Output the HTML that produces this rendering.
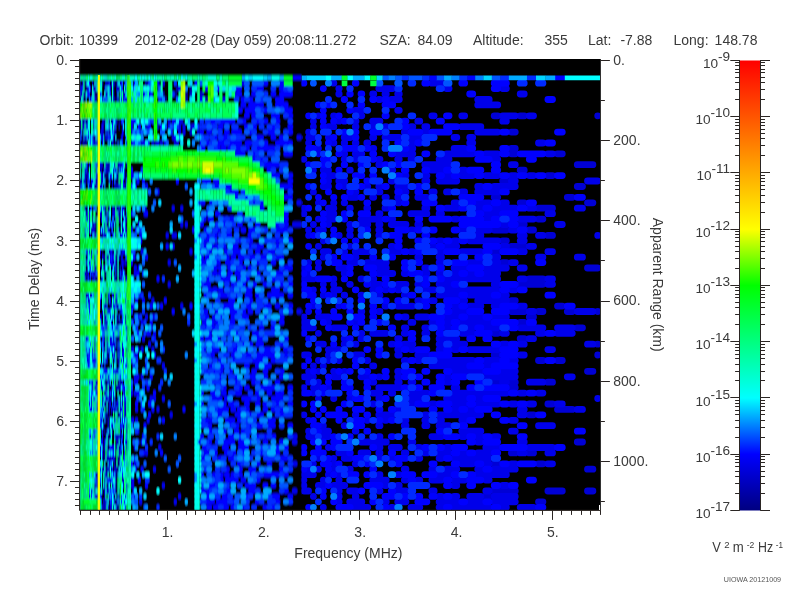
<!DOCTYPE html>
<html><head><meta charset="utf-8"><title>MARSIS AIS Ionogram</title>
<style>
html,body{margin:0;padding:0;background:#fff;}
body{width:800px;height:600px;overflow:hidden;}
svg{display:block;}
text{font-family:"Liberation Sans",sans-serif;font-size:14px;fill:#3a3a3a;}
.s{font-size:9.6px;}
.t{font-size:7.15px;fill:#555;}
</style></head><body>
<svg width="800" height="600" viewBox="0 0 800 600">
<rect width="800" height="600" fill="#fff"/>
<text x="39.6" y="45">Orbit:</text>
<text x="79.1" y="45">10399</text>
<text x="134.8" y="45">2012-02-28 (Day 059) 20:08:11.272</text>
<text x="379.5" y="45">SZA:</text>
<text x="417.5" y="45">84.09</text>
<text x="473" y="45">Altitude:</text>
<text x="544.5" y="45">355</text>
<text x="588" y="45">Lat:</text>
<text x="620.4" y="45">-7.88</text>
<text x="673.5" y="45">Long:</text>
<text x="714.6" y="45">148.78</text>
<rect x="79.3" y="59" width="521.5" height="451.6" fill="#000"/>
<defs><clipPath id="pc"><rect x="80" y="60" width="520" height="450"/></clipPath><clipPath id="pa"><rect x="80" y="60" width="119.8" height="450"/></clipPath><clipPath id="pb"><rect x="199.8" y="60" width="101.8" height="450"/></clipPath><clipPath id="pr"><rect x="301.6" y="60" width="298.4" height="450"/></clipPath><filter id="fa" x="0" y="0" width="800" height="600" filterUnits="userSpaceOnUse"><feGaussianBlur stdDeviation="0.45 1.1"/></filter><filter id="fb" x="0" y="0" width="800" height="600" filterUnits="userSpaceOnUse"><feGaussianBlur stdDeviation="0.7 0.8"/></filter><filter id="fr" x="0" y="0" width="800" height="600" filterUnits="userSpaceOnUse"><feGaussianBlur stdDeviation="0.7 0.7"/></filter></defs>
<g clip-path="url(#pr)"><g filter="url(#fr)">
<rect x="70" y="50" width="540" height="470" fill="#000"/>
<g fill="none" stroke-width="6.8" stroke-linecap="round"><path stroke="#0000d5" d="M494.2 115.8h3.512M520.2 115.8h4.038M597.7 115.8h0.01M511.4 132.1h3.859M511.4 148.4h3.859M511.4 153.8h3.859M557.5 153.8h4.791M577.3 164.7h15.59M520.2 170.2h4.038M547.9 175.6h4.597M502.7 181.0h3.684M577.3 186.5h5.191M494.2 197.3h3.512M567.3 197.3h4.989M520.2 202.8h4.038M587.5 202.8h5.397M538.5 208.2h14M538.5 219.1h4.407M520.2 224.5h4.038M494.2 230.0h12.2M529.3 230.0h4.221M547.9 235.4h4.597M502.7 240.8h3.684M511.4 246.3h12.9M494.2 251.7h3.512M502.7 262.6h3.684M587.5 268.0h10.02M529.3 278.9h13.63M520.2 284.3h22.67M511.4 300.7h3.859M557.5 306.1h4.791M511.4 311.5h12.9M538.5 311.5h4.407M567.3 311.5h4.989M597.7 311.5h0.01M529.3 317.0h4.221M520.2 322.4h4.038M577.3 327.8h5.191M494.2 333.3h3.512M520.2 338.7h4.038M597.7 344.2h0.01M494.2 355.0h3.512M597.7 355.0h0.01M538.5 360.5h4.407M557.5 360.5h4.791M587.5 371.3h5.397M494.2 382.2h3.512M511.4 382.2h3.859M547.9 382.2h4.597M511.4 387.7h3.859M547.9 404.0h4.597M557.5 409.4h14.78M529.3 414.8h4.221M577.3 442.0h5.191M511.4 452.9h3.859M529.3 452.9h4.221M494.2 463.8h3.512M538.5 463.8h4.407M587.5 469.2h5.397M494.2 491.0h21.06M547.9 491.0h14.39M587.5 491.0h5.397M485.8 496.4h3.344M538.5 501.8h4.407"/>
<path stroke="#0000ea" d="M333.6 83.2h0.2673M431.9 83.2h9.654M338.8 88.6h0.3737M378.8 88.6h13.92M446.5 88.6h2.55M502.7 88.6h3.684M338.8 94.0h0.3737M372.7 94.0h1.059M385.0 94.0h1.306M397.7 94.0h1.563M520.2 94.0h4.038M378.8 99.5h1.181M391.3 99.5h7.997M477.7 99.5h11.52M477.7 104.9h20.03M355.3 110.3h6.527M397.7 110.3h1.563M318.4 115.8h0.01M333.6 115.8h0.2673M361.0 115.8h0.8212M431.9 115.8h2.254M461.8 115.8h2.858M502.7 115.8h12.54M529.3 115.8h4.221M313.4 121.2h0.01M338.8 121.2h0.3737M355.3 121.2h0.706M372.7 121.2h7.24M417.8 121.2h1.969M502.7 121.2h3.684M313.4 126.7h0.01M328.4 126.7h5.43M355.3 126.7h0.706M372.7 126.7h1.059M385.0 126.7h1.306M411.0 126.7h1.831M424.8 126.7h2.11M461.8 126.7h19.05M308.6 132.1h0.01M404.3 132.1h1.696M424.8 132.1h2.11M477.7 132.1h20.03M299.3 137.5h0.01M308.7 137.5h4.628M328.4 137.5h0.163M344.2 137.5h6.075M372.7 137.5h1.059M385.0 137.5h14.3M411.0 137.5h8.8M454.1 137.5h2.702M469.7 137.5h3.016M308.6 143.0h0.01M333.6 143.0h0.2673M344.2 143.0h0.4822M355.3 143.0h0.706M366.8 143.0h0.9388M411.0 143.0h1.831M469.7 143.0h3.016M538.5 143.0h4.407M318.4 148.4h0.01M372.7 148.4h1.059M411.0 148.4h1.831M454.1 148.4h10.56M318.4 153.8h0.01M344.2 153.8h0.4822M355.3 153.8h6.527M397.7 153.8h15.09M446.5 153.8h26.13M485.8 153.8h11.86M547.9 153.8h4.597M303.9 159.3h0.01M344.2 159.3h0.4822M355.3 159.3h0.706M378.8 159.3h1.181M397.7 159.3h1.563M411.0 159.3h1.831M439.1 159.3h9.95M494.2 159.3h3.512M378.8 164.7h1.181M424.8 164.7h24.31M511.4 164.7h3.859M313.4 170.2h0.01M323.3 170.2h5.224M349.7 170.2h0.593M391.3 170.2h1.433M431.9 170.2h9.654M461.8 170.2h2.858M328.4 175.6h5.43M404.3 175.6h1.696M424.8 175.6h2.11M446.5 175.6h2.55M461.8 175.6h10.87M485.8 175.6h11.86M511.4 175.6h3.859M529.3 175.6h4.221M328.4 181.0h0.163M338.8 181.0h5.856M391.3 181.0h1.433M424.8 181.0h2.11M439.1 181.0h17.65M511.4 181.0h3.859M587.5 181.0h10.02M323.3 186.5h5.224M344.2 186.5h0.4822M366.8 186.5h0.9388M378.8 186.5h1.181M397.7 186.5h8.259M477.7 186.5h3.178M494.2 186.5h21.06M313.4 191.9h0.01M355.3 191.9h0.706M378.8 191.9h1.181M404.3 191.9h1.696M431.9 191.9h2.254M446.5 191.9h2.55M461.8 191.9h2.858M477.7 191.9h20.03M349.7 197.3h6.299M372.7 197.3h1.059M385.0 197.3h1.306M397.7 197.3h1.563M417.8 197.3h9.079M299.3 202.8h0.01M318.4 202.8h0.01M333.6 202.8h0.2673M344.2 202.8h0.4822M397.7 202.8h1.563M454.1 202.8h2.702M477.7 202.8h11.52M502.7 202.8h3.684M303.9 208.2h0.01M328.4 208.2h5.43M349.7 208.2h0.593M366.8 208.2h0.9388M385.0 208.2h1.306M424.8 208.2h2.11M446.5 208.2h10.25M477.7 208.2h3.178M494.2 208.2h21.06M529.3 208.2h4.221M577.3 208.2h5.191M303.9 213.7h0.01M328.4 213.7h5.43M378.8 213.7h1.181M411.0 213.7h15.91M439.1 213.7h2.4M485.8 213.7h11.86M547.9 213.7h4.597M318.4 219.1h0.01M328.4 219.1h5.43M361.0 219.1h19M391.3 219.1h1.433M454.1 219.1h2.702M485.8 219.1h3.344M520.2 219.1h13.26M295.0 224.5h4.068M313.4 224.5h0.01M328.4 224.5h0.163M349.7 224.5h0.593M361.0 224.5h6.76M378.8 224.5h1.181M391.3 224.5h14.69M417.8 224.5h1.969M502.7 224.5h3.684M557.5 224.5h4.791M308.6 230.0h0.01M318.4 230.0h5.021M349.7 230.0h0.593M378.8 230.0h1.181M411.0 230.0h1.831M461.8 230.0h2.858M477.7 230.0h11.52M511.4 230.0h3.859M308.6 235.4h0.01M338.8 235.4h0.3737M349.7 235.4h0.593M378.8 235.4h1.181M477.7 235.4h3.178M520.2 235.4h4.038M538.5 235.4h4.407M597.7 235.4h0.01M323.3 240.8h0.06077M439.1 240.8h2.4M454.1 240.8h2.702M469.7 240.8h28.05M520.2 240.8h4.038M318.4 246.3h0.01M349.7 246.3h0.593M391.3 246.3h1.433M431.9 246.3h2.254M446.5 246.3h10.25M502.7 246.3h3.684M529.3 246.3h4.221M323.3 251.7h5.224M344.2 251.7h0.4822M355.3 251.7h12.47M391.3 251.7h7.997M411.0 251.7h1.831M439.1 251.7h2.4M461.8 251.7h19.05M520.2 251.7h4.038M547.9 251.7h4.597M323.3 257.2h0.06077M355.3 257.2h0.706M417.8 257.2h1.969M439.1 257.2h2.4M494.2 257.2h3.512M538.5 257.2h4.407M577.3 257.2h5.191M308.6 262.6h0.01M318.4 262.6h0.01M349.7 262.6h6.299M366.8 262.6h19.48M439.1 262.6h2.4M469.7 262.6h11.19M494.2 262.6h3.512M511.4 262.6h3.859M303.9 268.0h0.01M318.4 268.0h0.01M338.8 268.0h5.856M378.8 268.0h7.487M424.8 268.0h2.11M454.1 268.0h10.56M485.8 268.0h20.54M520.2 268.0h4.038M308.6 273.5h0.01M344.2 273.5h0.4822M378.8 273.5h13.92M404.3 273.5h1.696M424.8 273.5h2.11M439.1 273.5h2.4M454.1 273.5h2.702M469.7 273.5h3.016M485.8 273.5h11.86M304.1 278.9h9.3M333.6 278.9h0.2673M361.0 278.9h0.8212M372.7 278.9h1.059M446.5 278.9h51.16M520.2 278.9h4.038M547.9 278.9h4.597M323.3 284.3h0.06077M333.6 284.3h0.2673M349.7 284.3h0.593M372.7 284.3h7.24M397.7 284.3h8.259M417.8 284.3h1.969M439.1 284.3h9.95M494.2 284.3h3.512M547.9 284.3h4.597M313.4 289.8h0.01M333.6 289.8h5.641M372.7 289.8h1.059M385.0 289.8h1.306M397.7 289.8h1.563M424.8 289.8h9.364M446.5 289.8h51.16M511.4 289.8h3.859M323.3 295.2h0.06077M333.6 295.2h0.2673M344.2 295.2h0.4822M361.0 295.2h0.8212M378.8 295.2h1.181M404.3 295.2h1.696M439.1 295.2h17.65M469.7 295.2h19.54M502.7 295.2h3.684M417.8 300.7h1.969M431.9 300.7h2.254M461.8 300.7h2.858M477.7 300.7h28.72M313.4 306.1h0.01M338.8 306.1h0.3737M385.0 306.1h1.306M397.7 306.1h15.09M454.1 306.1h2.702M469.7 306.1h11.19M494.2 306.1h3.512M520.2 306.1h4.038M299.3 311.5h0.01M308.6 311.5h0.01M361.0 311.5h0.8212M378.8 311.5h1.181M454.1 311.5h10.56M529.3 311.5h4.221M577.3 311.5h15.59M303.9 317.0h0.01M318.4 317.0h10.18M404.3 317.0h1.696M417.8 317.0h9.079M446.5 317.0h10.25M469.7 317.0h11.19M494.2 317.0h12.2M304.1 322.4h4.438M328.4 322.4h0.163M355.3 322.4h0.706M411.0 322.4h1.831M431.9 322.4h2.254M446.5 322.4h2.55M461.8 322.4h27.4M304.1 327.8h9.3M333.6 327.8h11.12M404.3 327.8h1.696M424.8 327.8h2.11M446.5 327.8h2.55M469.7 327.8h3.016M485.8 327.8h11.86M520.2 327.8h22.67M557.5 327.8h14.78M318.4 333.3h0.01M361.0 333.3h0.8212M372.7 333.3h13.55M404.3 333.3h1.696M424.8 333.3h2.11M461.8 333.3h10.87M502.7 333.3h3.684M538.5 333.3h4.407M557.5 333.3h14.78M344.2 338.7h0.4822M361.0 338.7h0.8212M397.7 338.7h1.563M439.1 338.7h17.65M529.3 338.7h4.221M318.4 344.2h5.021M344.2 344.2h0.4822M355.3 344.2h0.706M391.3 344.2h1.433M404.3 344.2h8.527M439.1 344.2h2.4M454.1 344.2h10.56M502.7 344.2h3.684M520.2 344.2h4.038M587.5 344.2h5.397M328.4 349.6h10.8M397.7 349.6h1.563M411.0 349.6h1.831M439.1 349.6h2.4M454.1 349.6h2.702M469.7 349.6h28.05M547.9 349.6h4.597M304.1 355.0h4.438M328.4 355.0h0.163M355.3 355.0h6.527M397.7 355.0h1.563M417.8 355.0h9.079M520.2 355.0h4.038M318.4 360.5h0.01M328.4 360.5h0.163M338.8 360.5h0.3737M366.8 360.5h0.9388M404.3 360.5h1.696M417.8 360.5h1.969M439.1 360.5h33.53M485.8 360.5h11.86M511.4 360.5h3.859M313.4 365.9h0.01M323.3 365.9h0.06077M372.7 365.9h1.059M431.9 365.9h32.76M485.8 365.9h3.344M308.6 371.3h0.01M318.4 371.3h0.01M333.6 371.3h0.2673M344.2 371.3h0.4822M397.7 371.3h1.563M454.1 371.3h26.75M502.7 371.3h12.54M304.1 376.8h9.3M333.6 376.8h5.641M361.0 376.8h6.76M378.8 376.8h1.181M397.7 376.8h1.563M446.5 376.8h2.55M485.8 376.8h29.4M567.3 376.8h4.989M308.6 382.2h0.01M318.4 382.2h0.01M372.7 382.2h1.059M397.7 382.2h1.563M411.0 382.2h1.831M446.5 382.2h2.55M502.7 382.2h3.684M529.3 382.2h13.63M303.9 387.7h0.01M313.5 387.7h4.823M328.4 387.7h0.163M378.8 387.7h20.48M454.1 387.7h2.702M313.4 393.1h0.01M372.7 393.1h7.24M391.3 393.1h1.433M411.0 393.1h15.91M454.1 393.1h52.29M520.2 393.1h4.038M538.5 393.1h4.407M318.4 398.5h0.01M333.6 398.5h0.2673M349.7 398.5h0.593M378.8 398.5h1.181M411.0 398.5h8.8M446.5 398.5h18.11M477.7 398.5h3.178M597.7 398.5h0.01M372.7 404.0h1.059M411.0 404.0h1.831M431.9 404.0h2.254M454.1 404.0h10.56M477.7 404.0h20.03M511.4 404.0h3.859M529.3 404.0h4.221M557.5 404.0h4.791M397.7 409.4h1.563M454.1 409.4h2.702M469.7 409.4h3.016M520.2 409.4h4.038M577.3 409.4h5.191M303.9 414.8h0.01M355.3 414.8h0.706M378.8 414.8h13.92M424.8 414.8h2.11M439.1 414.8h41.7M520.2 414.8h4.038M308.6 420.3h0.01M366.8 420.3h0.9388M385.0 420.3h1.306M404.3 420.3h1.696M424.8 420.3h2.11M439.1 420.3h2.4M461.8 420.3h2.858M511.4 420.3h3.859M323.3 425.7h0.06077M344.2 425.7h0.4822M378.8 425.7h1.181M404.3 425.7h1.696M424.8 425.7h2.11M439.1 425.7h9.95M538.5 425.7h14M308.6 431.2h0.01M323.3 431.2h5.224M355.3 431.2h0.706M461.8 431.2h19.05M511.4 431.2h3.859M294.7 436.6h0.01M308.7 436.6h4.628M323.3 436.6h5.224M378.8 436.6h1.181M431.9 436.6h9.654M461.8 436.6h2.858M477.7 436.6h3.178M494.2 436.6h3.512M294.7 442.0h0.01M361.0 442.0h25.31M411.0 442.0h1.831M477.7 442.0h3.178M520.2 442.0h4.038M328.4 447.5h0.163M378.8 447.5h1.181M391.3 447.5h7.997M417.8 447.5h1.969M446.5 447.5h2.55M485.8 447.5h11.86M529.3 447.5h23.23M338.8 452.9h5.856M361.0 452.9h6.76M378.8 452.9h1.181M404.3 452.9h1.696M424.8 452.9h2.11M439.1 452.9h9.95M461.8 452.9h2.858M477.7 452.9h11.52M520.2 452.9h4.038M547.9 452.9h4.597M318.4 458.3h0.01M333.6 458.3h0.2673M344.2 458.3h6.075M378.8 458.3h1.181M391.3 458.3h1.433M417.8 458.3h1.969M439.1 458.3h2.4M454.1 458.3h35.1M294.7 463.8h0.01M313.4 463.8h0.01M333.6 463.8h0.2673M355.3 463.8h0.706M461.8 463.8h10.87M485.8 463.8h3.344M511.4 463.8h3.859M547.9 463.8h4.597M308.6 469.2h0.01M318.4 469.2h0.01M333.6 469.2h0.2673M349.7 469.2h0.593M404.3 469.2h1.696M431.9 469.2h2.254M446.5 469.2h10.25M477.7 469.2h3.178M494.2 469.2h21.06M304.1 474.7h9.3M328.4 474.7h0.163M338.8 474.7h0.3737M378.8 474.7h1.181M397.7 474.7h1.563M439.1 474.7h9.95M477.7 474.7h28.72M303.9 480.1h0.01M323.3 480.1h0.06077M338.8 480.1h0.3737M372.7 480.1h13.55M404.3 480.1h1.696M417.8 480.1h1.969M431.9 480.1h9.654M454.1 480.1h10.56M485.8 480.1h3.344M303.9 485.5h0.01M318.4 485.5h5.021M333.6 485.5h11.12M385.0 485.5h1.306M397.7 485.5h1.563M454.1 485.5h2.702M502.7 485.5h3.684M294.7 491.0h0.01M304.1 491.0h4.438M338.8 491.0h0.3737M349.7 491.0h6.299M378.8 491.0h1.181M397.7 491.0h8.259M431.9 491.0h2.254M485.8 491.0h3.344M313.4 496.4h0.01M338.8 496.4h0.3737M355.3 496.4h0.706M439.1 496.4h2.4M454.1 496.4h2.702M469.7 496.4h11.19M494.2 496.4h21.06M338.8 501.8h0.3737M349.7 501.8h12.12M385.0 501.8h1.306M397.7 501.8h8.259M439.1 501.8h17.65M469.7 501.8h11.19M494.2 501.8h21.06M323.3 507.3h0.06077M355.3 507.3h12.47M391.3 507.3h1.433M411.0 507.3h8.8M439.1 507.3h2.4M454.1 507.3h35.1M502.7 507.3h3.684M520.2 507.3h13.26"/>
<path stroke="#0000ff" d="M303.9 83.2h0.01M355.3 83.2h0.706M424.8 83.2h2.11M461.8 83.2h2.858M494.2 83.2h12.2M323.3 88.6h0.06077M494.2 88.6h3.512M349.7 94.0h0.593M361.0 94.0h0.8212M469.7 94.0h3.016M344.2 99.5h0.4822M372.7 99.5h1.059M385.0 99.5h1.306M547.9 99.5h4.597M318.4 104.9h0.01M328.4 104.9h0.163M361.0 104.9h0.8212M385.0 104.9h7.739M323.3 110.3h0.06077M349.7 110.3h0.593M308.6 115.8h0.01M323.3 115.8h0.06077M338.8 115.8h0.3737M385.0 115.8h1.306M446.5 115.8h2.55M323.3 121.2h0.06077M333.6 121.2h0.2673M344.2 121.2h0.4822M404.3 121.2h1.696M439.1 121.2h2.4M323.3 126.7h0.06077M404.3 126.7h1.696M446.5 126.7h10.25M344.2 132.1h0.4822M355.3 132.1h0.706M372.7 132.1h7.24M411.0 132.1h8.8M431.9 132.1h17.2M502.7 132.1h3.684M557.5 132.1h4.791M333.6 137.5h0.2673M355.3 137.5h0.706M328.4 143.0h0.163M397.7 143.0h1.563M417.8 143.0h1.969M547.9 143.0h4.597M308.7 148.4h4.628M344.2 148.4h11.78M366.8 148.4h0.9388M404.3 148.4h1.696M469.7 148.4h3.016M502.7 148.4h3.684M338.8 153.8h0.3737M372.7 153.8h1.059M391.3 153.8h1.433M424.8 153.8h2.11M477.7 153.8h3.178M502.7 153.8h3.684M520.2 153.8h22.67M323.3 159.3h5.224M372.7 159.3h1.059M477.7 159.3h11.52M529.3 159.3h4.221M308.6 164.7h0.01M323.3 164.7h0.06077M344.2 164.7h0.4822M361.0 164.7h0.8212M385.0 164.7h1.306M397.7 164.7h1.563M494.2 164.7h3.512M338.8 170.2h0.3737M404.3 170.2h1.696M424.8 170.2h2.11M446.5 170.2h2.55M469.7 170.2h11.19M494.2 170.2h3.512M323.3 175.6h0.06077M355.3 175.6h6.527M372.7 175.6h1.059M397.7 175.6h1.563M439.1 175.6h2.4M454.1 175.6h2.702M477.7 175.6h3.178M502.7 175.6h3.684M520.2 175.6h4.038M538.5 175.6h4.407M557.5 175.6h4.791M323.3 181.0h0.06077M366.8 181.0h0.9388M308.6 186.5h0.01M338.8 186.5h0.3737M361.0 186.5h0.8212M385.0 186.5h1.306M417.8 186.5h1.969M485.8 186.5h3.344M328.4 191.9h0.163M349.7 191.9h0.593M397.7 191.9h1.563M417.8 191.9h1.969M502.7 191.9h3.684M318.4 197.3h0.01M333.6 197.3h0.2673M344.2 197.3h0.4822M361.0 197.3h0.8212M461.8 197.3h19.05M577.3 197.3h5.191M323.3 202.8h0.06077M366.8 202.8h0.9388M404.3 202.8h1.696M424.8 202.8h9.364M469.7 202.8h3.016M494.2 202.8h3.512M529.3 202.8h4.221M308.6 208.2h0.01M391.3 208.2h1.433M439.1 208.2h2.4M461.8 208.2h2.858M485.8 208.2h3.344M520.2 208.2h4.038M323.3 213.7h0.06077M344.2 213.7h0.4822M361.0 213.7h6.76M477.7 213.7h3.178M502.7 213.7h12.54M323.3 219.1h0.06077M344.2 219.1h0.4822M385.0 219.1h1.306M417.8 219.1h1.969M431.9 219.1h17.2M461.8 219.1h19.05M494.2 219.1h3.512M511.4 219.1h3.859M323.3 224.5h0.06077M461.8 224.5h35.91M511.4 224.5h3.859M333.6 230.0h0.2673M366.8 230.0h0.9388M397.7 230.0h8.259M417.8 230.0h1.969M431.9 230.0h2.254M454.1 230.0h2.702M520.2 230.0h4.038M313.4 235.4h0.01M333.6 235.4h0.2673M391.3 235.4h7.997M424.8 235.4h2.11M344.2 240.8h0.4822M355.3 240.8h0.706M397.7 240.8h1.563M417.8 240.8h1.969M431.9 240.8h2.254M446.5 240.8h2.55M461.8 240.8h2.858M308.6 246.3h0.01M397.7 246.3h1.563M439.1 246.3h2.4M485.8 246.3h11.86M404.3 251.7h1.696M417.8 251.7h1.969M446.5 251.7h10.25M485.8 251.7h3.344M502.7 251.7h12.54M333.6 257.2h0.2673M344.2 257.2h6.075M372.7 257.2h1.059M391.3 257.2h1.433M477.7 257.2h3.178M333.6 262.6h5.641M404.3 262.6h1.696M417.8 262.6h1.969M454.1 262.6h10.56M538.5 262.6h4.407M308.6 268.0h0.01M349.7 268.0h0.593M366.8 268.0h6.998M404.3 268.0h1.696M439.1 268.0h2.4M469.7 268.0h11.19M303.9 273.5h0.01M349.7 273.5h0.593M372.7 273.5h1.059M411.0 273.5h8.8M461.8 273.5h2.858M477.7 273.5h3.178M318.4 278.9h10.18M344.2 278.9h0.4822M385.0 278.9h1.306M424.8 278.9h2.11M439.1 278.9h2.4M303.9 284.3h0.01M366.8 284.3h0.9388M385.0 284.3h1.306M424.8 284.3h2.11M454.1 284.3h2.702M502.7 284.3h12.54M304.1 289.8h4.438M323.3 289.8h0.06077M355.3 289.8h0.706M378.8 289.8h1.181M391.3 289.8h1.433M502.7 289.8h3.684M520.2 289.8h4.038M308.7 295.2h4.628M328.4 295.2h0.163M411.0 295.2h1.831M461.8 295.2h2.858M494.2 295.2h3.512M547.9 295.2h4.597M313.4 300.7h0.01M361.0 300.7h0.8212M385.0 300.7h1.306M397.7 300.7h1.563M424.8 300.7h2.11M446.5 300.7h10.25M308.6 306.1h0.01M344.2 306.1h0.4822M372.7 306.1h1.059M424.8 306.1h2.11M446.5 306.1h2.55M461.8 306.1h2.858M502.7 306.1h12.54M567.3 306.1h4.989M318.4 311.5h0.01M333.6 311.5h0.2673M349.7 311.5h0.593M372.7 311.5h1.059M446.5 311.5h2.55M469.7 311.5h11.19M494.2 311.5h12.2M333.6 317.0h5.641M355.3 317.0h6.527M372.7 317.0h1.059M397.7 317.0h1.563M431.9 317.0h9.654M461.8 317.0h2.858M485.8 317.0h3.344M323.3 322.4h0.06077M349.7 322.4h0.593M361.0 322.4h0.8212M378.8 322.4h1.181M439.1 322.4h2.4M454.1 322.4h2.702M494.2 322.4h21.06M529.3 322.4h4.221M328.4 327.8h0.163M355.3 327.8h0.706M391.3 327.8h1.433M439.1 327.8h2.4M454.1 327.8h2.702M477.7 327.8h3.178M511.4 327.8h3.859M303.9 333.3h0.01M411.0 333.3h1.831M439.1 333.3h2.4M477.7 333.3h11.52M547.9 333.3h4.597M308.6 338.7h0.01M349.7 338.7h0.593M411.0 338.7h1.831M469.7 338.7h3.016M485.8 338.7h3.344M333.6 344.2h0.2673M397.7 344.2h1.563M494.2 344.2h3.512M511.4 344.2h3.859M366.8 349.6h0.9388M378.8 349.6h1.181M404.3 349.6h1.696M417.8 349.6h9.079M446.5 349.6h2.55M461.8 349.6h2.858M502.7 349.6h12.54M378.8 355.0h1.181M431.9 355.0h17.2M502.7 355.0h12.54M308.6 360.5h0.01M355.3 360.5h0.706M411.0 360.5h1.831M477.7 360.5h3.178M502.7 360.5h3.684M547.9 360.5h4.597M303.9 365.9h0.01M355.3 365.9h0.706M469.7 365.9h11.19M494.2 365.9h21.06M313.4 371.3h0.01M338.8 371.3h0.3737M349.7 371.3h0.593M366.8 371.3h0.9388M385.0 371.3h1.306M404.3 371.3h8.527M424.8 371.3h2.11M446.5 371.3h2.55M485.8 371.3h11.86M328.4 376.8h0.163M372.7 376.8h1.059M385.0 376.8h1.306M404.3 376.8h1.696M417.8 376.8h1.969M439.1 376.8h2.4M454.1 376.8h10.56M328.4 382.2h0.163M344.2 382.2h0.4822M366.8 382.2h0.9388M424.8 382.2h2.11M439.1 382.2h2.4M454.1 382.2h2.702M477.7 382.2h3.178M323.3 387.7h0.06077M344.2 387.7h6.075M366.8 387.7h0.9388M404.3 387.7h1.696M417.8 387.7h1.969M431.9 387.7h9.654M469.7 387.7h3.016M485.8 387.7h20.54M304.1 393.1h4.438M323.3 393.1h0.06077M349.7 393.1h0.593M431.9 393.1h2.254M511.4 393.1h3.859M529.3 393.1h4.221M355.3 398.5h6.527M385.0 398.5h1.306M469.7 398.5h3.016M485.8 398.5h11.86M303.9 404.0h0.01M313.4 404.0h0.01M344.2 404.0h0.4822M417.8 404.0h9.079M439.1 404.0h9.95M469.7 404.0h3.016M502.7 404.0h3.684M520.2 404.0h4.038M313.4 409.4h0.01M323.3 409.4h0.06077M338.8 409.4h0.3737M355.3 409.4h6.527M378.8 409.4h1.181M391.3 409.4h1.433M431.9 409.4h2.254M446.5 409.4h2.55M461.8 409.4h2.858M477.7 409.4h11.52M318.4 414.8h0.01M328.4 414.8h16.29M366.8 414.8h0.9388M494.2 414.8h3.512M538.5 414.8h4.407M313.4 420.3h0.01M338.8 420.3h0.3737M355.3 420.3h6.527M378.8 420.3h1.181M391.3 420.3h1.433M469.7 420.3h3.016M502.7 420.3h3.684M313.5 425.7h4.823M355.3 425.7h6.527M461.8 425.7h2.858M520.2 425.7h4.038M318.4 431.2h0.01M366.8 431.2h0.9388M439.1 431.2h2.4M577.3 431.2h5.191M333.6 436.6h0.2673M349.7 436.6h0.593M391.3 436.6h1.433M446.5 436.6h10.25M469.7 436.6h3.016M485.8 436.6h3.344M520.2 436.6h4.038M313.4 442.0h0.01M323.3 442.0h0.06077M333.6 442.0h5.641M469.7 442.0h3.016M485.8 442.0h11.86M303.9 447.5h0.01M318.4 447.5h0.01M333.6 447.5h0.2673M372.7 447.5h1.059M424.8 447.5h2.11M439.1 447.5h2.4M454.1 447.5h10.56M502.7 447.5h21.58M557.5 447.5h4.791M303.9 452.9h0.01M313.5 452.9h9.884M349.7 452.9h0.593M391.3 452.9h1.433M454.1 452.9h2.702M469.7 452.9h3.016M494.2 452.9h3.512M328.4 458.3h0.163M355.3 458.3h6.527M397.7 458.3h8.259M446.5 458.3h2.55M323.3 463.8h5.224M338.8 463.8h0.3737M366.8 463.8h0.9388M397.7 463.8h1.563M431.9 463.8h2.254M454.1 463.8h2.702M477.7 463.8h3.178M502.7 463.8h3.684M520.2 463.8h13.26M303.9 469.2h0.01M328.4 469.2h0.163M372.7 469.2h1.059M485.8 469.2h3.344M333.6 474.7h0.2673M349.7 474.7h6.299M366.8 474.7h0.9388M404.3 474.7h8.527M424.8 474.7h9.364M454.1 474.7h2.702M469.7 474.7h3.016M411.0 480.1h1.831M446.5 480.1h2.55M469.7 480.1h11.19M529.3 480.1h4.221M328.4 485.5h0.163M366.8 485.5h13.18M446.5 485.5h2.55M469.7 485.5h3.016M494.2 485.5h3.512M511.4 485.5h3.859M323.3 491.0h0.06077M361.0 491.0h0.8212M391.3 491.0h1.433M323.3 496.4h0.06077M385.0 496.4h7.739M404.3 496.4h1.696M417.8 496.4h1.969M431.9 496.4h2.254M446.5 496.4h2.55M333.6 501.8h0.2673M372.7 501.8h1.059M417.8 501.8h9.079M461.8 501.8h2.858M485.8 501.8h3.344M308.6 507.3h0.01M338.8 507.3h11.45M385.0 507.3h1.306M446.5 507.3h2.55M494.2 507.3h3.512M538.5 507.3h4.407"/>
<path fill="#0000ff" stroke="none" d="M292.50 75.4h9.27v4.84h-9.27zM429.39 75.4h7.45v4.84h-7.45zM467.15 75.4h8.22v4.84h-8.22zM555.01 75.4h9.99v4.84h-9.99z"/>
<path stroke="#002bff" d="M411.0 83.2h1.831M520.2 83.2h4.038M538.5 83.2h4.407M349.7 88.6h0.593M397.7 88.6h1.563M439.1 88.6h2.4M328.4 99.5h0.163M361.0 99.5h0.8212M323.3 104.9h0.06077M333.6 104.9h0.2673M349.7 104.9h0.593M366.8 110.3h0.9388M385.0 110.3h1.306M313.4 115.8h0.01M355.3 115.8h0.706M411.0 115.8h1.831M349.7 121.2h0.593M397.7 121.2h1.563M366.8 126.7h0.9388M391.3 126.7h7.997M313.4 132.1h0.01M323.3 132.1h5.224M338.8 132.1h0.3737M385.0 132.1h1.306M318.4 137.5h0.01M404.3 137.5h1.696M424.8 137.5h9.364M318.4 143.0h0.01M385.0 143.0h1.306M404.3 143.0h1.696M424.8 143.0h2.11M328.4 148.4h0.163M338.8 148.4h0.3737M361.0 148.4h0.8212M385.0 148.4h1.306M308.6 153.8h0.01M323.3 153.8h0.06077M439.1 153.8h2.4M333.6 159.3h0.2673M349.7 159.3h0.593M361.0 159.3h6.76M417.8 159.3h1.969M313.5 164.7h4.823M328.4 164.7h0.163M366.8 164.7h0.9388M391.3 164.7h1.433M404.3 164.7h8.527M454.1 164.7h2.702M361.0 170.2h0.8212M372.7 170.2h1.059M454.1 170.2h2.702M308.7 175.6h4.628M338.8 175.6h5.856M417.8 175.6h1.969M355.3 181.0h0.706M372.7 181.0h7.24M397.7 181.0h8.259M313.4 186.5h0.01M349.7 186.5h6.299M411.0 186.5h1.831M424.8 186.5h2.11M366.8 191.9h6.998M454.1 191.9h2.702M308.6 197.3h0.01M404.3 197.3h1.696M431.9 197.3h2.254M385.0 202.8h7.739M461.8 202.8h2.858M318.4 208.2h0.01M469.7 208.2h3.016M349.7 213.7h0.593M391.3 213.7h7.997M469.7 213.7h3.016M308.6 219.1h0.01M502.7 219.1h3.684M303.9 224.5h0.01M355.3 224.5h0.706M361.0 230.0h0.8212M424.8 230.0h2.11M469.7 230.0h3.016M318.4 235.4h0.01M361.0 235.4h0.8212M385.0 235.4h1.306M411.0 235.4h1.831M461.8 235.4h10.87M328.4 240.8h0.163M378.8 240.8h1.181M424.8 240.8h2.11M344.2 246.3h0.4822M355.3 246.3h0.706M366.8 246.3h0.9388M417.8 246.3h9.079M313.4 251.7h0.01M338.8 251.7h0.3737M372.7 251.7h1.059M385.0 251.7h1.306M424.8 251.7h9.364M328.4 257.2h0.163M461.8 257.2h2.858M485.8 257.2h3.344M303.9 262.6h0.01M328.4 262.6h0.163M361.0 262.6h0.8212M411.0 262.6h1.831M446.5 262.6h2.55M485.8 262.6h3.344M411.0 268.0h1.831M431.9 268.0h2.254M313.4 273.5h0.01M446.5 273.5h2.55M366.8 278.9h0.9388M417.8 278.9h1.969M431.9 278.9h2.254M391.3 284.3h1.433M461.8 284.3h2.858M404.3 289.8h1.696M417.8 289.8h1.969M439.1 289.8h2.4M303.9 295.2h0.01M372.7 295.2h1.059M424.8 295.2h2.11M328.4 300.7h0.163M338.8 300.7h0.3737M349.7 300.7h0.593M372.7 300.7h7.24M404.3 300.7h1.696M318.4 306.1h0.01M349.7 306.1h0.593M391.3 306.1h1.433M417.8 306.1h1.969M439.1 306.1h2.4M439.1 311.5h2.4M372.7 322.4h1.059M385.0 322.4h1.306M366.8 327.8h6.998M431.9 327.8h2.254M461.8 327.8h2.858M502.7 327.8h3.684M344.2 333.3h0.4822M355.3 333.3h0.706M391.3 333.3h1.433M446.5 333.3h10.25M313.4 338.7h0.01M333.6 338.7h0.2673M366.8 338.7h0.9388M424.8 338.7h2.11M308.6 344.2h0.01M349.7 344.2h0.593M378.8 344.2h1.181M446.5 344.2h2.55M318.4 349.6h0.01M344.2 349.6h0.4822M333.6 355.0h0.2673M349.7 355.0h0.593M385.0 355.0h1.306M323.3 360.5h0.06077M333.6 360.5h0.2673M361.0 360.5h0.8212M424.8 360.5h9.364M404.3 365.9h1.696M323.3 371.3h0.06077M361.0 371.3h0.8212M344.2 376.8h0.4822M411.0 376.8h1.831M469.7 376.8h11.19M313.4 382.2h0.01M349.7 382.2h0.593M485.8 382.2h3.344M411.0 387.7h1.831M477.7 387.7h3.178M318.4 393.1h0.01M328.4 393.1h10.8M355.3 393.1h0.706M366.8 393.1h0.9388M404.3 393.1h1.696M439.1 393.1h9.95M366.8 398.5h0.9388M404.3 398.5h1.696M424.8 398.5h2.11M349.7 404.0h0.593M366.8 404.0h0.9388M378.8 404.0h1.181M397.7 404.0h8.259M404.3 409.4h8.527M397.7 414.8h22.06M431.9 414.8h2.254M323.3 420.3h0.06077M349.7 420.3h0.593M372.7 420.3h1.059M397.7 420.3h1.563M431.9 420.3h2.254M454.1 425.7h2.702M313.4 431.2h0.01M404.3 431.2h8.527M446.5 431.2h2.55M318.4 436.6h0.01M338.8 436.6h0.3737M361.0 436.6h0.8212M372.7 436.6h1.059M397.7 436.6h1.563M411.0 436.6h1.831M349.7 442.0h0.593M338.8 447.5h11.45M411.0 447.5h1.831M431.9 447.5h2.254M417.8 452.9h1.969M431.9 452.9h2.254M313.4 458.3h0.01M323.3 458.3h0.06077M366.8 458.3h0.9388M385.0 458.3h1.306M411.0 458.3h1.831M494.2 458.3h3.512M304.1 463.8h4.438M361.0 463.8h0.8212M372.7 463.8h1.059M391.3 463.8h1.433M338.8 469.2h5.856M439.1 469.2h2.4M344.2 474.7h0.4822M372.7 474.7h1.059M461.8 474.7h2.858M328.4 480.1h0.163M349.7 480.1h6.299M391.3 485.5h1.433M411.0 485.5h15.91M318.4 491.0h0.01M333.6 491.0h0.2673M372.7 491.0h1.059M411.0 491.0h1.831M372.7 496.4h1.059M397.7 496.4h1.563M411.0 496.4h1.831M318.4 501.8h0.01M378.8 501.8h1.181M378.8 507.3h1.181"/>
<path fill="#002bff" stroke="none" d="M401.78 75.4h6.90v4.84h-6.90zM422.28 75.4h7.31v4.84h-7.31zM459.29 75.4h8.06v4.84h-8.06zM500.20 75.4h8.88v4.84h-8.88zM526.78 75.4h9.42v4.84h-9.42z"/>
<path stroke="#0055ff" d="M313.4 83.2h0.01M378.8 83.2h1.181M397.7 83.2h1.563M446.5 83.2h2.55"/>
<path fill="#0055ff" stroke="none" d="M382.48 75.4h6.51v4.84h-6.51zM395.22 75.4h6.76v4.84h-6.76zM408.48 75.4h14.00v4.84h-14.00zM436.64 75.4h7.60v4.84h-7.60zM491.69 75.4h8.71v4.84h-8.71z"/>
<path stroke="#0080ff" d="M328.4 83.2h0.163M378.8 126.7h1.181M349.7 132.1h0.593M391.3 148.4h7.997M313.4 153.8h0.01M328.4 153.8h0.163M308.6 170.2h0.01M385.0 170.2h1.306M391.3 175.6h1.433M338.8 219.1h0.3737M323.3 235.4h0.06077M366.8 235.4h0.9388M333.6 240.8h0.2673M313.4 257.2h0.01M385.0 257.2h1.306M366.8 295.2h0.9388M318.4 300.7h0.01M333.6 300.7h0.2673M361.0 306.1h0.8212M349.7 317.0h0.593M385.0 317.0h1.306M313.4 322.4h0.01M338.8 355.0h0.3737M397.7 398.5h1.563M318.4 404.0h0.01M349.7 425.7h0.593M344.2 436.6h0.4822M318.4 442.0h0.01M355.3 442.0h0.706M372.7 458.3h1.059M378.8 463.8h1.181M313.4 469.2h0.01M391.3 474.7h1.433M333.6 496.4h0.2673M313.4 507.3h0.01M397.7 507.3h1.563"/>
<path fill="#0080ff" stroke="none" d="M388.78 75.4h6.63v4.84h-6.63zM451.59 75.4h7.90v4.84h-7.90zM475.17 75.4h8.38v4.84h-8.38z"/>
<path fill="#00aaff" stroke="none" d="M301.57 75.4h4.87v4.84h-4.87zM331.06 75.4h10.84v4.84h-10.84zM352.77 75.4h11.73v4.84h-11.73zM444.04 75.4h7.75v4.84h-7.75zM508.88 75.4h18.10v4.84h-18.10zM545.41 75.4h9.80v4.84h-9.80z"/>
<path fill="#00d4ff" stroke="none" d="M306.24 75.4h19.85v4.84h-19.85zM376.30 75.4h6.38v4.84h-6.38zM483.35 75.4h8.54v4.84h-8.54zM536.00 75.4h9.61v4.84h-9.61z"/>
<path fill="#00ffff" stroke="none" d="M325.89 75.4h5.36v4.84h-5.36zM347.18 75.4h5.79v4.84h-5.79zM364.30 75.4h6.14v4.84h-6.14zM564.80 75.4h35.40v4.84h-35.40z"/>
<path fill="#00ff40" stroke="none" d="M341.70 80.4h5.68v5.74h-5.68zM370.24 80.4h6.26v5.74h-6.26z"/>
<path fill="#00ff2b" stroke="none" d="M341.70 75.4h5.68v4.84h-5.68zM370.24 75.4h6.26v4.84h-6.26z"/>
</g></g></g>
<g clip-path="url(#pb)"><g filter="url(#fb)">
<rect x="70" y="50" width="540" height="470" fill="#000"/>
<g fill="none" stroke-width="6.1" stroke-linecap="round"><path stroke="#0000aa" d="M206.4 99.5h0.01"/>
<path stroke="#0000c0" d="M201.1 94.0h0.01"/>
<path stroke="#0000d5" d="M198.5 132.1h0.01"/>
<path stroke="#0000ea" d="M243.4 83.2h0.01M223.8 99.5h0.01M193.5 126.7h0.01M308.6 132.1h0.01M299.3 137.5h0.01M308.6 137.5h0.01M308.6 143.0h0.01M303.9 159.3h0.01M299.3 202.8h0.01M303.9 208.2h0.01M303.9 213.7h0.01M295.0 224.5h4.168M193.5 230.0h0.01M308.6 230.0h0.01M308.6 235.4h0.01M308.6 262.6h0.01M303.9 268.0h0.01M308.6 273.5h0.01M304.0 278.9h4.538M299.3 311.5h0.01M308.6 311.5h0.01M303.9 317.0h0.01M304.0 322.4h4.538M304.0 327.8h4.538M304.0 355.0h4.538M308.6 371.3h0.01M304.0 376.8h4.538M308.6 382.2h0.01M303.9 387.7h0.01M303.9 414.8h0.01M308.6 420.3h0.01M308.6 431.2h0.01M294.7 436.6h0.01M308.6 436.6h0.01M294.7 442.0h0.01M294.7 463.8h0.01M308.6 469.2h0.01M304.0 474.7h4.538M303.9 480.1h0.01M303.9 485.5h0.01M294.7 491.0h0.01M304.0 491.0h4.538"/>
<path stroke="#0000ff" d="M196.0 83.2h0.01M265.4 83.2h0.01M281.7 83.2h0.01M303.9 83.2h0.01M206.4 88.6h0.01M217.8 88.6h0.01M237.4 88.6h1.818M258.4 88.6h2.674M281.7 88.6h0.01M237.4 94.0h1.818M254.1 94.0h0.01M273.4 94.0h0.01M282.0 94.0h8.039M201.1 99.5h0.01M243.4 99.5h0.01M250.4 99.5h0.01M277.9 99.5h3.471M243.4 104.9h0.01M251.1 104.9h9.951M277.9 104.9h7.783M239.9 110.3h0.01M247.5 110.3h5.908M265.4 110.3h0.01M286.2 110.3h3.812M246.9 115.8h0.01M254.1 115.8h0.01M273.8 115.8h3.305M290.3 115.8h0.01M308.6 115.8h0.01M213.0 121.2h0.8245M221.7 121.2h10.76M243.4 121.2h0.01M257.8 121.2h0.01M265.4 121.2h0.01M277.5 121.2h0.01M206.4 126.7h0.01M212.0 126.7h0.01M220.8 126.7h0.01M246.9 126.7h0.01M254.1 126.7h0.01M273.4 126.7h0.01M290.3 126.7h0.01M201.1 132.1h0.01M209.2 132.1h0.01M226.9 132.1h0.01M234.1 132.1h5.077M250.4 132.1h0.01M269.8 132.1h3.142M290.3 132.1h0.01M203.7 137.5h0.01M214.9 137.5h0.01M224.7 137.5h1.301M258.4 137.5h2.674M273.4 137.5h0.01M281.7 137.5h0.01M201.1 143.0h0.01M207.5 143.0h0.6M218.8 143.0h4.128M230.9 143.0h8.272M247.5 143.0h2.233M265.4 143.0h0.01M277.9 143.0h12.18M202.2 148.4h0.3844M217.8 148.4h0.01M223.8 148.4h0.01M230.1 148.4h0.01M237.4 148.4h1.818M246.9 148.4h0.01M258.4 148.4h14.62M308.6 148.4h0.01M237.4 153.8h5.279M254.1 153.8h0.01M286.2 153.8h3.812M254.1 159.3h0.01M261.6 159.3h0.01M265.9 164.7h11.19M308.6 164.7h0.01M269.4 170.2h0.01M273.8 175.6h3.305M290.3 175.6h0.01M204.9 181.0h3.269M215.9 181.0h0.9401M290.3 181.0h0.01M215.9 186.5h0.9401M227.8 186.5h1.426M282.0 186.5h8.039M308.6 186.5h0.01M230.9 191.9h4.88M236.6 197.3h0.01M246.9 197.3h0.01M286.2 197.3h3.812M202.2 202.8h0.3844M212.0 202.8h0.01M217.8 202.8h0.01M223.8 202.8h0.01M254.1 202.8h0.01M261.6 202.8h0.01M261.6 208.2h0.01M308.6 208.2h0.01M206.4 213.7h0.01M217.8 213.7h0.01M285.9 213.7h0.01M203.7 219.1h0.01M210.3 219.1h0.7111M223.8 219.1h0.01M230.9 219.1h1.554M250.4 219.1h0.01M285.9 219.1h0.01M201.1 224.5h0.01M223.8 224.5h0.01M239.9 224.5h0.01M257.8 224.5h0.01M277.5 224.5h0.01M285.9 224.5h0.01M206.4 230.0h0.01M217.8 230.0h0.01M243.4 230.0h0.01M251.1 230.0h2.377M277.9 230.0h7.783M207.5 235.4h0.6M214.9 235.4h0.01M227.8 235.4h1.426M250.4 235.4h0.01M203.7 240.8h0.01M209.2 240.8h0.01M239.9 240.8h0.01M250.4 240.8h0.01M277.5 240.8h0.01M290.3 240.8h0.01M204.9 246.3h0.4911M212.0 246.3h0.01M217.8 246.3h0.01M223.8 246.3h0.01M234.1 246.3h1.685M250.4 246.3h0.01M258.4 246.3h2.674M277.5 246.3h0.01M308.6 246.3h0.01M209.2 251.7h0.01M226.9 251.7h0.01M234.1 251.7h5.077M257.8 251.7h0.01M269.8 251.7h3.142M201.1 257.2h0.01M207.5 257.2h0.6M217.8 257.2h0.01M226.9 257.2h0.01M233.3 257.2h0.01M240.7 257.2h1.953M251.1 257.2h2.377M262.1 257.2h2.827M277.9 257.2h3.471M202.2 262.6h3.107M217.8 262.6h0.01M227.8 262.6h1.426M239.9 262.6h0.01M257.8 262.6h0.01M273.4 262.6h0.01M201.1 268.0h0.01M214.9 268.0h0.01M220.8 268.0h0.01M230.1 268.0h0.01M236.6 268.0h0.01M243.4 268.0h0.01M250.4 268.0h0.01M286.2 268.0h3.812M308.6 268.0h0.01M214.9 273.5h0.01M220.8 273.5h0.01M230.1 273.5h0.01M237.4 273.5h1.818M257.8 273.5h0.01M277.9 273.5h3.471M303.9 273.5h0.01M209.2 278.9h0.01M221.7 278.9h7.505M239.9 278.9h0.01M246.9 278.9h0.01M273.4 278.9h0.01M204.9 284.3h3.269M233.3 284.3h0.01M243.4 284.3h0.01M254.1 284.3h0.01M265.4 284.3h0.01M281.7 284.3h0.01M290.3 284.3h0.01M303.9 284.3h0.01M209.2 289.8h0.01M214.9 289.8h0.01M220.8 289.8h0.01M233.3 289.8h0.01M247.5 289.8h2.233M273.8 289.8h3.305M304.0 289.8h4.538M206.4 295.2h0.01M212.0 295.2h0.01M221.7 295.2h4.31M236.6 295.2h0.01M247.5 295.2h2.233M257.8 295.2h0.01M269.8 295.2h11.51M290.3 295.2h0.01M308.6 295.2h0.01M230.9 300.7h1.554M250.4 300.7h0.01M224.7 306.1h7.756M247.5 306.1h2.233M265.9 306.1h2.983M277.5 306.1h0.01M290.3 306.1h0.01M308.6 306.1h0.01M204.9 311.5h0.4911M217.8 311.5h0.01M223.8 311.5h0.01M230.9 311.5h4.88M243.4 311.5h0.01M250.4 311.5h0.01M206.4 317.0h0.01M214.9 317.0h0.01M220.8 317.0h0.01M233.3 317.0h0.01M244.1 317.0h2.092M265.4 317.0h0.01M281.7 317.0h0.01M204.9 322.4h0.4911M212.0 322.4h0.01M217.8 322.4h0.01M230.9 322.4h1.554M281.7 322.4h0.01M206.4 327.8h0.01M213.0 327.8h0.8245M261.6 327.8h0.01M273.4 327.8h0.01M203.7 333.3h0.01M209.2 333.3h0.01M226.9 333.3h0.01M236.6 333.3h0.01M254.7 333.3h2.524M303.9 333.3h0.01M201.1 338.7h0.01M207.5 338.7h3.434M217.8 338.7h0.01M239.9 338.7h0.01M258.4 338.7h2.674M285.9 338.7h0.01M308.6 338.7h0.01M212.0 344.2h0.01M223.8 344.2h0.01M236.6 344.2h0.01M243.4 344.2h0.01M250.4 344.2h0.01M258.4 344.2h2.674M281.7 344.2h0.01M203.7 349.6h0.01M213.0 349.6h3.774M234.1 349.6h1.685M265.9 349.6h2.983M285.9 349.6h0.01M212.0 355.0h0.01M223.8 355.0h0.01M233.3 355.0h0.01M247.5 355.0h2.233M258.4 355.0h14.62M285.9 355.0h0.01M220.8 360.5h0.01M233.3 360.5h0.01M254.7 360.5h6.349M273.4 360.5h0.01M308.6 360.5h0.01M201.1 365.9h0.01M212.0 365.9h0.01M221.7 365.9h1.178M246.9 365.9h0.01M257.8 365.9h0.01M265.9 365.9h2.983M303.9 365.9h0.01M206.4 371.3h0.01M214.9 371.3h0.01M220.8 371.3h0.01M230.1 371.3h0.01M254.1 371.3h0.01M265.4 371.3h0.01M281.7 371.3h0.01M209.2 376.8h0.01M220.8 376.8h0.01M236.6 376.8h0.01M251.1 376.8h2.377M265.4 376.8h0.01M281.7 376.8h0.01M206.4 382.2h0.01M214.9 382.2h0.01M220.8 382.2h0.01M236.6 382.2h0.01M254.1 382.2h0.01M277.5 382.2h0.01M223.8 387.7h0.01M239.9 387.7h0.01M246.9 387.7h0.01M262.1 387.7h10.87M290.3 387.7h0.01M201.1 393.1h0.01M213.0 393.1h0.8245M223.8 393.1h0.01M237.4 393.1h1.818M257.8 393.1h0.01M269.4 393.1h0.01M277.9 393.1h3.471M304.0 393.1h4.538M213.0 398.5h6.783M226.9 398.5h0.01M244.1 398.5h5.694M257.8 398.5h0.01M273.8 398.5h7.532M201.1 404.0h0.01M223.8 404.0h0.01M230.9 404.0h1.554M246.9 404.0h0.01M257.8 404.0h0.01M265.4 404.0h0.01M277.5 404.0h0.01M290.3 404.0h0.01M303.9 404.0h0.01M209.2 409.4h0.01M218.8 409.4h7.259M233.3 409.4h0.01M239.9 409.4h0.01M246.9 409.4h0.01M265.4 409.4h0.01M273.4 409.4h0.01M281.7 409.4h0.01M218.8 414.8h1.058M237.4 414.8h1.818M250.4 414.8h0.01M258.4 414.8h2.674M281.7 414.8h0.01M206.4 420.3h0.01M212.0 420.3h0.01M217.8 420.3h0.01M227.8 420.3h4.686M239.9 420.3h0.01M269.8 420.3h3.142M201.1 425.7h0.01M209.2 425.7h0.01M230.1 425.7h0.01M236.6 425.7h0.01M250.4 425.7h0.01M258.4 425.7h2.674M269.8 425.7h3.142M290.3 425.7h0.01M210.3 431.2h0.7111M217.8 431.2h0.01M223.8 431.2h0.01M236.6 431.2h0.01M243.4 431.2h0.01M201.1 436.6h0.01M230.9 436.6h1.554M239.9 436.6h0.01M257.8 436.6h0.01M265.4 436.6h0.01M273.4 436.6h0.01M209.2 442.0h0.01M224.7 442.0h7.756M240.7 442.0h1.953M265.4 442.0h0.01M281.7 442.0h0.01M204.9 447.5h0.4911M212.0 447.5h0.01M224.7 447.5h1.301M240.7 447.5h5.484M277.5 447.5h0.01M285.9 447.5h0.01M303.9 447.5h0.01M206.4 452.9h0.01M214.9 452.9h0.01M226.9 452.9h0.01M233.3 452.9h0.01M243.4 452.9h0.01M261.6 452.9h0.01M277.5 452.9h0.01M303.9 452.9h0.01M203.7 458.3h0.01M220.8 458.3h0.01M230.9 458.3h1.554M282.0 458.3h3.64M201.1 463.8h0.01M206.4 463.8h0.01M239.9 463.8h0.01M257.8 463.8h0.01M269.4 463.8h0.01M226.9 469.2h0.01M239.9 469.2h0.01M251.1 469.2h2.377M281.7 469.2h0.01M303.9 469.2h0.01M201.1 474.7h0.01M214.9 474.7h0.01M220.8 474.7h0.01M226.9 474.7h0.01M233.3 474.7h0.01M239.9 474.7h0.01M250.4 474.7h0.01M265.9 474.7h11.19M285.9 474.7h0.01M214.9 480.1h0.01M220.8 480.1h0.01M227.8 480.1h8.011M243.4 480.1h0.01M257.8 480.1h0.01M210.3 485.5h3.602M247.5 485.5h5.908M265.4 485.5h0.01M273.4 485.5h0.01M203.7 491.0h0.01M209.2 491.0h0.01M217.8 491.0h0.01M227.8 491.0h1.426M251.1 491.0h2.377M285.9 491.0h0.01M207.5 496.4h0.6M214.9 496.4h0.01M224.7 496.4h1.301M246.9 496.4h0.01M273.8 496.4h3.305M290.3 496.4h0.01M201.1 501.8h0.01M206.4 501.8h0.01M212.0 501.8h0.01M218.8 501.8h7.259M233.3 501.8h0.01M257.8 501.8h0.01M277.5 501.8h0.01M209.2 507.3h0.01M215.9 507.3h0.9401M224.7 507.3h1.301M233.3 507.3h0.01M243.4 507.3h0.01M265.4 507.3h0.01M273.4 507.3h0.01M308.6 507.3h0.01"/>
<path fill="#0000ff" stroke="none" d="M292.50 75.4h9.27v4.84h-9.27z"/>
<path stroke="#002bff" d="M254.1 88.6h0.01M273.4 88.6h0.01M285.9 88.6h0.01M265.4 94.0h0.01M236.6 99.5h0.01M246.9 99.5h0.01M261.6 99.5h0.01M261.6 110.3h0.01M285.9 115.8h0.01M201.1 121.2h0.01M207.5 121.2h0.6M217.8 121.2h0.01M239.9 121.2h0.01M254.1 121.2h0.01M261.6 121.2h0.01M290.3 121.2h0.01M198.5 126.7h0.01M203.7 126.7h0.01M214.9 126.7h0.01M234.1 126.7h1.685M261.6 126.7h0.01M269.4 126.7h0.01M277.5 126.7h0.01M218.8 132.1h1.058M254.1 132.1h0.01M265.4 132.1h0.01M285.9 132.1h0.01M206.4 137.5h0.01M212.0 137.5h0.01M220.8 137.5h0.01M230.1 137.5h0.01M237.4 137.5h5.279M212.0 143.0h0.01M226.9 143.0h0.01M254.7 143.0h2.524M214.9 148.4h0.01M243.4 148.4h0.01M254.1 148.4h0.01M277.5 148.4h0.01M257.8 153.8h0.01M269.8 153.8h3.142M308.6 153.8h0.01M257.8 159.3h0.01M265.4 159.3h0.01M261.6 164.7h0.01M282.0 164.7h3.64M273.4 170.2h0.01M281.7 170.2h0.01M308.6 175.6h0.01M206.4 186.5h0.01M226.9 191.9h0.01M243.4 191.9h0.01M290.3 191.9h0.01M308.6 197.3h0.01M198.5 202.8h0.01M230.1 208.2h0.01M239.9 213.7h0.01M226.9 219.1h0.01M243.4 219.1h0.01M308.6 219.1h0.01M217.8 224.5h0.01M233.3 224.5h0.01M281.7 224.5h0.01M303.9 224.5h0.01M214.9 230.0h0.01M227.8 230.0h1.426M236.6 230.0h0.01M265.4 230.0h0.01M290.3 230.0h0.01M198.5 235.4h0.01M212.0 235.4h0.01M220.8 235.4h0.01M257.8 235.4h0.01M277.5 235.4h0.01M196.0 240.8h0.01M214.9 240.8h0.01M236.6 240.8h0.01M246.9 240.8h0.01M265.9 240.8h7.045M281.7 240.8h0.01M254.1 246.3h0.01M201.1 251.7h0.01M217.8 251.7h0.01M250.4 251.7h0.01M265.4 251.7h0.01M196.0 257.2h0.01M246.9 257.2h0.01M273.4 257.2h0.01M233.3 262.6h0.01M262.1 262.6h2.827M290.3 262.6h0.01M303.9 262.6h0.01M239.9 268.0h0.01M265.4 268.0h0.01M281.7 268.0h0.01M201.1 278.9h0.01M261.6 278.9h0.01M277.9 278.9h3.471M290.3 278.9h0.01M201.1 284.3h0.01M226.9 284.3h0.01M236.6 284.3h0.01M230.1 289.8h0.01M239.9 289.8h0.01M285.9 289.8h0.01M217.8 295.2h0.01M230.1 295.2h0.01M303.9 295.2h0.01M217.8 300.7h0.01M258.4 300.7h2.674M212.0 306.1h0.01M258.4 306.1h2.674M257.8 311.5h0.01M281.7 311.5h0.01M290.3 311.5h0.01M202.2 317.0h0.3844M261.6 322.4h0.01M273.4 322.4h0.01M202.2 327.8h0.3844M217.8 327.8h0.01M230.9 327.8h1.554M240.7 327.8h1.953M250.4 327.8h0.01M230.1 333.3h0.01M265.9 333.3h7.045M196.0 344.2h0.01M233.3 344.2h0.01M277.5 344.2h0.01M308.6 344.2h0.01M230.1 349.6h0.01M273.4 349.6h0.01M290.3 349.6h0.01M207.5 355.0h0.6M226.9 355.0h0.01M243.4 355.0h0.01M281.7 355.0h0.01M290.3 355.0h0.01M196.0 360.5h0.01M214.9 360.5h0.01M237.4 360.5h12.41M277.9 360.5h7.783M203.7 371.3h0.01M210.3 371.3h0.7111M217.8 371.3h0.01M277.5 371.3h0.01M230.9 376.8h1.554M203.7 382.2h0.01M212.0 382.2h0.01M217.8 382.2h0.01M239.9 382.2h0.01M257.8 382.2h0.01M220.8 387.7h0.01M236.6 387.7h0.01M230.9 393.1h1.554M250.4 393.1h0.01M290.3 393.1h0.01M254.1 398.5h0.01M290.3 398.5h0.01M196.0 404.0h0.01M236.6 404.0h0.01M273.4 404.0h0.01M214.9 409.4h0.01M243.4 409.4h0.01M277.5 409.4h0.01M210.3 414.8h0.7111M277.5 414.8h0.01M286.2 414.8h3.812M202.2 420.3h0.3844M246.9 420.3h0.01M254.1 420.3h0.01M204.9 425.7h0.4911M233.3 425.7h0.01M246.9 425.7h0.01M281.7 425.7h0.01M247.5 431.2h2.233M269.4 431.2h0.01M210.3 436.6h0.7111M246.9 436.6h0.01M261.6 436.6h0.01M269.4 436.6h0.01M290.3 436.6h0.01M199.7 442.0h0.2798M206.4 442.0h0.01M217.8 442.0h0.01M250.4 442.0h0.01M209.2 447.5h0.01M214.9 447.5h0.01M261.6 447.5h0.01M230.1 452.9h0.01M254.1 452.9h0.01M285.9 452.9h0.01M214.9 458.3h0.01M223.8 458.3h0.01M250.4 458.3h0.01M265.9 458.3h7.045M290.3 458.3h0.01M233.3 463.8h0.01M243.4 463.8h0.01M281.7 463.8h0.01M290.3 463.8h0.01M304.0 463.8h4.538M206.4 469.2h0.01M217.8 469.2h0.01M223.8 469.2h0.01M290.3 469.2h0.01M196.0 474.7h0.01M217.8 474.7h0.01M236.6 474.7h0.01M258.4 474.7h2.674M281.7 474.7h0.01M196.0 480.1h0.01M217.8 480.1h0.01M203.7 485.5h0.01M217.8 485.5h0.01M226.9 485.5h0.01M239.9 485.5h0.01M212.0 491.0h0.01M223.8 491.0h0.01M257.8 491.0h0.01M281.7 491.0h0.01M217.8 496.4h0.01M230.1 496.4h0.01M250.4 496.4h0.01M269.4 496.4h0.01M203.7 501.8h0.01M230.1 501.8h0.01M246.9 501.8h0.01M261.6 501.8h0.01M269.8 501.8h3.142M290.3 501.8h0.01M220.8 507.3h0.01M246.9 507.3h0.01M254.1 507.3h0.01M269.4 507.3h0.01"/>
<path stroke="#0055ff" d="M201.1 83.2h0.01M246.9 83.2h0.01M254.7 83.2h6.349M246.9 88.6h0.01M290.3 88.6h0.01M258.4 94.0h2.674M257.8 99.5h0.01M265.9 99.5h2.983M269.4 104.9h0.01M257.8 110.3h0.01M269.8 110.3h3.142M281.7 110.3h0.01M258.4 115.8h2.674M273.4 121.2h0.01M209.2 126.7h0.01M226.9 126.7h0.01M250.4 126.7h0.01M214.9 132.1h0.01M246.9 132.1h0.01M277.5 132.1h0.01M201.1 137.5h0.01M233.3 137.5h0.01M254.1 137.5h0.01M285.9 137.5h0.01M203.7 143.0h0.01M214.9 143.0h0.01M261.6 143.0h0.01M210.3 148.4h0.7111M233.3 148.4h0.01M285.9 148.4h0.01M250.4 153.8h0.01M261.6 153.8h0.01M277.5 153.8h0.01M273.8 159.3h3.305M285.9 175.6h0.01M277.5 181.0h0.01M212.0 186.5h0.01M254.1 197.3h0.01M250.4 202.8h0.01M257.8 202.8h0.01M290.3 202.8h0.01M209.2 208.2h0.01M193.5 213.7h0.01M201.1 219.1h0.01M220.8 219.1h0.01M227.8 224.5h1.426M223.8 230.0h0.01M261.6 230.0h0.01M273.4 230.0h0.01M203.7 235.4h0.01M223.8 235.4h0.01M236.6 235.4h0.01M254.1 235.4h0.01M201.1 240.8h0.01M223.8 240.8h0.01M243.4 240.8h0.01M201.1 246.3h0.01M220.8 246.3h0.01M244.1 246.3h2.092M273.4 246.3h0.01M281.7 246.3h0.01M206.4 251.7h0.01M230.1 251.7h0.01M277.9 251.7h3.471M214.9 257.2h0.01M220.8 257.2h0.01M257.8 257.2h0.01M236.6 262.6h0.01M203.7 268.0h0.01M254.1 268.0h0.01M261.6 268.0h0.01M209.2 273.5h0.01M247.5 273.5h2.233M265.9 273.5h2.983M285.9 273.5h0.01M212.0 278.9h0.01M217.8 278.9h0.01M269.4 284.3h0.01M285.9 284.3h0.01M226.9 289.8h0.01M209.2 295.2h0.01M233.3 295.2h0.01M239.9 295.2h0.01M261.6 295.2h0.01M246.9 300.7h0.01M265.4 300.7h0.01M201.1 306.1h0.01M220.8 306.1h0.01M243.4 306.1h0.01M285.9 306.1h0.01M201.1 311.5h0.01M239.9 311.5h0.01M269.4 311.5h0.01M237.4 317.0h1.818M220.8 322.4h0.01M246.9 322.4h0.01M257.8 322.4h0.01M209.2 327.8h0.01M236.6 327.8h0.01M254.1 327.8h0.01M223.8 333.3h0.01M240.7 333.3h1.953M261.6 333.3h0.01M281.7 333.3h0.01M223.8 338.7h0.01M230.1 338.7h0.01M244.1 338.7h2.092M265.4 338.7h0.01M204.9 344.2h0.4911M214.9 344.2h0.01M227.8 344.2h1.426M239.9 344.2h0.01M285.9 344.2h0.01M201.1 349.6h0.01M254.1 349.6h0.01M261.6 349.6h0.01M203.7 355.0h0.01M220.8 355.0h0.01M254.1 355.0h0.01M209.2 360.5h0.01M230.1 360.5h0.01M204.9 365.9h0.4911M214.9 365.9h0.01M226.9 365.9h0.01M201.1 371.3h0.01M226.9 371.3h0.01M246.9 371.3h0.01M215.9 376.8h0.9401M223.8 376.8h0.01M246.9 376.8h0.01M290.3 376.8h0.01M230.9 382.2h1.554M269.4 382.2h0.01M217.8 387.7h0.01M257.8 387.7h0.01M281.7 387.7h0.01M209.2 398.5h0.01M285.9 398.5h0.01M210.3 404.0h6.551M269.4 404.0h0.01M281.7 404.0h0.01M206.4 409.4h0.01M290.3 409.4h0.01M224.7 414.8h1.301M246.9 414.8h0.01M254.1 414.8h0.01M214.9 420.3h0.01M243.4 420.3h0.01M243.4 425.7h0.01M254.1 425.7h0.01M265.4 425.7h0.01M214.9 431.2h0.01M217.8 436.6h0.01M257.8 442.0h0.01M269.4 447.5h0.01M201.1 452.9h0.01M239.9 452.9h0.01M257.8 452.9h0.01M265.4 452.9h0.01M236.6 458.3h0.01M243.4 458.3h0.01M277.5 458.3h0.01M203.7 463.8h0.01M209.2 463.8h0.01M223.8 463.8h0.01M246.9 463.8h0.01M265.4 469.2h0.01M285.9 469.2h0.01M209.2 474.7h0.01M254.1 474.7h0.01M201.1 480.1h0.01M212.0 480.1h0.01M254.1 480.1h0.01M223.8 485.5h0.01M282.0 485.5h3.64M214.9 491.0h0.01M237.4 496.4h1.818M261.6 496.4h0.01M236.6 501.8h0.01M236.6 507.3h0.01M277.5 507.3h0.01"/>
<path stroke="#0080ff" d="M273.8 83.2h3.305M246.9 94.0h0.01M214.9 99.5h0.01M277.5 110.3h0.01M196.0 137.5h0.01M193.5 143.0h0.01M198.5 148.4h0.01M290.3 148.4h0.01M285.9 170.2h0.01M308.6 170.2h0.01M198.5 181.0h0.01M203.7 186.5h0.01M240.7 197.3h1.953M257.8 197.3h0.01M214.9 202.8h0.01M226.9 202.8h0.01M212.0 208.2h0.01M203.7 213.7h0.01M236.6 219.1h0.01M246.9 219.1h0.01M254.1 219.1h0.01M220.8 224.5h0.01M250.4 224.5h0.01M209.2 230.0h0.01M257.8 230.0h0.01M269.4 235.4h0.01M285.9 235.4h0.01M212.0 240.8h0.01M220.8 240.8h0.01M227.8 240.8h4.686M269.4 246.3h0.01M243.4 251.7h0.01M285.9 251.7h0.01M223.8 257.2h0.01M213.0 262.6h0.8245M246.9 262.6h0.01M254.1 262.6h0.01M207.5 268.0h3.434M223.8 268.0h0.01M233.3 268.0h0.01M201.1 273.5h0.01M243.4 273.5h0.01M203.7 278.9h0.01M243.4 278.9h0.01M257.8 278.9h0.01M269.4 278.9h0.01M239.9 284.3h0.01M250.4 284.3h0.01M277.5 284.3h0.01M204.9 289.8h0.4911M236.6 289.8h0.01M243.4 289.8h0.01M261.6 289.8h0.01M290.3 289.8h0.01M206.4 300.7h0.01M273.4 300.7h0.01M281.7 300.7h0.01M209.2 306.1h0.01M215.9 306.1h0.9401M254.1 306.1h0.01M212.0 311.5h0.01M217.8 317.0h0.01M224.7 317.0h1.301M269.4 317.0h0.01M226.9 322.4h0.01M240.7 322.4h1.953M265.4 322.4h0.01M221.7 327.8h4.31M217.8 333.3h0.01M246.9 333.3h0.01M285.9 333.3h0.01M254.1 338.7h0.01M201.1 344.2h0.01M217.8 344.2h0.01M246.9 344.2h0.01M209.2 349.6h0.01M239.9 349.6h0.01M250.4 349.6h0.01M277.5 349.6h0.01M237.4 355.0h1.818M206.4 360.5h0.01M223.8 360.5h0.01M265.4 360.5h0.01M290.3 360.5h0.01M217.8 365.9h0.01M206.4 376.8h0.01M212.0 376.8h0.01M258.4 376.8h2.674M273.4 376.8h0.01M209.2 382.2h0.01M223.8 382.2h0.01M243.4 382.2h0.01M203.7 387.7h0.01M277.5 387.7h0.01M217.8 393.1h0.01M261.6 393.1h0.01M206.4 398.5h0.01M230.1 398.5h0.01M265.4 398.5h0.01M220.8 404.0h0.01M212.0 409.4h0.01M257.8 409.4h0.01M285.9 409.4h0.01M203.7 414.8h0.01M214.9 414.8h0.01M250.4 420.3h0.01M262.1 420.3h2.827M281.7 420.3h0.01M226.9 425.7h0.01M230.1 431.2h0.01M221.7 436.6h1.178M236.6 436.6h0.01M243.4 436.6h0.01M254.1 436.6h0.01M203.7 442.0h0.01M220.8 442.0h0.01M254.1 442.0h0.01M273.4 442.0h0.01M233.3 447.5h0.01M257.8 447.5h0.01M265.4 447.5h0.01M281.7 447.5h0.01M212.0 452.9h0.01M207.5 458.3h0.6M239.9 458.3h0.01M257.8 458.3h0.01M220.8 463.8h0.01M254.1 463.8h0.01M201.1 469.2h0.01M209.2 469.2h0.01M236.6 469.2h0.01M261.6 469.2h0.01M269.4 469.2h0.01M246.9 474.7h0.01M203.7 480.1h0.01M209.2 480.1h0.01M250.4 480.1h0.01M273.4 480.1h0.01M281.7 480.1h0.01M290.3 480.1h0.01M220.8 491.0h0.01M243.4 501.8h0.01M285.9 501.8h0.01M203.7 507.3h0.01"/>
<path stroke="#00aaff" d="M198.5 137.5h0.01M209.2 186.5h0.01M221.7 186.5h1.178M250.4 197.3h0.01M220.8 202.8h0.01M220.8 208.2h0.01M286.2 208.2h3.812M210.3 213.7h0.7111M239.9 219.1h0.01M212.0 224.5h0.01M261.6 240.8h0.01M285.9 240.8h0.01M209.2 246.3h0.01M230.1 246.3h0.01M290.3 246.3h0.01M203.7 251.7h0.01M214.9 251.7h0.01M220.8 251.7h0.01M212.0 257.2h0.01M269.4 257.2h0.01M209.2 262.6h0.01M281.7 262.6h0.01M269.4 268.0h0.01M193.5 273.5h0.01M204.9 273.5h0.4911M223.8 273.5h0.01M254.1 273.5h0.01M273.4 273.5h0.01M233.3 278.9h0.01M220.8 284.3h0.01M257.8 289.8h0.01M214.9 295.2h0.01M203.7 300.7h0.01M239.9 300.7h0.01M236.6 306.1h0.01M220.8 311.5h0.01M226.9 311.5h0.01M265.4 311.5h0.01M285.9 311.5h0.01M261.6 317.0h0.01M273.8 317.0h3.305M209.2 322.4h0.01M277.5 327.8h0.01M201.1 333.3h0.01M206.4 333.3h0.01M214.9 333.3h0.01M220.8 333.3h0.01M233.3 333.3h0.01M277.5 333.3h0.01M214.9 338.7h0.01M236.6 338.7h0.01M281.7 338.7h0.01M209.2 344.2h0.01M220.8 344.2h0.01M223.8 349.6h0.01M243.4 349.6h0.01M277.5 355.0h0.01M203.7 360.5h0.01M233.3 365.9h0.01M261.6 365.9h0.01M285.9 365.9h0.01M236.6 371.3h0.01M243.4 371.3h0.01M239.9 376.8h0.01M285.9 376.8h0.01M265.4 382.2h0.01M201.1 387.7h0.01M206.4 387.7h0.01M212.0 387.7h0.01M201.1 398.5h0.01M203.7 409.4h0.01M243.4 414.8h0.01M269.4 414.8h0.01M220.8 420.3h0.01M220.8 425.7h0.01M206.4 431.2h0.01M220.8 431.2h0.01M254.1 431.2h0.01M290.3 431.2h0.01M246.9 442.0h0.01M285.9 442.0h0.01M273.4 447.5h0.01M246.9 452.9h0.01M269.8 452.9h3.142M246.9 458.3h0.01M217.8 463.8h0.01M206.4 485.5h0.01M220.8 485.5h0.01M233.3 485.5h0.01M233.3 491.0h0.01M243.4 491.0h0.01M265.9 491.0h2.983M203.7 496.4h0.01M212.0 496.4h0.01M243.4 496.4h0.01M257.8 496.4h0.01M265.4 496.4h0.01M239.9 507.3h0.01"/>
<path fill="#00aaff" stroke="none" d="M241.63 75.4h3.66v4.84h-3.66zM267.38 75.4h4.18v4.84h-4.18zM279.57 75.4h4.43v4.84h-4.43zM301.57 75.4h4.87v4.84h-4.87z"/>
<path stroke="#00d4ff" d="M214.9 88.6h0.01M223.8 88.6h0.01M233.3 88.6h0.01M230.1 94.0h0.01M196.0 126.7h0.01M193.5 333.3h0.01"/>
<path fill="#00d4ff" stroke="none" d="M248.63 75.4h3.80v4.84h-3.80zM263.48 75.4h4.10v4.84h-4.10zM306.24 75.4h4.97v4.84h-4.97z"/>
<path stroke="#00ffff" d="M193.5 94.0h0.01M217.8 99.5h0.01M196.0 121.2h0.01M197.2 186.5h0.1772M198.5 240.8h0.01M196.0 262.6h0.01M198.5 278.9h0.01M198.5 289.8h0.01M197.2 306.1h0.1772M198.5 349.6h0.01M196.0 355.0h0.01M198.5 398.5h0.01M198.5 404.0h0.01M196.0 409.4h0.01M196.0 425.7h0.01M196.0 458.3h0.01M196.0 485.5h0.01M198.5 491.0h0.01"/>
<path fill="#00ffff" stroke="none" d="M245.10 75.4h3.73v4.84h-3.73zM252.23 75.4h11.45v4.84h-11.45z"/>
<path stroke="#00ffea" d="M214.9 83.2h0.01M194.7 88.6h0.07667M193.5 132.1h0.01M198.5 208.2h0.01M196.0 219.1h0.01M197.2 224.5h0.1772M197.2 230.0h0.1772M196.0 235.4h0.01M197.2 246.3h0.1772M197.2 251.7h0.1772M198.5 257.2h0.01M198.5 262.6h0.01M196.0 268.0h0.01M196.0 273.5h0.01M196.0 284.3h0.01M196.0 289.8h0.01M196.0 295.2h0.01M197.2 311.5h0.1772M196.0 322.4h0.01M198.5 333.3h0.01M198.5 344.2h0.01M196.0 349.6h0.01M198.5 365.9h0.01M196.0 371.3h0.01M197.2 382.2h0.1772M198.5 387.7h0.01M196.0 393.1h0.01M198.5 409.4h0.01M198.5 414.8h0.01M198.5 420.3h0.01M198.5 425.7h0.01M198.5 431.2h0.01M197.2 436.6h0.1772M197.2 447.5h0.1772M196.0 452.9h0.01M198.5 463.8h0.01M198.5 469.2h0.01M198.5 474.7h0.01M197.2 496.4h0.1772"/>
<path fill="#00ffea" stroke="none" d="M271.36 75.4h8.40v4.84h-8.40z"/>
<path stroke="#00ffd4" d="M206.4 83.2h0.01M220.8 83.2h0.01M214.9 94.0h0.01M193.5 99.5h0.01M196.0 202.8h0.01M196.0 208.2h0.01M197.2 213.7h0.1772M198.5 219.1h0.01M198.5 268.0h0.01M198.5 273.5h0.01M196.0 278.9h0.01M198.5 284.3h0.01M198.5 295.2h0.01M197.2 300.7h0.1772M197.2 317.0h0.1772M198.5 322.4h0.01M197.2 327.8h0.1772M196.0 333.3h0.01M197.2 338.7h0.1772M198.5 355.0h0.01M198.5 360.5h0.01M196.0 365.9h0.01M198.5 371.3h0.01M197.2 376.8h0.1772M196.0 387.7h0.01M198.5 393.1h0.01M196.0 398.5h0.01M196.0 414.8h0.01M196.0 420.3h0.01M196.0 431.2h0.01M196.0 442.0h0.01M198.5 452.9h0.01M198.5 458.3h0.01M196.0 463.8h0.01M196.0 469.2h0.01M198.5 480.1h0.01M198.5 485.5h0.01M196.0 491.0h0.01M197.2 501.8h0.1772M197.2 507.3h0.1772"/>
<path fill="#00ffd4" stroke="none" d="M207.80 75.4h8.70v4.84h-8.70zM228.46 85.9h3.39v5.74h-3.39zM234.92 102.2h3.53v5.74h-3.53zM234.92 107.6h3.53v5.74h-3.53zM234.92 113.1h3.53v5.74h-3.53z"/>
<path fill="#00ffbf" stroke="none" d="M197.23 75.4h2.76v4.84h-2.76zM219.25 75.4h3.21v4.84h-3.21z"/>
<path fill="#00ffaa" stroke="none" d="M225.33 80.4h3.33v5.74h-3.33zM219.25 85.9h3.21v5.74h-3.21zM225.33 85.9h3.33v5.74h-3.33zM202.41 96.8h2.87v5.74h-2.87zM205.08 189.2h5.70v5.74h-5.70zM222.26 189.2h3.27v5.74h-3.27zM194.72 194.6h2.71v5.74h-2.71zM199.79 194.6h2.82v5.74h-2.82zM222.26 194.6h3.27v5.74h-3.27zM231.66 200.1h10.18v5.74h-10.18zM245.10 200.1h3.73v5.74h-3.73zM241.63 205.5h3.66v5.74h-3.66zM248.63 205.5h3.80v5.74h-3.80zM263.48 210.9h4.10v5.74h-4.10zM255.90 216.4h3.95v5.74h-3.95zM279.57 216.4h4.43v5.74h-4.43z"/>
<path fill="#00ff95" stroke="none" d="M199.79 75.4h2.82v4.84h-2.82zM205.08 75.4h2.92v4.84h-2.92zM197.23 80.4h2.76v5.74h-2.76zM202.41 80.4h2.87v5.74h-2.87zM197.23 102.2h2.76v5.74h-2.76zM207.80 102.2h2.98v5.74h-2.98zM210.58 107.6h3.03v5.74h-3.03zM219.25 107.6h3.21v5.74h-3.21zM205.08 113.1h2.92v5.74h-2.92zM231.66 113.1h3.46v5.74h-3.46zM267.38 172.9h4.18v5.74h-4.18zM271.36 178.3h4.26v5.74h-4.26zM199.79 189.2h2.82v5.74h-2.82zM279.57 189.2h4.43v5.74h-4.43zM202.41 194.6h2.87v5.74h-2.87zM207.80 194.6h5.81v5.74h-5.81zM216.30 194.6h3.15v5.74h-3.15zM228.46 194.6h6.65v5.74h-6.65zM228.46 200.1h3.39v5.74h-3.39zM238.24 205.5h3.59v5.74h-3.59zM248.63 210.9h3.80v5.74h-3.80zM255.90 210.9h3.95v5.74h-3.95zM271.36 210.9h4.26v5.74h-4.26zM263.48 216.4h4.10v5.74h-4.10zM275.42 216.4h4.34v5.74h-4.34zM267.38 221.8h8.24v5.74h-8.24z"/>
<path fill="#00ff80" stroke="none" d="M197.23 91.3h2.76v5.74h-2.76zM197.23 96.8h2.76v5.74h-2.76zM225.33 96.8h3.33v5.74h-3.33zM194.72 102.2h2.71v5.74h-2.71zM202.41 102.2h2.87v5.74h-2.87zM213.41 107.6h3.09v5.74h-3.09zM202.41 113.1h2.87v5.74h-2.87zM207.80 113.1h2.98v5.74h-2.98zM216.30 113.1h6.16v5.74h-6.16zM275.42 183.8h4.34v5.74h-4.34zM194.72 189.2h2.71v5.74h-2.71zM202.41 189.2h2.87v5.74h-2.87zM210.58 189.2h3.03v5.74h-3.03zM216.30 189.2h3.15v5.74h-3.15zM205.08 194.6h2.92v5.74h-2.92zM213.41 194.6h3.09v5.74h-3.09zM219.25 194.6h3.21v5.74h-3.21zM225.33 194.6h3.33v5.74h-3.33zM241.63 200.1h3.66v5.74h-3.66zM231.66 205.5h6.78v5.74h-6.78zM252.23 205.5h7.62v5.74h-7.62zM267.38 205.5h4.18v5.74h-4.18zM259.65 210.9h4.02v5.74h-4.02zM267.38 210.9h4.18v5.74h-4.18zM259.65 216.4h4.02v5.74h-4.02zM267.38 216.4h8.24v5.74h-8.24z"/>
<path fill="#00ff6a" stroke="none" d="M192.25 75.4h5.18v4.84h-5.18zM202.41 75.4h2.87v4.84h-2.87zM216.30 75.4h3.15v4.84h-3.15zM222.26 75.4h6.40v4.84h-6.40zM197.23 85.9h2.76v5.74h-2.76zM219.25 91.3h3.21v5.74h-3.21zM225.33 91.3h3.33v5.74h-3.33zM231.66 91.3h3.46v5.74h-3.46zM210.58 102.2h3.03v5.74h-3.03zM231.66 102.2h3.46v5.74h-3.46zM192.25 107.6h2.66v5.74h-2.66zM228.46 107.6h3.39v5.74h-3.39zM192.25 113.1h2.66v5.74h-2.66zM197.23 113.1h5.38v5.74h-5.38zM210.58 113.1h5.92v5.74h-5.92zM225.33 151.1h9.79v5.74h-9.79zM248.63 156.6h3.80v5.74h-3.80zM255.90 162.0h3.95v5.74h-3.95zM219.25 178.3h3.21v5.74h-3.21zM231.66 183.8h3.46v5.74h-3.46zM197.23 189.2h2.76v5.74h-2.76zM213.41 189.2h3.09v5.74h-3.09zM219.25 189.2h3.21v5.74h-3.21zM245.10 189.2h3.73v5.74h-3.73zM197.23 194.6h2.76v5.74h-2.76zM245.10 205.5h3.73v5.74h-3.73zM245.10 210.9h3.73v5.74h-3.73zM252.23 210.9h3.87v5.74h-3.87z"/>
<path fill="#00ff55" stroke="none" d="M216.30 102.2h6.16v5.74h-6.16zM225.33 102.2h6.53v5.74h-6.53zM194.72 107.6h10.56v5.74h-10.56zM222.26 107.6h6.40v5.74h-6.40zM231.66 107.6h3.46v5.74h-3.46zM222.26 113.1h9.60v5.74h-9.60zM259.65 167.4h4.02v5.74h-4.02zM222.26 178.3h3.27v5.74h-3.27zM267.38 178.3h4.18v5.74h-4.18zM234.92 183.8h3.53v5.74h-3.53zM248.63 189.2h3.80v5.74h-3.80zM275.42 189.2h4.34v5.74h-4.34zM259.65 194.6h4.02v5.74h-4.02zM263.48 200.1h4.10v5.74h-4.10z"/>
<path fill="#00ff40" stroke="none" d="M222.26 80.4h3.27v5.74h-3.27zM228.46 80.4h13.37v5.74h-13.37zM283.79 80.4h8.91v5.74h-8.91zM202.41 85.9h2.87v5.74h-2.87zM219.25 96.8h3.21v5.74h-3.21zM192.25 102.2h2.66v5.74h-2.66zM199.79 102.2h2.82v5.74h-2.82zM205.08 102.2h2.92v5.74h-2.92zM213.41 102.2h3.09v5.74h-3.09zM222.26 102.2h3.27v5.74h-3.27zM205.08 107.6h5.70v5.74h-5.70zM216.30 107.6h3.15v5.74h-3.15zM194.72 113.1h2.71v5.74h-2.71zM219.25 151.1h6.28v5.74h-6.28zM238.24 156.6h10.58v5.74h-10.58zM252.23 162.0h3.87v5.74h-3.87zM197.23 172.9h2.76v5.74h-2.76zM205.08 172.9h2.92v5.74h-2.92zM210.58 172.9h3.03v5.74h-3.03zM263.48 172.9h4.10v5.74h-4.10zM238.24 183.8h3.59v5.74h-3.59zM271.36 183.8h4.26v5.74h-4.26zM252.23 189.2h3.87v5.74h-3.87zM279.57 194.6h4.43v5.74h-4.43zM267.38 200.1h4.18v5.74h-4.18zM271.36 205.5h4.26v5.74h-4.26zM275.42 210.9h8.57v5.74h-8.57z"/>
<path fill="#00ff2b" stroke="none" d="M228.46 75.4h13.37v4.84h-13.37zM283.79 75.4h8.91v4.84h-8.91zM194.72 151.1h5.28v5.74h-5.28zM205.08 151.1h14.37v5.74h-14.37zM231.66 156.6h6.78v5.74h-6.78zM248.63 162.0h3.80v5.74h-3.80zM192.25 172.9h5.18v5.74h-5.18zM199.79 172.9h5.48v5.74h-5.48zM207.80 172.9h2.98v5.74h-2.98zM213.41 172.9h6.04v5.74h-6.04zM225.33 178.3h6.53v5.74h-6.53zM241.63 183.8h7.19v5.74h-7.19zM255.90 189.2h3.95v5.74h-3.95zM271.36 189.2h4.26v5.74h-4.26zM263.48 194.6h4.10v5.74h-4.10zM275.42 194.6h4.34v5.74h-4.34zM275.42 205.5h8.57v5.74h-8.57z"/>
<path fill="#00ff15" stroke="none" d="M192.25 151.1h2.66v5.74h-2.66zM199.79 151.1h5.48v5.74h-5.48zM225.33 156.6h6.53v5.74h-6.53zM255.90 167.4h3.95v5.74h-3.95zM219.25 172.9h3.21v5.74h-3.21zM259.65 172.9h4.02v5.74h-4.02zM231.66 178.3h6.78v5.74h-6.78zM263.48 178.3h4.10v5.74h-4.10zM267.38 183.8h4.18v5.74h-4.18zM259.65 189.2h4.02v5.74h-4.02zM267.38 194.6h4.18v5.74h-4.18zM271.36 200.1h4.26v5.74h-4.26zM279.57 200.1h4.43v5.74h-4.43z"/>
<path fill="#00ff00" stroke="none" d="M207.80 80.4h5.81v5.74h-5.81zM207.80 91.3h2.98v5.74h-2.98zM210.58 96.8h3.03v5.74h-3.03zM216.30 156.6h6.16v5.74h-6.16zM238.24 162.0h10.58v5.74h-10.58zM197.23 167.4h2.76v5.74h-2.76zM252.23 167.4h3.87v5.74h-3.87zM248.63 183.8h7.48v5.74h-7.48zM263.48 189.2h8.08v5.74h-8.08zM271.36 194.6h4.26v5.74h-4.26zM275.42 200.1h4.34v5.74h-4.34z"/>
<path fill="#2bff00" stroke="none" d="M207.80 85.9h2.98v5.74h-2.98zM194.72 156.6h2.71v5.74h-2.71zM199.79 156.6h16.71v5.74h-16.71zM222.26 156.6h3.27v5.74h-3.27zM192.25 167.4h5.18v5.74h-5.18zM199.79 167.4h2.82v5.74h-2.82zM213.41 167.4h9.05v5.74h-9.05zM248.63 167.4h3.80v5.74h-3.80zM222.26 172.9h9.60v5.74h-9.60zM238.24 178.3h10.58v5.74h-10.58zM263.48 183.8h4.10v5.74h-4.10z"/>
<path fill="#55ff00" stroke="none" d="M210.58 85.9h3.03v5.74h-3.03zM210.58 91.3h3.03v5.74h-3.03zM207.80 96.8h2.98v5.74h-2.98zM192.25 156.6h2.66v5.74h-2.66zM197.23 156.6h2.76v5.74h-2.76zM192.25 162.0h5.18v5.74h-5.18zM199.79 162.0h2.82v5.74h-2.82zM222.26 162.0h16.18v5.74h-16.18zM222.26 167.4h3.27v5.74h-3.27zM228.46 167.4h3.39v5.74h-3.39zM245.10 167.4h3.73v5.74h-3.73zM231.66 172.9h10.18v5.74h-10.18zM245.10 172.9h3.73v5.74h-3.73zM255.90 172.9h3.95v5.74h-3.95zM259.65 178.3h4.02v5.74h-4.02zM255.90 183.8h7.77v5.74h-7.77z"/>
<path fill="#80ff00" stroke="none" d="M197.23 162.0h2.76v5.74h-2.76zM213.41 162.0h9.05v5.74h-9.05zM225.33 167.4h3.33v5.74h-3.33zM231.66 167.4h13.64v5.74h-13.64zM241.63 172.9h3.66v5.74h-3.66zM248.63 172.9h3.80v5.74h-3.80z"/>
<path fill="#d4ff00" stroke="none" d="M202.41 162.0h11.20v5.74h-11.20zM202.41 167.4h2.87v5.74h-2.87zM210.58 167.4h3.03v5.74h-3.03zM252.23 172.9h3.87v5.74h-3.87z"/>
<path fill="#ffff00" stroke="none" d="M205.08 167.4h5.70v5.74h-5.70zM248.63 178.3h11.23v5.74h-11.23z"/>
</g></g></g>
<g clip-path="url(#pa)"><g filter="url(#fa)">
<rect x="70" y="50" width="540" height="470" fill="#000"/>
<g fill="none" stroke-width="3.3" stroke-linecap="round"><path stroke="#000080" d="M158.0 87.1v2.94M163.4 92.6v2.94M165.3 98.0v2.94"/>
<path fill="#000080" stroke="none" d="M85.50 85.9h1.30v5.74h-1.30zM91.00 91.3h1.30v5.74h-1.30zM104.20 118.5h1.30v5.74h-1.30zM99.80 129.4h1.30v5.74h-1.30zM84.40 140.2h1.30v5.74h-1.30zM110.80 140.2h1.30v5.74h-1.30zM104.20 172.9h1.30v5.74h-1.30zM117.40 172.9h1.30v5.74h-1.30zM89.90 183.8h1.30v5.74h-1.30zM117.40 205.5h1.30v5.74h-1.30zM92.10 216.4h1.30v5.74h-1.30zM100.90 232.7h1.30v5.74h-1.30zM102.00 249.0h1.30v5.74h-1.30zM99.80 254.4h1.30v5.74h-1.30zM107.50 254.4h1.30v5.74h-1.30zM126.21 259.9h1.33v5.74h-1.33zM114.10 265.3h1.30v5.74h-1.30zM85.50 276.2h1.30v5.74h-1.30zM120.70 319.7h1.30v5.74h-1.30zM118.50 336.0h1.30v5.74h-1.30zM104.20 346.9h1.30v5.74h-1.30zM110.80 384.9h1.30v5.74h-1.30zM113.00 395.8h1.30v5.74h-1.30zM105.30 412.1h1.30v5.74h-1.30zM110.80 412.1h1.30v5.74h-1.30z"/>
<path stroke="#000095" d="M191.0 87.1v2.94M175.3 92.6v2.94M186.3 92.6v2.94"/>
<path fill="#000095" stroke="none" d="M102.00 80.4h1.30v5.74h-1.30zM114.10 80.4h1.30v5.74h-1.30zM118.50 85.9h1.30v5.74h-1.30zM116.30 91.3h1.30v5.74h-1.30zM83.30 96.8h1.30v5.74h-1.30zM85.50 118.5h1.30v5.74h-1.30zM110.80 118.5h1.30v5.74h-1.30zM118.50 118.5h1.30v5.74h-1.30zM80.00 123.9h1.30v5.74h-1.30zM108.60 129.4h1.30v5.74h-1.30zM94.30 134.8h1.30v5.74h-1.30zM82.20 140.2h1.30v5.74h-1.30zM113.00 140.2h1.30v5.74h-1.30zM114.10 162.0h1.30v5.74h-1.30zM117.40 162.0h1.30v5.74h-1.30zM85.50 172.9h1.30v5.74h-1.30zM102.00 172.9h1.30v5.74h-1.30zM105.30 172.9h1.30v5.74h-1.30zM80.00 178.3h1.30v5.74h-1.30zM125.10 178.3h1.31v5.74h-1.31zM125.10 183.8h1.31v5.74h-1.31zM114.10 205.5h1.30v5.74h-1.30zM96.50 210.9h1.30v5.74h-1.30zM118.50 210.9h2.40v5.74h-2.40zM92.10 221.8h1.30v5.74h-1.30zM113.00 221.8h1.30v5.74h-1.30zM121.80 227.2h1.30v5.74h-1.30zM99.80 232.7h1.30v5.74h-1.30zM102.00 232.7h1.30v5.74h-1.30zM91.00 249.0h1.30v5.74h-1.30zM111.90 249.0h2.40v5.74h-2.40zM120.70 249.0h1.30v5.74h-1.30zM103.10 254.4h1.30v5.74h-1.30zM113.00 259.9h1.30v5.74h-1.30zM124.00 259.9h1.30v5.74h-1.30zM86.60 265.3h1.30v5.74h-1.30zM104.20 265.3h1.30v5.74h-1.30zM122.90 265.3h1.30v5.74h-1.30zM86.60 270.8h1.30v5.74h-1.30zM88.80 276.2h1.30v5.74h-1.30zM114.10 276.2h1.30v5.74h-1.30zM125.10 276.2h1.31v5.74h-1.31zM89.90 292.5h1.30v5.74h-1.30zM105.30 297.9h1.30v5.74h-1.30zM109.70 303.4h1.30v5.74h-1.30zM100.90 314.2h1.30v5.74h-1.30zM104.20 314.2h1.30v5.74h-1.30zM104.20 336.0h1.30v5.74h-1.30zM115.20 346.9h1.30v5.74h-1.30zM121.80 346.9h1.30v5.74h-1.30zM111.90 352.3h1.30v5.74h-1.30zM108.60 379.5h1.30v5.74h-1.30zM120.70 379.5h1.30v5.74h-1.30zM118.50 384.9h1.30v5.74h-1.30zM108.60 390.4h1.30v5.74h-1.30zM109.70 395.8h2.40v5.74h-2.40zM119.60 395.8h1.30v5.74h-1.30zM113.00 401.2h1.30v5.74h-1.30zM121.80 401.2h1.30v5.74h-1.30zM111.90 406.7h1.30v5.74h-1.30zM108.60 412.1h1.30v5.74h-1.30zM105.30 417.6h1.30v5.74h-1.30zM122.90 423.0h1.30v5.74h-1.30zM100.90 428.4h1.30v5.74h-1.30zM108.60 428.4h1.30v5.74h-1.30zM111.90 428.4h1.30v5.74h-1.30zM119.60 433.9h1.30v5.74h-1.30zM117.40 439.3h1.30v5.74h-1.30zM109.70 455.6h1.30v5.74h-1.30zM105.30 466.5h1.30v5.74h-1.30zM117.40 466.5h1.30v5.74h-1.30zM99.80 482.8h1.30v5.74h-1.30zM102.00 504.6h1.30v5.74h-1.30z"/>
<path stroke="#0000aa" d="M146.5 81.7v2.94M146.5 87.1v2.94M177.4 87.1v2.94M186.3 98.0v2.94M206.4 98.0v2.94"/>
<path fill="#0000aa" stroke="none" d="M110.80 80.4h1.30v5.74h-1.30zM119.60 80.4h1.30v5.74h-1.30zM113.00 85.9h1.30v5.74h-1.30zM122.90 91.3h1.30v5.74h-1.30zM80.00 96.8h1.30v5.74h-1.30zM110.80 96.8h1.30v5.74h-1.30zM114.10 96.8h1.30v5.74h-1.30zM80.00 118.5h1.30v5.74h-1.30zM83.30 118.5h1.30v5.74h-1.30zM108.60 118.5h1.30v5.74h-1.30zM100.90 123.9h1.30v5.74h-1.30zM103.10 129.4h1.30v5.74h-1.30zM114.10 129.4h2.40v5.74h-2.40zM87.70 134.8h1.30v5.74h-1.30zM93.20 134.8h1.30v5.74h-1.30zM102.00 162.0h1.30v5.74h-1.30zM108.60 162.0h1.30v5.74h-1.30zM99.80 167.4h1.30v5.74h-1.30zM86.60 172.9h1.30v5.74h-1.30zM126.21 172.9h1.33v5.74h-1.33zM86.60 178.3h1.30v5.74h-1.30zM100.90 178.3h1.30v5.74h-1.30zM109.70 178.3h1.30v5.74h-1.30zM117.40 178.3h1.30v5.74h-1.30zM86.60 205.5h1.30v5.74h-1.30zM111.90 205.5h1.30v5.74h-1.30zM124.00 205.5h1.30v5.74h-1.30zM100.90 210.9h1.30v5.74h-1.30zM107.50 210.9h1.30v5.74h-1.30zM88.80 216.4h1.30v5.74h-1.30zM118.50 216.4h2.40v5.74h-2.40zM121.80 221.8h1.30v5.74h-1.30zM88.80 227.2h1.30v5.74h-1.30zM99.80 227.2h1.30v5.74h-1.30zM104.20 227.2h1.30v5.74h-1.30zM94.30 232.7h1.30v5.74h-1.30zM126.21 232.7h1.33v5.74h-1.33zM108.60 249.0h1.30v5.74h-1.30zM104.20 254.4h1.30v5.74h-1.30zM85.50 259.9h1.30v5.74h-1.30zM120.70 259.9h1.30v5.74h-1.30zM94.30 265.3h1.30v5.74h-1.30zM110.80 270.8h1.30v5.74h-1.30zM86.60 276.2h1.30v5.74h-1.30zM120.70 276.2h1.30v5.74h-1.30zM85.50 292.5h1.30v5.74h-1.30zM113.00 292.5h1.30v5.74h-1.30zM99.80 303.4h1.30v5.74h-1.30zM104.20 303.4h1.30v5.74h-1.30zM110.80 303.4h1.30v5.74h-1.30zM125.10 314.2h1.31v5.74h-1.31zM104.20 319.7h1.30v5.74h-1.30zM119.60 319.7h1.30v5.74h-1.30zM106.40 341.4h1.30v5.74h-1.30zM117.40 357.8h1.30v5.74h-1.30zM122.90 357.8h1.30v5.74h-1.30zM102.00 363.2h1.30v5.74h-1.30zM100.90 384.9h1.30v5.74h-1.30zM108.60 384.9h1.30v5.74h-1.30zM110.80 390.4h1.30v5.74h-1.30zM102.00 395.8h1.30v5.74h-1.30zM115.20 401.2h1.30v5.74h-1.30zM119.60 401.2h1.30v5.74h-1.30zM119.60 406.7h1.30v5.74h-1.30zM125.10 406.7h1.31v5.74h-1.31zM125.10 412.1h1.31v5.74h-1.31zM111.90 423.0h1.30v5.74h-1.30zM104.20 428.4h1.30v5.74h-1.30zM118.50 444.8h1.30v5.74h-1.30zM111.90 455.6h1.30v5.74h-1.30zM103.10 466.5h1.30v5.74h-1.30zM106.40 466.5h1.30v5.74h-1.30zM108.60 466.5h1.30v5.74h-1.30zM110.80 466.5h1.30v5.74h-1.30zM116.30 466.5h1.30v5.74h-1.30zM106.40 471.9h1.30v5.74h-1.30zM115.20 482.8h1.30v5.74h-1.30z"/>
<path stroke="#0000c0" d="M191.0 92.6v2.94M201.1 92.6v2.94M149.6 98.0v2.94M161.6 98.0v2.94M158.0 125.2v2.94M191.0 125.2v2.94M135.3 130.6v2.94M191.0 130.6v2.94M156.2 141.5v2.94"/>
<path fill="#0000c0" stroke="none" d="M80.00 80.4h1.30v5.74h-1.30zM106.40 80.4h1.30v5.74h-1.30zM116.30 80.4h1.30v5.74h-1.30zM86.60 85.9h1.30v5.74h-1.30zM93.20 85.9h1.30v5.74h-1.30zM81.10 91.3h1.30v5.74h-1.30zM96.50 91.3h1.30v5.74h-1.30zM106.40 91.3h1.30v5.74h-1.30zM124.00 91.3h1.30v5.74h-1.30zM89.90 96.8h1.30v5.74h-1.30zM113.00 96.8h1.30v5.74h-1.30zM116.30 96.8h1.30v5.74h-1.30zM82.20 118.5h1.30v5.74h-1.30zM86.60 118.5h1.30v5.74h-1.30zM102.00 118.5h1.30v5.74h-1.30zM116.30 118.5h1.30v5.74h-1.30zM103.10 123.9h1.30v5.74h-1.30zM118.50 123.9h1.30v5.74h-1.30zM121.80 123.9h1.30v5.74h-1.30zM122.90 129.4h1.30v5.74h-1.30zM100.90 134.8h1.30v5.74h-1.30zM85.50 140.2h1.30v5.74h-1.30zM115.20 140.2h1.30v5.74h-1.30zM107.50 162.0h1.30v5.74h-1.30zM120.70 162.0h1.30v5.74h-1.30zM126.21 162.0h1.33v5.74h-1.33zM86.60 167.4h1.30v5.74h-1.30zM100.90 167.4h1.30v5.74h-1.30zM103.10 167.4h1.30v5.74h-1.30zM107.50 167.4h1.30v5.74h-1.30zM113.00 167.4h1.30v5.74h-1.30zM107.50 172.9h1.30v5.74h-1.30zM81.10 178.3h1.30v5.74h-1.30zM95.40 178.3h1.30v5.74h-1.30zM115.20 178.3h1.30v5.74h-1.30zM88.80 183.8h1.30v5.74h-1.30zM91.00 183.8h1.30v5.74h-1.30zM95.40 183.8h1.30v5.74h-1.30zM111.90 183.8h1.30v5.74h-1.30zM114.10 183.8h1.30v5.74h-1.30zM116.30 183.8h2.40v5.74h-2.40zM85.50 210.9h1.30v5.74h-1.30zM111.90 210.9h1.30v5.74h-1.30zM124.00 210.9h1.30v5.74h-1.30zM125.10 216.4h1.31v5.74h-1.31zM106.40 221.8h1.30v5.74h-1.30zM91.00 227.2h1.30v5.74h-1.30zM108.60 227.2h1.30v5.74h-1.30zM118.50 227.2h1.30v5.74h-1.30zM125.10 227.2h1.31v5.74h-1.31zM84.40 232.7h1.30v5.74h-1.30zM111.90 232.7h1.30v5.74h-1.30zM119.60 232.7h1.30v5.74h-1.30zM124.00 232.7h1.30v5.74h-1.30zM119.60 265.3h1.30v5.74h-1.30zM85.50 270.8h1.30v5.74h-1.30zM105.30 270.8h1.30v5.74h-1.30zM120.70 270.8h1.30v5.74h-1.30zM92.10 276.2h1.30v5.74h-1.30zM100.90 276.2h1.30v5.74h-1.30zM116.30 303.4h1.30v5.74h-1.30zM109.70 314.2h1.30v5.74h-1.30zM125.10 319.7h1.31v5.74h-1.31zM106.40 336.0h1.30v5.74h-1.30zM109.70 336.0h1.30v5.74h-1.30zM113.00 336.0h1.30v5.74h-1.30zM117.40 336.0h1.30v5.74h-1.30zM100.90 341.4h1.30v5.74h-1.30zM106.40 346.9h1.30v5.74h-1.30zM118.50 346.9h1.30v5.74h-1.30zM103.10 352.3h1.30v5.74h-1.30zM110.80 363.2h1.30v5.74h-1.30zM106.40 379.5h1.30v5.74h-1.30zM119.60 379.5h1.30v5.74h-1.30zM104.20 390.4h1.30v5.74h-1.30zM124.00 390.4h1.30v5.74h-1.30zM91.00 395.8h1.30v5.74h-1.30zM108.60 395.8h1.30v5.74h-1.30zM91.00 401.2h1.30v5.74h-1.30zM102.00 401.2h1.30v5.74h-1.30zM114.10 406.7h1.30v5.74h-1.30zM119.60 412.1h1.30v5.74h-1.30zM114.10 417.6h1.30v5.74h-1.30zM103.10 423.0h1.30v5.74h-1.30zM107.50 433.9h1.30v5.74h-1.30zM115.20 433.9h1.30v5.74h-1.30zM120.70 433.9h1.30v5.74h-1.30zM121.80 439.3h1.30v5.74h-1.30zM99.80 444.8h1.30v5.74h-1.30zM108.60 444.8h1.30v5.74h-1.30zM104.20 450.2h1.30v5.74h-1.30zM118.50 450.2h1.30v5.74h-1.30zM120.70 450.2h1.30v5.74h-1.30zM104.20 455.6h1.30v5.74h-1.30zM107.50 455.6h1.30v5.74h-1.30zM114.10 455.6h1.30v5.74h-1.30zM122.90 455.6h1.30v5.74h-1.30zM114.10 461.1h1.30v5.74h-1.30zM118.50 461.1h1.30v5.74h-1.30zM104.20 477.4h1.30v5.74h-1.30zM121.80 477.4h1.30v5.74h-1.30zM94.30 482.8h1.30v5.74h-1.30zM104.20 482.8h1.30v5.74h-1.30zM122.90 482.8h1.30v5.74h-1.30zM91.00 488.2h1.30v5.74h-1.30zM94.30 488.2h1.30v5.74h-1.30zM102.00 488.2h1.30v5.74h-1.30zM107.50 488.2h1.30v5.74h-1.30zM115.20 488.2h1.30v5.74h-1.30zM118.50 493.7h1.30v5.74h-1.30zM104.20 499.1h1.30v5.74h-1.30zM104.20 504.6h1.30v5.74h-1.30zM113.00 504.6h1.30v5.74h-1.30z"/>
<path stroke="#0000d5" d="M163.4 81.7v2.94M143.5 92.6v2.94M149.6 92.6v2.94M131.5 119.8v2.94M169.2 119.8v2.94M175.3 119.8v2.94M181.8 119.8v2.94M145.0 125.2v2.94M132.7 130.6v2.94M198.5 130.6v2.94M173.2 136.1v2.94M132.7 141.5v2.94M142.1 141.5v2.94M152.9 141.5v2.94M161.6 141.5v2.94M175.3 141.5v2.94M177.4 141.5v2.94"/>
<path fill="#0000d5" stroke="none" d="M92.10 80.4h1.30v5.74h-1.30zM113.00 80.4h1.30v5.74h-1.30zM124.00 80.4h1.30v5.74h-1.30zM89.90 85.9h1.30v5.74h-1.30zM104.20 85.9h1.30v5.74h-1.30zM94.30 91.3h1.30v5.74h-1.30zM113.00 91.3h1.30v5.74h-1.30zM102.00 96.8h1.30v5.74h-1.30zM122.90 96.8h1.30v5.74h-1.30zM93.20 118.5h1.30v5.74h-1.30zM103.10 118.5h1.30v5.74h-1.30zM111.90 118.5h1.30v5.74h-1.30zM93.20 123.9h1.30v5.74h-1.30zM102.00 129.4h1.30v5.74h-1.30zM81.10 134.8h1.30v5.74h-1.30zM84.40 134.8h1.30v5.74h-1.30zM106.40 134.8h1.30v5.74h-1.30zM120.70 134.8h1.30v5.74h-1.30zM83.30 140.2h1.30v5.74h-1.30zM100.90 162.0h1.30v5.74h-1.30zM106.40 167.4h1.30v5.74h-1.30zM124.00 167.4h1.30v5.74h-1.30zM124.00 172.9h1.30v5.74h-1.30zM102.00 178.3h1.30v5.74h-1.30zM94.30 183.8h1.30v5.74h-1.30zM99.80 183.8h2.40v5.74h-2.40zM115.20 183.8h1.30v5.74h-1.30zM119.60 183.8h1.30v5.74h-1.30zM124.00 183.8h1.30v5.74h-1.30zM113.00 205.5h1.30v5.74h-1.30zM116.30 205.5h1.30v5.74h-1.30zM122.90 205.5h1.30v5.74h-1.30zM88.80 210.9h1.30v5.74h-1.30zM121.80 210.9h1.30v5.74h-1.30zM122.90 216.4h1.30v5.74h-1.30zM126.21 216.4h1.33v5.74h-1.33zM88.80 221.8h1.30v5.74h-1.30zM104.20 221.8h1.30v5.74h-1.30zM94.30 227.2h1.30v5.74h-1.30zM110.80 227.2h1.30v5.74h-1.30zM126.21 227.2h1.33v5.74h-1.33zM89.90 232.7h1.30v5.74h-1.30zM104.20 232.7h1.30v5.74h-1.30zM109.70 232.7h1.30v5.74h-1.30zM86.60 249.0h1.30v5.74h-1.30zM109.70 249.0h1.30v5.74h-1.30zM124.00 249.0h1.30v5.74h-1.30zM86.60 254.4h1.30v5.74h-1.30zM118.50 254.4h1.30v5.74h-1.30zM120.70 254.4h2.40v5.74h-2.40zM88.80 259.9h1.30v5.74h-1.30zM111.90 259.9h1.30v5.74h-1.30zM122.90 259.9h1.30v5.74h-1.30zM100.90 265.3h1.30v5.74h-1.30zM91.00 270.8h1.30v5.74h-1.30zM115.20 276.2h1.30v5.74h-1.30zM87.70 292.5h1.30v5.74h-1.30zM87.70 297.9h1.30v5.74h-1.30zM115.20 297.9h1.30v5.74h-1.30zM119.60 308.8h1.30v5.74h-1.30zM116.30 319.7h1.30v5.74h-1.30zM118.50 319.7h1.30v5.74h-1.30zM113.00 341.4h1.30v5.74h-1.30zM121.80 341.4h1.30v5.74h-1.30zM114.10 346.9h1.30v5.74h-1.30zM92.10 352.3h1.30v5.74h-1.30zM114.10 352.3h1.30v5.74h-1.30zM118.50 352.3h1.30v5.74h-1.30zM92.10 384.9h1.30v5.74h-1.30zM116.30 384.9h1.30v5.74h-1.30zM119.60 384.9h1.30v5.74h-1.30zM105.30 395.8h1.30v5.74h-1.30zM108.60 401.2h1.30v5.74h-1.30zM124.00 401.2h1.30v5.74h-1.30zM91.00 406.7h1.30v5.74h-1.30zM103.10 406.7h1.30v5.74h-1.30zM110.80 406.7h1.30v5.74h-1.30zM106.40 412.1h1.30v5.74h-1.30zM105.30 433.9h1.30v5.74h-1.30zM109.70 433.9h1.30v5.74h-1.30zM117.40 433.9h1.30v5.74h-1.30zM111.90 444.8h1.30v5.74h-1.30zM119.60 444.8h1.30v5.74h-1.30zM99.80 450.2h1.30v5.74h-1.30zM102.00 455.6h1.30v5.74h-1.30zM108.60 461.1h1.30v5.74h-1.30zM102.00 466.5h1.30v5.74h-1.30zM114.10 466.5h1.30v5.74h-1.30zM96.50 471.9h1.30v5.74h-1.30zM109.70 477.4h1.30v5.74h-1.30zM115.20 477.4h1.30v5.74h-1.30zM122.90 477.4h1.30v5.74h-1.30zM111.90 482.8h1.30v5.74h-1.30zM100.90 493.7h1.30v5.74h-1.30zM104.20 493.7h1.30v5.74h-1.30zM125.10 493.7h1.31v5.74h-1.31zM103.10 499.1h1.30v5.74h-1.30zM114.10 499.1h1.30v5.74h-1.30zM118.50 499.1h1.30v5.74h-1.30zM103.10 504.6h1.30v5.74h-1.30zM110.80 504.6h1.30v5.74h-1.30z"/>
<path stroke="#0000ea" d="M134.0 87.1v2.94M179.6 87.1v2.94M158.0 119.8v2.94M179.6 119.8v2.94M131.5 125.2v2.94M148.1 125.2v2.94M169.2 125.2v2.94M173.2 125.2v2.94M179.6 125.2v2.94M184.0 125.2v2.94M193.5 125.2v2.94M136.6 130.6v2.94M179.6 130.6v2.94M184.0 130.6v2.94M143.5 141.5v2.94M158.0 141.5v2.94M165.3 141.5v2.94M131.5 174.1v2.94M132.7 174.1v2.94M135.3 185.0v2.94M145.0 185.0v2.94M146.5 185.0v2.94M158.0 190.4v2.94M145.0 206.8v2.94M173.2 206.8v2.94M181.8 206.8v2.94M145.0 212.2v2.94M139.3 223.1v2.94M181.8 223.1v2.94M186.3 223.1v2.94M131.5 228.5v2.94M193.5 228.5v2.94M140.7 233.9v2.94M167.2 233.9v2.94M173.2 233.9v2.94M175.3 233.9v2.94M173.2 244.8v2.94M142.1 250.2v2.94M191.0 250.2v2.94M146.5 255.7v2.94M169.2 261.1v2.94M135.3 266.6v2.94M135.3 272.0v2.94M169.2 282.9v2.94M131.5 293.8v2.94M140.7 293.8v2.94M136.6 299.2v2.94M143.5 299.2v2.94M152.9 299.2v2.94M181.8 304.6v2.94M137.9 315.5v2.94M146.5 315.5v2.94M152.9 315.5v2.94M154.5 315.5v2.94M142.1 320.9v2.94M149.6 331.8v2.94M154.5 331.8v2.94M143.5 337.2v2.94M149.6 342.7v2.94M132.7 348.1v2.94M137.9 348.1v2.94M142.1 348.1v2.94M152.9 348.1v2.94M135.3 353.6v2.94M136.6 353.6v2.94M154.5 353.6v2.94M132.7 359.0v2.94M146.5 364.4v2.94M163.4 364.4v2.94M135.3 375.3v2.94M137.9 375.3v2.94M142.1 375.3v2.94M135.3 380.8v2.94M136.6 380.8v2.94M131.5 391.6v2.94M135.3 391.6v2.94M151.2 397.1v2.94M152.9 397.1v2.94M154.5 397.1v2.94M163.4 397.1v2.94M151.2 402.5v2.94M136.6 407.9v2.94M158.0 407.9v2.94M171.2 413.4v2.94M132.7 418.8v2.94M136.6 418.8v2.94M148.1 418.8v2.94M137.9 429.7v2.94M142.1 440.6v2.94M145.0 440.6v2.94M135.3 446.0v2.94M159.8 446.0v2.94M146.5 451.4v2.94M134.0 456.9v2.94M135.3 462.3v2.94M135.3 467.8v2.94M154.5 467.8v2.94M132.7 478.6v2.94M132.7 484.1v2.94M163.4 484.1v2.94M134.0 489.5v2.94M135.3 494.9v2.94M179.6 494.9v2.94M140.7 500.4v2.94M175.3 500.4v2.94"/>
<path fill="#0000ea" stroke="none" d="M82.20 80.4h1.30v5.74h-1.30zM80.00 85.9h1.30v5.74h-1.30zM94.30 85.9h1.30v5.74h-1.30zM109.70 85.9h1.30v5.74h-1.30zM116.30 85.9h1.30v5.74h-1.30zM125.10 85.9h1.31v5.74h-1.31zM95.40 96.8h1.30v5.74h-1.30zM82.20 123.9h1.30v5.74h-1.30zM86.60 123.9h1.30v5.74h-1.30zM80.00 129.4h1.30v5.74h-1.30zM100.90 129.4h1.30v5.74h-1.30zM106.40 129.4h1.30v5.74h-1.30zM102.00 134.8h1.30v5.74h-1.30zM113.00 134.8h1.30v5.74h-1.30zM121.80 134.8h1.30v5.74h-1.30zM125.10 134.8h1.31v5.74h-1.31zM94.30 140.2h1.30v5.74h-1.30zM102.00 140.2h1.30v5.74h-1.30zM111.90 140.2h1.30v5.74h-1.30zM126.21 140.2h1.33v5.74h-1.33zM86.60 162.0h1.30v5.74h-1.30zM88.80 162.0h1.30v5.74h-1.30zM99.80 162.0h1.30v5.74h-1.30zM106.40 162.0h1.30v5.74h-1.30zM119.60 162.0h1.30v5.74h-1.30zM87.70 172.9h1.30v5.74h-1.30zM96.50 172.9h1.30v5.74h-1.30zM109.70 172.9h1.30v5.74h-1.30zM116.30 172.9h1.30v5.74h-1.30zM111.90 178.3h1.30v5.74h-1.30zM119.60 178.3h1.30v5.74h-1.30zM122.90 183.8h1.30v5.74h-1.30zM86.60 210.9h1.30v5.74h-1.30zM99.80 210.9h1.30v5.74h-1.30zM113.00 210.9h2.40v5.74h-2.40zM86.60 216.4h1.30v5.74h-1.30zM100.90 216.4h1.30v5.74h-1.30zM93.20 221.8h1.30v5.74h-1.30zM125.10 221.8h1.31v5.74h-1.31zM92.10 227.2h1.30v5.74h-1.30zM102.00 227.2h1.30v5.74h-1.30zM115.20 232.7h1.30v5.74h-1.30zM121.80 249.0h2.40v5.74h-2.40zM91.00 254.4h1.30v5.74h-1.30zM102.00 254.4h1.30v5.74h-1.30zM109.70 254.4h1.30v5.74h-1.30zM111.90 254.4h1.30v5.74h-1.30zM121.80 259.9h1.30v5.74h-1.30zM125.10 259.9h1.31v5.74h-1.31zM93.20 270.8h1.30v5.74h-1.30zM121.80 270.8h1.30v5.74h-1.30zM93.20 276.2h1.30v5.74h-1.30zM119.60 276.2h1.30v5.74h-1.30zM91.00 292.5h1.30v5.74h-1.30zM100.90 292.5h1.30v5.74h-1.30zM107.50 292.5h1.30v5.74h-1.30zM111.90 292.5h1.30v5.74h-1.30zM88.80 297.9h1.30v5.74h-1.30zM99.80 297.9h1.30v5.74h-1.30zM109.70 297.9h1.30v5.74h-1.30zM105.30 303.4h1.30v5.74h-1.30zM113.00 303.4h1.30v5.74h-1.30zM117.40 303.4h1.30v5.74h-1.30zM102.00 308.8h1.30v5.74h-1.30zM120.70 308.8h1.30v5.74h-1.30zM116.30 314.2h1.30v5.74h-1.30zM100.90 319.7h1.30v5.74h-1.30zM94.30 341.4h1.30v5.74h-1.30zM109.70 341.4h2.40v5.74h-2.40zM114.10 341.4h1.30v5.74h-1.30zM118.50 341.4h1.30v5.74h-1.30zM94.30 346.9h1.30v5.74h-1.30zM86.60 352.3h1.30v5.74h-1.30zM94.30 352.3h1.30v5.74h-1.30zM106.40 352.3h1.30v5.74h-1.30zM87.70 357.8h1.30v5.74h-1.30zM103.10 357.8h1.30v5.74h-1.30zM106.40 357.8h1.30v5.74h-1.30zM92.10 379.5h1.30v5.74h-1.30zM96.50 379.5h1.30v5.74h-1.30zM121.80 379.5h1.30v5.74h-1.30zM117.40 384.9h1.30v5.74h-1.30zM109.70 401.2h1.30v5.74h-1.30zM116.30 401.2h2.40v5.74h-2.40zM125.10 401.2h1.31v5.74h-1.31zM96.50 406.7h1.30v5.74h-1.30zM108.60 406.7h1.30v5.74h-1.30zM102.00 412.1h1.30v5.74h-1.30zM118.50 412.1h1.30v5.74h-1.30zM124.00 412.1h1.30v5.74h-1.30zM100.90 417.6h1.30v5.74h-1.30zM107.50 417.6h1.30v5.74h-1.30zM124.00 417.6h1.30v5.74h-1.30zM107.50 423.0h1.30v5.74h-1.30zM119.60 423.0h1.30v5.74h-1.30zM126.21 423.0h1.33v5.74h-1.33zM126.21 428.4h1.33v5.74h-1.33zM89.90 433.9h1.30v5.74h-1.30zM116.30 433.9h1.30v5.74h-1.30zM100.90 439.3h1.30v5.74h-1.30zM125.10 439.3h1.31v5.74h-1.31zM113.00 444.8h1.30v5.74h-1.30zM126.21 444.8h1.33v5.74h-1.33zM106.40 455.6h1.30v5.74h-1.30zM108.60 455.6h1.30v5.74h-1.30zM113.00 455.6h1.30v5.74h-1.30zM117.40 455.6h1.30v5.74h-1.30zM99.80 466.5h1.30v5.74h-1.30zM115.20 466.5h1.30v5.74h-1.30zM95.40 471.9h1.30v5.74h-1.30zM105.30 471.9h1.30v5.74h-1.30zM113.00 471.9h1.30v5.74h-1.30zM115.20 471.9h1.30v5.74h-1.30zM96.50 482.8h1.30v5.74h-1.30zM126.21 482.8h1.33v5.74h-1.33zM104.20 488.2h1.30v5.74h-1.30zM88.80 493.7h1.30v5.74h-1.30zM109.70 504.6h1.30v5.74h-1.30zM116.30 504.6h1.30v5.74h-1.30z"/>
<path stroke="#0000ff" d="M135.3 81.7v2.94M158.0 81.7v2.94M196.0 81.7v2.94M206.4 87.1v2.94M151.2 92.6v2.94M143.5 98.0v2.94M201.1 98.0v2.94M132.7 119.8v2.94M135.3 119.8v2.94M173.2 119.8v2.94M139.3 125.2v2.94M149.6 125.2v2.94M161.6 125.2v2.94M206.4 125.2v2.94M139.3 130.6v2.94M201.1 130.6v2.94M175.3 136.1v2.94M203.7 136.1v2.94M201.1 141.5v2.94M206.4 141.5v2.94M201.1 146.9v2.94M203.7 146.9v2.94M131.5 168.7v2.94M137.9 179.6v2.94M143.5 179.6v2.94M177.4 179.6v2.94M203.7 179.6v2.94M206.4 179.6v2.94M201.1 201.3v2.94M203.7 201.3v2.94M132.7 212.2v2.94M146.5 212.2v2.94M206.4 212.2v2.94M203.7 217.6v2.94M201.1 223.1v2.94M136.6 228.5v2.94M140.7 228.5v2.94M206.4 228.5v2.94M206.4 233.9v2.94M140.7 239.4v2.94M203.7 239.4v2.94M167.2 244.8v2.94M203.7 244.8v2.94M206.4 244.8v2.94M134.0 255.7v2.94M201.1 255.7v2.94M206.4 255.7v2.94M131.5 261.1v2.94M201.1 261.1v2.94M203.7 261.1v2.94M206.4 261.1v2.94M139.3 266.6v2.94M201.1 266.6v2.94M137.9 272.0v2.94M158.0 277.4v2.94M203.7 282.9v2.94M206.4 282.9v2.94M134.0 293.8v2.94M206.4 293.8v2.94M165.3 299.2v2.94M132.7 304.6v2.94M151.2 304.6v2.94M161.6 304.6v2.94M191.0 304.6v2.94M173.2 310.1v2.94M203.7 310.1v2.94M206.4 310.1v2.94M206.4 315.5v2.94M132.7 320.9v2.94M151.2 320.9v2.94M203.7 320.9v2.94M206.4 320.9v2.94M135.3 326.4v2.94M206.4 326.4v2.94M148.1 331.8v2.94M203.7 331.8v2.94M154.5 337.2v2.94M201.1 337.2v2.94M206.4 337.2v2.94M203.7 348.1v2.94M201.1 364.4v2.94M206.4 369.9v2.94M151.2 375.3v2.94M206.4 380.8v2.94M148.1 386.2v2.94M137.9 391.6v2.94M154.5 391.6v2.94M201.1 391.6v2.94M136.6 402.5v2.94M149.6 402.5v2.94M201.1 402.5v2.94M143.5 407.9v2.94M152.9 407.9v2.94M184.0 407.9v2.94M149.6 413.4v2.94M163.4 418.8v2.94M206.4 418.8v2.94M145.0 424.2v2.94M201.1 424.2v2.94M143.5 435.1v2.94M201.1 435.1v2.94M203.7 446.0v2.94M206.4 446.0v2.94M143.5 451.4v2.94M161.6 451.4v2.94M206.4 451.4v2.94M203.7 456.9v2.94M131.5 462.3v2.94M201.1 462.3v2.94M206.4 462.3v2.94M142.1 467.8v2.94M201.1 473.2v2.94M139.3 478.6v2.94M146.5 484.1v2.94M203.7 489.5v2.94M206.4 494.9v2.94M201.1 500.4v2.94M206.4 500.4v2.94"/>
<path fill="#0000ff" stroke="none" d="M105.30 80.4h1.30v5.74h-1.30zM107.50 80.4h1.30v5.74h-1.30zM120.70 80.4h1.30v5.74h-1.30zM81.10 85.9h1.30v5.74h-1.30zM87.70 85.9h1.30v5.74h-1.30zM117.40 85.9h1.30v5.74h-1.30zM87.70 91.3h1.30v5.74h-1.30zM94.30 96.8h1.30v5.74h-1.30zM120.70 96.8h1.30v5.74h-1.30zM125.10 96.8h1.31v5.74h-1.31zM120.70 118.5h1.30v5.74h-1.30zM83.30 123.9h1.30v5.74h-1.30zM102.00 123.9h1.30v5.74h-1.30zM111.90 123.9h1.30v5.74h-1.30zM121.80 129.4h1.30v5.74h-1.30zM105.30 134.8h1.30v5.74h-1.30zM109.70 134.8h1.30v5.74h-1.30zM80.00 140.2h1.30v5.74h-1.30zM93.20 140.2h1.30v5.74h-1.30zM96.50 140.2h1.30v5.74h-1.30zM81.10 162.0h1.30v5.74h-1.30zM118.50 162.0h1.30v5.74h-1.30zM84.40 167.4h1.30v5.74h-1.30zM95.40 167.4h1.30v5.74h-1.30zM105.30 167.4h1.30v5.74h-1.30zM108.60 167.4h1.30v5.74h-1.30zM115.20 167.4h1.30v5.74h-1.30zM119.60 167.4h1.30v5.74h-1.30zM84.40 172.9h1.30v5.74h-1.30zM100.90 172.9h1.30v5.74h-1.30zM84.40 178.3h1.30v5.74h-1.30zM91.00 178.3h2.40v5.74h-2.40zM96.50 178.3h1.30v5.74h-1.30zM122.90 178.3h1.30v5.74h-1.30zM89.90 205.5h1.30v5.74h-1.30zM121.80 205.5h1.30v5.74h-1.30zM109.70 221.8h1.30v5.74h-1.30zM93.20 227.2h1.30v5.74h-1.30zM122.90 227.2h1.30v5.74h-1.30zM105.30 232.7h1.30v5.74h-1.30zM120.70 232.7h1.30v5.74h-1.30zM99.80 249.0h1.30v5.74h-1.30zM110.80 249.0h1.30v5.74h-1.30zM109.70 259.9h2.40v5.74h-2.40zM115.20 259.9h1.30v5.74h-1.30zM121.80 265.3h1.30v5.74h-1.30zM84.40 270.8h1.30v5.74h-1.30zM87.70 270.8h1.30v5.74h-1.30zM94.30 270.8h1.30v5.74h-1.30zM96.50 276.2h1.30v5.74h-1.30zM126.21 276.2h1.33v5.74h-1.33zM86.60 292.5h1.30v5.74h-1.30zM88.80 303.4h1.30v5.74h-1.30zM120.70 303.4h1.30v5.74h-1.30zM88.80 308.8h1.30v5.74h-1.30zM108.60 308.8h1.30v5.74h-1.30zM99.80 314.2h1.30v5.74h-1.30zM105.30 314.2h1.30v5.74h-1.30zM106.40 319.7h1.30v5.74h-1.30zM110.80 319.7h1.30v5.74h-1.30zM121.80 319.7h1.30v5.74h-1.30zM111.90 325.1h1.30v5.74h-1.30zM126.21 325.1h1.33v5.74h-1.33zM113.00 330.6h1.30v5.74h-1.30zM85.50 336.0h1.30v5.74h-1.30zM110.80 336.0h1.30v5.74h-1.30zM126.21 336.0h1.33v5.74h-1.33zM103.10 341.4h1.30v5.74h-1.30zM111.90 341.4h1.30v5.74h-1.30zM92.10 346.9h1.30v5.74h-1.30zM108.60 346.9h1.30v5.74h-1.30zM122.90 346.9h1.30v5.74h-1.30zM88.80 352.3h1.30v5.74h-1.30zM108.60 352.3h1.30v5.74h-1.30zM121.80 352.3h2.40v5.74h-2.40zM86.60 357.8h1.30v5.74h-1.30zM92.10 357.8h3.50v5.74h-3.50zM118.50 357.8h1.30v5.74h-1.30zM120.70 357.8h1.30v5.74h-1.30zM87.70 363.2h1.30v5.74h-1.30zM104.20 368.6h3.50v5.74h-3.50zM113.00 368.6h1.30v5.74h-1.30zM116.30 368.6h1.30v5.74h-1.30zM105.30 374.1h1.30v5.74h-1.30zM107.50 374.1h1.30v5.74h-1.30zM119.60 374.1h1.30v5.74h-1.30zM95.40 379.5h1.30v5.74h-1.30zM100.90 379.5h1.30v5.74h-1.30zM113.00 379.5h1.30v5.74h-1.30zM95.40 384.9h1.30v5.74h-1.30zM102.00 384.9h1.30v5.74h-1.30zM122.90 384.9h2.40v5.74h-2.40zM113.00 390.4h1.30v5.74h-1.30zM106.40 395.8h1.30v5.74h-1.30zM121.80 395.8h1.30v5.74h-1.30zM124.00 395.8h1.30v5.74h-1.30zM88.80 401.2h1.30v5.74h-1.30zM104.20 401.2h1.30v5.74h-1.30zM89.90 406.7h1.30v5.74h-1.30zM120.70 406.7h1.30v5.74h-1.30zM124.00 406.7h1.30v5.74h-1.30zM121.80 417.6h1.30v5.74h-1.30zM119.60 428.4h1.30v5.74h-1.30zM102.00 433.9h1.30v5.74h-1.30zM102.00 439.3h1.30v5.74h-1.30zM104.20 439.3h1.30v5.74h-1.30zM116.30 439.3h1.30v5.74h-1.30zM126.21 439.3h1.33v5.74h-1.33zM104.20 444.8h1.30v5.74h-1.30zM110.80 444.8h1.30v5.74h-1.30zM102.00 450.2h1.30v5.74h-1.30zM107.50 450.2h1.30v5.74h-1.30zM113.00 450.2h1.30v5.74h-1.30zM110.80 455.6h1.30v5.74h-1.30zM121.80 471.9h1.30v5.74h-1.30zM96.50 477.4h1.30v5.74h-1.30zM106.40 488.2h1.30v5.74h-1.30zM91.00 493.7h1.30v5.74h-1.30zM96.50 493.7h1.30v5.74h-1.30zM110.80 499.1h1.30v5.74h-1.30zM116.30 499.1h1.30v5.74h-1.30zM120.70 499.1h1.30v5.74h-1.30zM124.00 499.1h1.30v5.74h-1.30zM125.10 504.6h1.31v5.74h-1.31z"/>
<path stroke="#002bff" d="M149.6 81.7v2.94M175.3 81.7v2.94M149.6 87.1v2.94M173.2 92.6v2.94M159.8 98.0v2.94M145.0 119.8v2.94M149.6 119.8v2.94M152.9 119.8v2.94M201.1 119.8v2.94M206.4 119.8v2.94M177.4 125.2v2.94M198.5 125.2v2.94M203.7 125.2v2.94M171.2 130.6v2.94M206.4 136.1v2.94M134.0 141.5v2.94M148.1 141.5v2.94M142.1 168.7v2.94M131.5 185.0v2.94M206.4 185.0v2.94M198.5 201.3v2.94M198.5 233.9v2.94M196.0 239.4v2.94M134.0 250.2v2.94M201.1 250.2v2.94M196.0 255.7v2.94M143.5 272.0v2.94M163.4 277.4v2.94M201.1 277.4v2.94M201.1 282.9v2.94M142.1 293.8v2.94M149.6 293.8v2.94M131.5 310.1v2.94M143.5 310.1v2.94M135.3 315.5v2.94M140.7 315.5v2.94M201.1 315.5v2.94M203.7 315.5v2.94M145.0 320.9v2.94M188.7 320.9v2.94M136.6 326.4v2.94M151.2 326.4v2.94M201.1 326.4v2.94M203.7 326.4v2.94M137.9 331.8v2.94M145.0 331.8v2.94M152.9 337.2v2.94M196.0 342.7v2.94M163.4 348.1v2.94M206.4 353.6v2.94M131.5 359.0v2.94M136.6 359.0v2.94M158.0 359.0v2.94M159.8 359.0v2.94M196.0 359.0v2.94M134.0 364.4v2.94M165.3 369.9v2.94M203.7 369.9v2.94M146.5 380.8v2.94M161.6 380.8v2.94M203.7 380.8v2.94M131.5 386.2v2.94M143.5 386.2v2.94M159.8 386.2v2.94M137.9 397.1v2.94M142.1 402.5v2.94M196.0 402.5v2.94M142.1 407.9v2.94M201.1 418.8v2.94M203.7 418.8v2.94M203.7 424.2v2.94M206.4 424.2v2.94M131.5 429.7v2.94M136.6 429.7v2.94M158.0 435.1v2.94M137.9 440.6v2.94M151.2 440.6v2.94M198.5 440.6v2.94M201.1 440.6v2.94M206.4 440.6v2.94M146.5 446.0v2.94M140.7 451.4v2.94M142.1 451.4v2.94M131.5 467.8v2.94M206.4 467.8v2.94M196.0 473.2v2.94M146.5 478.6v2.94M148.1 478.6v2.94M196.0 478.6v2.94M203.7 484.1v2.94M140.7 494.9v2.94M134.0 500.4v2.94M203.7 500.4v2.94M158.0 505.8v2.94"/>
<path fill="#002bff" stroke="none" d="M88.80 80.4h1.30v5.74h-1.30zM108.60 80.4h1.30v5.74h-1.30zM121.80 85.9h1.30v5.74h-1.30zM80.00 91.3h1.30v5.74h-1.30zM83.30 91.3h1.30v5.74h-1.30zM88.80 91.3h1.30v5.74h-1.30zM99.80 91.3h1.30v5.74h-1.30zM105.30 91.3h1.30v5.74h-1.30zM109.70 91.3h1.30v5.74h-1.30zM124.00 96.8h1.30v5.74h-1.30zM126.21 96.8h1.33v5.74h-1.33zM115.20 118.5h1.30v5.74h-1.30zM122.90 118.5h1.30v5.74h-1.30zM108.60 123.9h1.30v5.74h-1.30zM114.10 123.9h1.30v5.74h-1.30zM87.70 129.4h1.30v5.74h-1.30zM85.50 134.8h1.30v5.74h-1.30zM107.50 134.8h2.40v5.74h-2.40zM108.60 140.2h1.30v5.74h-1.30zM121.80 140.2h1.30v5.74h-1.30zM96.50 162.0h1.30v5.74h-1.30zM105.30 162.0h1.30v5.74h-1.30zM121.80 162.0h1.30v5.74h-1.30zM85.50 167.4h1.30v5.74h-1.30zM110.80 172.9h1.30v5.74h-1.30zM83.30 178.3h1.30v5.74h-1.30zM87.70 178.3h2.40v5.74h-2.40zM80.00 183.8h1.30v5.74h-1.30zM96.50 183.8h1.30v5.74h-1.30zM84.40 205.5h1.30v5.74h-1.30zM100.90 205.5h1.30v5.74h-1.30zM103.10 205.5h1.30v5.74h-1.30zM108.60 205.5h1.30v5.74h-1.30zM118.50 205.5h1.30v5.74h-1.30zM94.30 221.8h1.30v5.74h-1.30zM111.90 221.8h1.30v5.74h-1.30zM107.50 227.2h1.30v5.74h-1.30zM103.10 232.7h1.30v5.74h-1.30zM121.80 232.7h1.30v5.74h-1.30zM88.80 249.0h1.30v5.74h-1.30zM96.50 249.0h1.30v5.74h-1.30zM94.30 254.4h1.30v5.74h-1.30zM106.40 254.4h1.30v5.74h-1.30zM110.80 254.4h1.30v5.74h-1.30zM113.00 254.4h1.30v5.74h-1.30zM115.20 254.4h1.30v5.74h-1.30zM125.10 254.4h1.31v5.74h-1.31zM89.90 265.3h1.30v5.74h-1.30zM95.40 265.3h1.30v5.74h-1.30zM103.10 265.3h1.30v5.74h-1.30zM111.90 265.3h1.30v5.74h-1.30zM115.20 265.3h1.30v5.74h-1.30zM92.10 270.8h1.30v5.74h-1.30zM115.20 270.8h1.30v5.74h-1.30zM119.60 270.8h1.30v5.74h-1.30zM124.00 270.8h1.30v5.74h-1.30zM87.70 276.2h1.30v5.74h-1.30zM89.90 276.2h1.30v5.74h-1.30zM94.30 276.2h1.30v5.74h-1.30zM116.30 297.9h1.30v5.74h-1.30zM114.10 303.4h1.30v5.74h-1.30zM107.50 308.8h1.30v5.74h-1.30zM105.30 319.7h1.30v5.74h-1.30zM102.00 325.1h2.40v5.74h-2.40zM105.30 325.1h1.30v5.74h-1.30zM116.30 325.1h1.30v5.74h-1.30zM86.60 336.0h1.30v5.74h-1.30zM94.30 336.0h1.30v5.74h-1.30zM102.00 336.0h2.40v5.74h-2.40zM85.50 346.9h1.30v5.74h-1.30zM88.80 346.9h1.30v5.74h-1.30zM117.40 346.9h1.30v5.74h-1.30zM87.70 352.3h1.30v5.74h-1.30zM88.80 357.8h1.30v5.74h-1.30zM105.30 357.8h1.30v5.74h-1.30zM93.20 363.2h1.30v5.74h-1.30zM100.90 363.2h1.30v5.74h-1.30zM104.20 363.2h1.30v5.74h-1.30zM118.50 363.2h1.30v5.74h-1.30zM125.10 363.2h2.44v5.74h-2.44zM115.20 368.6h1.30v5.74h-1.30zM117.40 368.6h1.30v5.74h-1.30zM99.80 374.1h1.30v5.74h-1.30zM102.00 374.1h1.30v5.74h-1.30zM115.20 374.1h1.30v5.74h-1.30zM88.80 379.5h1.30v5.74h-1.30zM118.50 379.5h1.30v5.74h-1.30zM106.40 384.9h1.30v5.74h-1.30zM91.00 390.4h1.30v5.74h-1.30zM95.40 390.4h2.40v5.74h-2.40zM105.30 390.4h1.30v5.74h-1.30zM109.70 390.4h1.30v5.74h-1.30zM122.90 390.4h1.30v5.74h-1.30zM125.10 395.8h1.31v5.74h-1.31zM96.50 401.2h1.30v5.74h-1.30zM113.00 406.7h1.30v5.74h-1.30zM115.20 406.7h1.30v5.74h-1.30zM121.80 412.1h1.30v5.74h-1.30zM99.80 423.0h1.30v5.74h-1.30zM120.70 423.0h2.40v5.74h-2.40zM93.20 428.4h1.30v5.74h-1.30zM102.00 428.4h1.30v5.74h-1.30zM106.40 428.4h1.30v5.74h-1.30zM118.50 433.9h1.30v5.74h-1.30zM121.80 433.9h1.30v5.74h-1.30zM109.70 444.8h1.30v5.74h-1.30zM116.30 444.8h1.30v5.74h-1.30zM119.60 450.2h1.30v5.74h-1.30zM124.00 450.2h1.30v5.74h-1.30zM107.50 466.5h1.30v5.74h-1.30zM111.90 466.5h1.30v5.74h-1.30zM119.60 466.5h1.30v5.74h-1.30zM99.80 477.4h1.30v5.74h-1.30zM107.50 477.4h2.40v5.74h-2.40zM107.50 482.8h1.30v5.74h-1.30zM109.70 488.2h1.30v5.74h-1.30zM113.00 488.2h1.30v5.74h-1.30zM95.40 493.7h1.30v5.74h-1.30zM108.60 493.7h1.30v5.74h-1.30zM110.80 493.7h1.30v5.74h-1.30zM120.70 493.7h1.30v5.74h-1.30zM105.30 499.1h1.30v5.74h-1.30zM109.70 499.1h1.30v5.74h-1.30zM105.30 504.6h1.30v5.74h-1.30zM107.50 504.6h1.30v5.74h-1.30z"/>
<path stroke="#0055ff" d="M201.1 81.7v2.94M159.8 87.1v2.94M177.4 98.0v2.94M136.6 119.8v2.94M165.3 125.2v2.94M171.2 125.2v2.94M142.1 130.6v2.94M146.5 130.6v2.94M149.6 130.6v2.94M161.6 130.6v2.94M163.4 130.6v2.94M201.1 136.1v2.94M139.3 141.5v2.94M167.2 141.5v2.94M203.7 141.5v2.94M137.9 174.1v2.94M143.5 185.0v2.94M186.3 185.0v2.94M149.6 190.4v2.94M156.2 190.4v2.94M154.5 201.3v2.94M139.3 206.8v2.94M193.5 212.2v2.94M181.8 217.6v2.94M201.1 217.6v2.94M142.1 228.5v2.94M135.3 233.9v2.94M203.7 233.9v2.94M201.1 239.4v2.94M201.1 244.8v2.94M132.7 250.2v2.94M206.4 250.2v2.94M143.5 261.1v2.94M175.3 261.1v2.94M203.7 266.6v2.94M143.5 282.9v2.94M137.9 293.8v2.94M158.0 304.6v2.94M201.1 304.6v2.94M201.1 310.1v2.94M156.2 315.5v2.94M188.7 315.5v2.94M131.5 320.9v2.94M137.9 320.9v2.94M142.1 326.4v2.94M161.6 326.4v2.94M159.8 331.8v2.94M132.7 337.2v2.94M156.2 342.7v2.94M203.7 342.7v2.94M206.4 342.7v2.94M201.1 348.1v2.94M203.7 353.6v2.94M146.5 359.0v2.94M203.7 364.4v2.94M206.4 364.4v2.94M146.5 369.9v2.94M151.2 369.9v2.94M201.1 369.9v2.94M131.5 380.8v2.94M143.5 380.8v2.94M169.2 402.5v2.94M206.4 407.9v2.94M159.8 418.8v2.94M145.0 435.1v2.94M134.0 440.6v2.94M201.1 451.4v2.94M165.3 456.9v2.94M179.6 456.9v2.94M137.9 462.3v2.94M145.0 462.3v2.94M177.4 462.3v2.94M203.7 462.3v2.94M169.2 467.8v2.94M201.1 478.6v2.94M132.7 494.9v2.94M135.3 500.4v2.94M136.6 500.4v2.94M145.0 505.8v2.94"/>
<path fill="#0055ff" stroke="none" d="M85.50 80.4h1.30v5.74h-1.30zM121.80 80.4h1.30v5.74h-1.30zM82.20 85.9h1.30v5.74h-1.30zM120.70 85.9h1.30v5.74h-1.30zM86.60 91.3h1.30v5.74h-1.30zM104.20 96.8h3.50v5.74h-3.50zM117.40 96.8h1.30v5.74h-1.30zM121.80 118.5h1.30v5.74h-1.30zM85.50 123.9h1.30v5.74h-1.30zM115.20 123.9h1.30v5.74h-1.30zM105.30 129.4h1.30v5.74h-1.30zM107.50 129.4h1.30v5.74h-1.30zM109.70 129.4h1.30v5.74h-1.30zM111.90 129.4h1.30v5.74h-1.30zM80.00 134.8h1.30v5.74h-1.30zM89.90 134.8h1.30v5.74h-1.30zM92.10 134.8h1.30v5.74h-1.30zM89.90 140.2h1.30v5.74h-1.30zM92.10 140.2h1.30v5.74h-1.30zM95.40 140.2h1.30v5.74h-1.30zM117.40 140.2h1.30v5.74h-1.30zM121.80 167.4h1.30v5.74h-1.30zM95.40 172.9h1.30v5.74h-1.30zM108.60 178.3h1.30v5.74h-1.30zM114.10 178.3h1.30v5.74h-1.30zM81.10 183.8h1.30v5.74h-1.30zM84.40 183.8h1.30v5.74h-1.30zM118.50 183.8h1.30v5.74h-1.30zM91.00 205.5h1.30v5.74h-1.30zM93.20 205.5h2.40v5.74h-2.40zM104.20 205.5h1.30v5.74h-1.30zM104.20 210.9h1.30v5.74h-1.30zM105.30 216.4h2.40v5.74h-2.40zM111.90 216.4h2.40v5.74h-2.40zM84.40 227.2h1.30v5.74h-1.30zM111.90 227.2h1.30v5.74h-1.30zM95.40 232.7h1.30v5.74h-1.30zM85.50 249.0h1.30v5.74h-1.30zM119.60 249.0h1.30v5.74h-1.30zM99.80 259.9h1.30v5.74h-1.30zM107.50 259.9h1.30v5.74h-1.30zM89.90 270.8h1.30v5.74h-1.30zM95.40 270.8h2.40v5.74h-2.40zM84.40 276.2h1.30v5.74h-1.30zM102.00 276.2h1.30v5.74h-1.30zM108.60 292.5h1.30v5.74h-1.30zM116.30 292.5h1.30v5.74h-1.30zM85.50 297.9h1.30v5.74h-1.30zM108.60 297.9h1.30v5.74h-1.30zM113.00 297.9h1.30v5.74h-1.30zM125.10 297.9h1.31v5.74h-1.31zM85.50 303.4h1.30v5.74h-1.30zM106.40 303.4h1.30v5.74h-1.30zM109.70 308.8h1.30v5.74h-1.30zM111.90 314.2h1.30v5.74h-1.30zM118.50 314.2h1.30v5.74h-1.30zM121.80 314.2h1.30v5.74h-1.30zM94.30 319.7h1.30v5.74h-1.30zM100.90 325.1h1.30v5.74h-1.30zM106.40 325.1h1.30v5.74h-1.30zM102.00 330.6h2.40v5.74h-2.40zM99.80 336.0h1.30v5.74h-1.30zM115.20 336.0h1.30v5.74h-1.30zM89.90 341.4h1.30v5.74h-1.30zM115.20 341.4h1.30v5.74h-1.30zM117.40 341.4h1.30v5.74h-1.30zM103.10 346.9h1.30v5.74h-1.30zM107.50 346.9h1.30v5.74h-1.30zM110.80 346.9h2.40v5.74h-2.40zM126.21 346.9h1.33v5.74h-1.33zM113.00 352.3h1.30v5.74h-1.30zM117.40 352.3h1.30v5.74h-1.30zM95.40 357.8h1.30v5.74h-1.30zM114.10 357.8h1.30v5.74h-1.30zM126.21 357.8h1.33v5.74h-1.33zM88.80 363.2h1.30v5.74h-1.30zM94.30 363.2h1.30v5.74h-1.30zM103.10 368.6h1.30v5.74h-1.30zM114.10 368.6h1.30v5.74h-1.30zM91.00 379.5h1.30v5.74h-1.30zM104.20 379.5h1.30v5.74h-1.30zM107.50 379.5h1.30v5.74h-1.30zM94.30 384.9h1.30v5.74h-1.30zM121.80 384.9h1.30v5.74h-1.30zM92.10 390.4h1.30v5.74h-1.30zM93.20 395.8h1.30v5.74h-1.30zM107.50 395.8h1.30v5.74h-1.30zM114.10 395.8h1.30v5.74h-1.30zM117.40 395.8h1.30v5.74h-1.30zM111.90 401.2h1.30v5.74h-1.30zM114.10 401.2h1.30v5.74h-1.30zM93.20 406.7h1.30v5.74h-1.30zM100.90 406.7h1.30v5.74h-1.30zM116.30 406.7h1.30v5.74h-1.30zM121.80 406.7h1.30v5.74h-1.30zM99.80 417.6h1.30v5.74h-1.30zM100.90 423.0h1.30v5.74h-1.30zM110.80 423.0h1.30v5.74h-1.30zM94.30 433.9h1.30v5.74h-1.30zM126.21 433.9h1.33v5.74h-1.33zM120.70 439.3h1.30v5.74h-1.30zM102.00 444.8h1.30v5.74h-1.30zM120.70 444.8h1.30v5.74h-1.30zM92.10 450.2h1.30v5.74h-1.30zM95.40 450.2h1.30v5.74h-1.30zM124.00 455.6h1.30v5.74h-1.30zM109.70 461.1h2.40v5.74h-2.40zM94.30 477.4h2.40v5.74h-2.40zM106.40 477.4h1.30v5.74h-1.30zM110.80 477.4h1.30v5.74h-1.30zM95.40 482.8h1.30v5.74h-1.30zM88.80 488.2h1.30v5.74h-1.30zM126.21 488.2h1.33v5.74h-1.33zM94.30 493.7h1.30v5.74h-1.30zM99.80 493.7h1.30v5.74h-1.30zM113.00 493.7h1.30v5.74h-1.30zM100.90 499.1h1.30v5.74h-1.30zM118.50 504.6h1.30v5.74h-1.30z"/>
<path stroke="#0080ff" d="M151.2 81.7v2.94M143.5 87.1v2.94M186.3 87.1v2.94M139.3 92.6v2.94M158.0 92.6v2.94M159.8 92.6v2.94M163.4 98.0v2.94M148.1 119.8v2.94M134.0 130.6v2.94M137.9 130.6v2.94M142.1 136.1v2.94M152.9 136.1v2.94M179.6 136.1v2.94M196.0 136.1v2.94M193.5 141.5v2.94M198.5 146.9v2.94M151.2 179.6v2.94M198.5 179.6v2.94M203.7 185.0v2.94M143.5 206.8v2.94M152.9 206.8v2.94M134.0 212.2v2.94M203.7 212.2v2.94M132.7 233.9v2.94M143.5 255.7v2.94M206.4 266.6v2.94M201.1 272.0v2.94M137.9 277.4v2.94M203.7 277.4v2.94M203.7 288.3v2.94M206.4 288.3v2.94M131.5 299.2v2.94M206.4 299.2v2.94M135.3 304.6v2.94M143.5 304.6v2.94M148.1 304.6v2.94M184.0 310.1v2.94M136.6 315.5v2.94M151.2 315.5v2.94M136.6 320.9v2.94M139.3 337.2v2.94M161.6 342.7v2.94M201.1 342.7v2.94M161.6 348.1v2.94M132.7 353.6v2.94M186.3 353.6v2.94M206.4 359.0v2.94M136.6 364.4v2.94M136.6 369.9v2.94M152.9 369.9v2.94M206.4 375.3v2.94M149.6 380.8v2.94M169.2 380.8v2.94M203.7 386.2v2.94M140.7 391.6v2.94M143.5 391.6v2.94M140.7 397.1v2.94M206.4 397.1v2.94M203.7 413.4v2.94M131.5 424.2v2.94M175.3 435.1v2.94M136.6 440.6v2.94M203.7 440.6v2.94M136.6 446.0v2.94M156.2 451.4v2.94M136.6 456.9v2.94M206.4 456.9v2.94M132.7 467.8v2.94M201.1 467.8v2.94M203.7 478.6v2.94M136.6 494.9v2.94M132.7 500.4v2.94M136.6 505.8v2.94M146.5 505.8v2.94M203.7 505.8v2.94"/>
<path fill="#0080ff" stroke="none" d="M95.40 80.4h1.30v5.74h-1.30zM125.10 80.4h1.31v5.74h-1.31zM95.40 85.9h1.30v5.74h-1.30zM106.40 85.9h1.30v5.74h-1.30zM100.90 91.3h1.30v5.74h-1.30zM120.70 91.3h1.30v5.74h-1.30zM88.80 96.8h1.30v5.74h-1.30zM91.00 96.8h1.30v5.74h-1.30zM103.10 96.8h1.30v5.74h-1.30zM84.40 118.5h1.30v5.74h-1.30zM81.10 129.4h1.30v5.74h-1.30zM93.20 129.4h1.30v5.74h-1.30zM113.00 129.4h1.30v5.74h-1.30zM83.30 134.8h1.30v5.74h-1.30zM96.50 134.8h1.30v5.74h-1.30zM119.60 140.2h2.40v5.74h-2.40zM85.50 162.0h1.30v5.74h-1.30zM95.40 162.0h1.30v5.74h-1.30zM104.20 167.4h1.30v5.74h-1.30zM114.10 167.4h1.30v5.74h-1.30zM118.50 167.4h1.30v5.74h-1.30zM126.21 178.3h1.33v5.74h-1.33zM87.70 183.8h1.30v5.74h-1.30zM102.00 183.8h1.30v5.74h-1.30zM104.20 183.8h1.30v5.74h-1.30zM106.40 210.9h1.30v5.74h-1.30zM117.40 210.9h1.30v5.74h-1.30zM126.21 210.9h1.33v5.74h-1.33zM85.50 216.4h1.30v5.74h-1.30zM109.70 216.4h1.30v5.74h-1.30zM115.20 216.4h1.30v5.74h-1.30zM110.80 221.8h1.30v5.74h-1.30zM92.10 232.7h1.30v5.74h-1.30zM113.00 232.7h1.30v5.74h-1.30zM126.21 254.4h1.33v5.74h-1.33zM86.60 259.9h1.30v5.74h-1.30zM89.90 259.9h1.30v5.74h-1.30zM88.80 265.3h1.30v5.74h-1.30zM92.10 265.3h1.30v5.74h-1.30zM121.80 276.2h2.40v5.74h-2.40zM93.20 292.5h1.30v5.74h-1.30zM115.20 292.5h1.30v5.74h-1.30zM119.60 292.5h1.30v5.74h-1.30zM87.70 303.4h1.30v5.74h-1.30zM93.20 303.4h1.30v5.74h-1.30zM115.20 303.4h1.30v5.74h-1.30zM119.60 303.4h1.30v5.74h-1.30zM106.40 308.8h1.30v5.74h-1.30zM116.30 308.8h1.30v5.74h-1.30zM121.80 308.8h1.30v5.74h-1.30zM113.00 314.2h1.30v5.74h-1.30zM104.20 325.1h1.30v5.74h-1.30zM115.20 325.1h1.30v5.74h-1.30zM117.40 325.1h1.30v5.74h-1.30zM104.20 330.6h1.30v5.74h-1.30zM106.40 330.6h1.30v5.74h-1.30zM117.40 330.6h2.40v5.74h-2.40zM126.21 330.6h1.33v5.74h-1.33zM87.70 336.0h1.30v5.74h-1.30zM114.10 336.0h1.30v5.74h-1.30zM102.00 341.4h1.30v5.74h-1.30zM102.00 346.9h1.30v5.74h-1.30zM119.60 346.9h1.30v5.74h-1.30zM111.90 357.8h1.30v5.74h-1.30zM109.70 363.2h1.30v5.74h-1.30zM122.90 363.2h1.30v5.74h-1.30zM122.90 368.6h1.30v5.74h-1.30zM108.60 374.1h1.30v5.74h-1.30zM113.00 374.1h1.30v5.74h-1.30zM89.90 379.5h1.30v5.74h-1.30zM91.00 384.9h1.30v5.74h-1.30zM96.50 384.9h1.30v5.74h-1.30zM111.90 384.9h1.30v5.74h-1.30zM88.80 390.4h1.30v5.74h-1.30zM106.40 390.4h1.30v5.74h-1.30zM88.80 395.8h1.30v5.74h-1.30zM94.30 395.8h1.30v5.74h-1.30zM96.50 395.8h1.30v5.74h-1.30zM103.10 395.8h1.30v5.74h-1.30zM102.00 406.7h1.30v5.74h-1.30zM99.80 412.1h2.40v5.74h-2.40zM104.20 412.1h1.30v5.74h-1.30zM102.00 417.6h1.30v5.74h-1.30zM104.20 417.6h1.30v5.74h-1.30zM117.40 417.6h1.30v5.74h-1.30zM126.21 417.6h1.33v5.74h-1.33zM124.00 423.0h1.30v5.74h-1.30zM89.90 428.4h1.30v5.74h-1.30zM94.30 428.4h2.40v5.74h-2.40zM109.70 428.4h1.30v5.74h-1.30zM115.20 428.4h1.30v5.74h-1.30zM88.80 433.9h1.30v5.74h-1.30zM92.10 433.9h2.40v5.74h-2.40zM92.10 439.3h1.30v5.74h-1.30zM108.60 439.3h1.30v5.74h-1.30zM92.10 444.8h1.30v5.74h-1.30zM124.00 444.8h1.30v5.74h-1.30zM89.90 450.2h1.30v5.74h-1.30zM106.40 450.2h1.30v5.74h-1.30zM109.70 450.2h1.30v5.74h-1.30zM111.90 450.2h1.30v5.74h-1.30zM120.70 461.1h1.30v5.74h-1.30zM124.00 461.1h1.30v5.74h-1.30zM121.80 466.5h1.30v5.74h-1.30zM99.80 471.9h1.30v5.74h-1.30zM104.20 471.9h1.30v5.74h-1.30zM110.80 471.9h1.30v5.74h-1.30zM111.90 477.4h1.30v5.74h-1.30zM113.00 482.8h1.30v5.74h-1.30zM99.80 488.2h1.30v5.74h-1.30zM110.80 488.2h2.40v5.74h-2.40zM114.10 488.2h1.30v5.74h-1.30zM118.50 488.2h1.30v5.74h-1.30zM109.70 493.7h1.30v5.74h-1.30zM117.40 493.7h1.30v5.74h-1.30zM100.90 504.6h1.30v5.74h-1.30z"/>
<path stroke="#00aaff" d="M131.5 81.7v2.94M136.6 81.7v2.94M137.9 87.1v2.94M136.6 92.6v2.94M146.5 92.6v2.94M161.6 92.6v2.94M132.7 98.0v2.94M152.9 98.0v2.94M143.5 119.8v2.94M159.8 119.8v2.94M165.3 119.8v2.94M188.7 119.8v2.94M145.0 130.6v2.94M163.4 136.1v2.94M198.5 136.1v2.94M136.6 141.5v2.94M135.3 174.1v2.94M136.6 174.1v2.94M191.0 190.4v2.94M191.0 201.3v2.94M179.6 217.6v2.94M171.2 223.1v2.94M137.9 228.5v2.94M143.5 228.5v2.94M136.6 239.4v2.94M134.0 244.8v2.94M136.6 244.8v2.94M137.9 244.8v2.94M161.6 244.8v2.94M145.0 250.2v2.94M203.7 250.2v2.94M137.9 255.7v2.94M140.7 266.6v2.94M179.6 266.6v2.94M193.5 272.0v2.94M203.7 272.0v2.94M206.4 272.0v2.94M132.7 277.4v2.94M177.4 277.4v2.94M137.9 288.3v2.94M136.6 293.8v2.94M132.7 299.2v2.94M203.7 299.2v2.94M134.0 326.4v2.94M149.6 326.4v2.94M154.5 326.4v2.94M135.3 331.8v2.94M140.7 331.8v2.94M201.1 331.8v2.94M206.4 331.8v2.94M134.0 359.0v2.94M203.7 359.0v2.94M148.1 364.4v2.94M165.3 375.3v2.94M136.6 386.2v2.94M137.9 386.2v2.94M201.1 386.2v2.94M206.4 386.2v2.94M201.1 397.1v2.94M152.9 402.5v2.94M203.7 407.9v2.94M145.0 413.4v2.94M135.3 424.2v2.94M137.9 424.2v2.94M145.0 429.7v2.94M206.4 429.7v2.94M143.5 440.6v2.94M132.7 456.9v2.94M143.5 473.2v2.94M206.4 484.1v2.94M140.7 489.5v2.94M203.7 494.9v2.94M186.3 500.4v2.94M134.0 505.8v2.94"/>
<path fill="#00aaff" stroke="none" d="M88.80 85.9h1.30v5.74h-1.30zM105.30 85.9h1.30v5.74h-1.30zM108.60 85.9h1.30v5.74h-1.30zM108.60 91.3h1.30v5.74h-1.30zM117.40 91.3h1.30v5.74h-1.30zM125.10 91.3h1.31v5.74h-1.31zM85.50 96.8h1.30v5.74h-1.30zM113.00 118.5h1.30v5.74h-1.30zM83.30 129.4h1.30v5.74h-1.30zM96.50 129.4h1.30v5.74h-1.30zM86.60 134.8h1.30v5.74h-1.30zM103.10 134.8h1.30v5.74h-1.30zM99.80 140.2h1.30v5.74h-1.30zM107.50 140.2h1.30v5.74h-1.30zM125.10 140.2h1.31v5.74h-1.31zM94.30 162.0h1.30v5.74h-1.30zM122.90 162.0h1.30v5.74h-1.30zM116.30 167.4h1.30v5.74h-1.30zM120.70 167.4h1.30v5.74h-1.30zM104.20 178.3h1.30v5.74h-1.30zM95.40 205.5h1.30v5.74h-1.30zM120.70 205.5h1.30v5.74h-1.30zM108.60 216.4h1.30v5.74h-1.30zM120.70 221.8h1.30v5.74h-1.30zM86.60 227.2h1.30v5.74h-1.30zM102.00 238.1h1.30v5.74h-1.30zM121.80 243.6h1.30v5.74h-1.30zM106.40 249.0h1.30v5.74h-1.30zM117.40 249.0h1.30v5.74h-1.30zM106.40 259.9h1.30v5.74h-1.30zM114.10 259.9h1.30v5.74h-1.30zM113.00 270.8h1.30v5.74h-1.30zM103.10 287.1h1.30v5.74h-1.30zM108.60 287.1h1.30v5.74h-1.30zM110.80 287.1h1.30v5.74h-1.30zM118.50 287.1h1.30v5.74h-1.30zM125.10 292.5h1.31v5.74h-1.31zM103.10 303.4h1.30v5.74h-1.30zM125.10 303.4h1.31v5.74h-1.31zM88.80 314.2h1.30v5.74h-1.30zM122.90 314.2h1.30v5.74h-1.30zM86.60 319.7h1.30v5.74h-1.30zM110.80 325.1h1.30v5.74h-1.30zM114.10 325.1h1.30v5.74h-1.30zM118.50 325.1h1.30v5.74h-1.30zM120.70 325.1h1.30v5.74h-1.30zM125.10 325.1h1.31v5.74h-1.31zM111.90 330.6h1.30v5.74h-1.30zM114.10 330.6h1.30v5.74h-1.30zM120.70 330.6h1.30v5.74h-1.30zM111.90 336.0h1.30v5.74h-1.30zM85.50 341.4h1.30v5.74h-1.30zM107.50 341.4h1.30v5.74h-1.30zM86.60 346.9h2.40v5.74h-2.40zM85.50 352.3h1.30v5.74h-1.30zM93.20 352.3h1.30v5.74h-1.30zM119.60 352.3h1.30v5.74h-1.30zM126.21 352.3h1.33v5.74h-1.33zM104.20 357.8h1.30v5.74h-1.30zM86.60 363.2h1.30v5.74h-1.30zM95.40 363.2h2.40v5.74h-2.40zM108.60 368.6h2.40v5.74h-2.40zM119.60 368.6h1.30v5.74h-1.30zM103.10 374.1h1.30v5.74h-1.30zM118.50 374.1h1.30v5.74h-1.30zM122.90 374.1h1.30v5.74h-1.30zM125.10 374.1h2.44v5.74h-2.44zM109.70 379.5h1.30v5.74h-1.30zM124.00 379.5h1.30v5.74h-1.30zM113.00 384.9h1.30v5.74h-1.30zM126.21 384.9h1.33v5.74h-1.33zM120.70 401.2h1.30v5.74h-1.30zM88.80 406.7h1.30v5.74h-1.30zM106.40 406.7h1.30v5.74h-1.30zM111.90 417.6h1.30v5.74h-1.30zM115.20 417.6h1.30v5.74h-1.30zM120.70 417.6h1.30v5.74h-1.30zM114.10 423.0h1.30v5.74h-1.30zM88.80 428.4h1.30v5.74h-1.30zM121.80 428.4h1.30v5.74h-1.30zM114.10 433.9h1.30v5.74h-1.30zM125.10 433.9h1.31v5.74h-1.31zM96.50 439.3h1.30v5.74h-1.30zM105.30 439.3h1.30v5.74h-1.30zM106.40 444.8h1.30v5.74h-1.30zM121.80 444.8h1.30v5.74h-1.30zM126.21 450.2h1.33v5.74h-1.33zM119.60 455.6h1.30v5.74h-1.30zM107.50 461.1h1.30v5.74h-1.30zM126.21 461.1h1.33v5.74h-1.33zM88.80 471.9h1.30v5.74h-1.30zM91.00 471.9h1.30v5.74h-1.30zM114.10 471.9h1.30v5.74h-1.30zM117.40 471.9h1.30v5.74h-1.30zM88.80 482.8h1.30v5.74h-1.30zM92.10 488.2h1.30v5.74h-1.30zM108.60 488.2h1.30v5.74h-1.30zM106.40 499.1h1.30v5.74h-1.30zM113.00 499.1h1.30v5.74h-1.30zM117.40 499.1h1.30v5.74h-1.30zM115.20 504.6h1.30v5.74h-1.30z"/>
<path stroke="#00d4ff" d="M191.0 81.7v2.94M135.3 87.1v2.94M134.0 92.6v2.94M135.3 98.0v2.94M136.6 98.0v2.94M148.1 98.0v2.94M191.0 98.0v2.94M177.4 119.8v2.94M135.3 125.2v2.94M143.5 125.2v2.94M175.3 125.2v2.94M188.7 125.2v2.94M196.0 125.2v2.94M151.2 130.6v2.94M169.2 130.6v2.94M135.3 136.1v2.94M165.3 136.1v2.94M146.5 141.5v2.94M181.8 141.5v2.94M134.0 179.6v2.94M159.8 201.3v2.94M134.0 206.8v2.94M137.9 206.8v2.94M134.0 223.1v2.94M140.7 223.1v2.94M171.2 228.5v2.94M143.5 233.9v2.94M179.6 233.9v2.94M134.0 239.4v2.94M137.9 239.4v2.94M139.3 239.4v2.94M171.2 244.8v2.94M145.0 272.0v2.94M146.5 272.0v2.94M134.0 282.9v2.94M135.3 282.9v2.94M137.9 282.9v2.94M131.5 288.3v2.94M132.7 288.3v2.94M134.0 288.3v2.94M136.6 288.3v2.94M139.3 288.3v2.94M132.7 293.8v2.94M136.6 304.6v2.94M154.5 304.6v2.94M146.5 326.4v2.94M193.5 331.8v2.94M136.6 337.2v2.94M136.6 348.1v2.94M146.5 348.1v2.94M131.5 353.6v2.94M143.5 369.9v2.94M171.2 375.3v2.94M142.1 391.6v2.94M145.0 397.1v2.94M143.5 402.5v2.94M132.7 429.7v2.94M161.6 435.1v2.94M134.0 467.8v2.94M137.9 473.2v2.94M135.3 489.5v2.94M145.0 494.9v2.94"/>
<path fill="#00d4ff" stroke="none" d="M94.30 80.4h1.30v5.74h-1.30zM99.80 80.4h1.30v5.74h-1.30zM117.40 80.4h1.30v5.74h-1.30zM126.21 80.4h1.33v5.74h-1.33zM93.20 91.3h1.30v5.74h-1.30zM82.20 96.8h1.30v5.74h-1.30zM92.10 96.8h1.30v5.74h-1.30zM99.80 96.8h1.30v5.74h-1.30zM107.50 96.8h1.30v5.74h-1.30zM91.00 118.5h1.30v5.74h-1.30zM96.50 118.5h1.30v5.74h-1.30zM105.30 118.5h1.30v5.74h-1.30zM107.50 118.5h1.30v5.74h-1.30zM95.40 123.9h1.30v5.74h-1.30zM106.40 123.9h2.40v5.74h-2.40zM122.90 123.9h1.30v5.74h-1.30zM88.80 134.8h1.30v5.74h-1.30zM91.00 134.8h1.30v5.74h-1.30zM95.40 134.8h1.30v5.74h-1.30zM99.80 134.8h1.30v5.74h-1.30zM111.90 134.8h1.30v5.74h-1.30zM115.20 134.8h1.30v5.74h-1.30zM88.80 140.2h1.30v5.74h-1.30zM103.10 140.2h1.30v5.74h-1.30zM109.70 162.0h1.30v5.74h-1.30zM96.50 167.4h1.30v5.74h-1.30zM103.10 172.9h1.30v5.74h-1.30zM108.60 172.9h1.30v5.74h-1.30zM114.10 172.9h2.40v5.74h-2.40zM122.90 172.9h1.30v5.74h-1.30zM94.30 178.3h1.30v5.74h-1.30zM103.10 178.3h1.30v5.74h-1.30zM82.20 183.8h2.40v5.74h-2.40zM89.90 210.9h1.30v5.74h-1.30zM120.70 210.9h1.30v5.74h-1.30zM103.10 216.4h1.30v5.74h-1.30zM124.00 216.4h1.30v5.74h-1.30zM89.90 221.8h1.30v5.74h-1.30zM103.10 221.8h1.30v5.74h-1.30zM114.10 221.8h1.30v5.74h-1.30zM100.90 227.2h1.30v5.74h-1.30zM103.10 227.2h1.30v5.74h-1.30zM106.40 227.2h1.30v5.74h-1.30zM85.50 232.7h1.30v5.74h-1.30zM93.20 232.7h1.30v5.74h-1.30zM108.60 232.7h1.30v5.74h-1.30zM125.10 232.7h1.31v5.74h-1.31zM100.90 238.1h1.30v5.74h-1.30zM114.10 238.1h1.30v5.74h-1.30zM104.20 243.6h1.30v5.74h-1.30zM109.70 243.6h1.30v5.74h-1.30zM111.90 243.6h1.30v5.74h-1.30zM118.50 243.6h2.40v5.74h-2.40zM92.10 249.0h1.30v5.74h-1.30zM115.20 249.0h1.30v5.74h-1.30zM118.50 249.0h1.30v5.74h-1.30zM88.80 254.4h1.30v5.74h-1.30zM113.00 265.3h1.30v5.74h-1.30zM100.90 270.8h1.30v5.74h-1.30zM122.90 270.8h1.30v5.74h-1.30zM100.90 281.6h1.30v5.74h-1.30zM105.30 281.6h1.30v5.74h-1.30zM92.10 292.5h1.30v5.74h-1.30zM96.50 292.5h1.30v5.74h-1.30zM99.80 292.5h1.30v5.74h-1.30zM86.60 297.9h1.30v5.74h-1.30zM118.50 303.4h1.30v5.74h-1.30zM84.40 308.8h1.30v5.74h-1.30zM113.00 308.8h1.30v5.74h-1.30zM125.10 308.8h1.31v5.74h-1.31zM84.40 314.2h1.30v5.74h-1.30zM91.00 314.2h1.30v5.74h-1.30zM106.40 314.2h1.30v5.74h-1.30zM109.70 325.1h1.30v5.74h-1.30zM113.00 325.1h1.30v5.74h-1.30zM109.70 330.6h1.30v5.74h-1.30zM108.60 336.0h1.30v5.74h-1.30zM84.40 341.4h1.30v5.74h-1.30zM86.60 341.4h2.40v5.74h-2.40zM92.10 341.4h1.30v5.74h-1.30zM99.80 341.4h1.30v5.74h-1.30zM109.70 346.9h1.30v5.74h-1.30zM91.00 352.3h1.30v5.74h-1.30zM95.40 352.3h1.30v5.74h-1.30zM104.20 352.3h1.30v5.74h-1.30zM115.20 357.8h1.30v5.74h-1.30zM89.90 363.2h1.30v5.74h-1.30zM92.10 363.2h1.30v5.74h-1.30zM115.20 363.2h1.30v5.74h-1.30zM100.90 368.6h2.40v5.74h-2.40zM110.80 368.6h1.30v5.74h-1.30zM118.50 368.6h1.30v5.74h-1.30zM120.70 368.6h1.30v5.74h-1.30zM100.90 374.1h1.30v5.74h-1.30zM109.70 374.1h1.30v5.74h-1.30zM117.40 374.1h1.30v5.74h-1.30zM120.70 374.1h1.30v5.74h-1.30zM85.50 379.5h2.40v5.74h-2.40zM88.80 384.9h1.30v5.74h-1.30zM120.70 384.9h1.30v5.74h-1.30zM89.90 395.8h1.30v5.74h-1.30zM99.80 395.8h1.30v5.74h-1.30zM89.90 401.2h1.30v5.74h-1.30zM93.20 401.2h1.30v5.74h-1.30zM95.40 401.2h1.30v5.74h-1.30zM99.80 401.2h1.30v5.74h-1.30zM103.10 401.2h1.30v5.74h-1.30zM106.40 401.2h1.30v5.74h-1.30zM95.40 406.7h1.30v5.74h-1.30zM99.80 406.7h1.30v5.74h-1.30zM110.80 417.6h1.30v5.74h-1.30zM125.10 417.6h1.31v5.74h-1.31zM113.00 423.0h1.30v5.74h-1.30zM107.50 428.4h1.30v5.74h-1.30zM117.40 428.4h1.30v5.74h-1.30zM118.50 439.3h1.30v5.74h-1.30zM94.30 444.8h1.30v5.74h-1.30zM100.90 444.8h1.30v5.74h-1.30zM91.00 450.2h1.30v5.74h-1.30zM110.80 450.2h1.30v5.74h-1.30zM99.80 461.1h2.40v5.74h-2.40zM104.20 461.1h1.30v5.74h-1.30zM111.90 461.1h1.30v5.74h-1.30zM119.60 461.1h1.30v5.74h-1.30zM124.00 466.5h1.30v5.74h-1.30zM93.20 471.9h2.40v5.74h-2.40zM111.90 471.9h1.30v5.74h-1.30zM105.30 477.4h1.30v5.74h-1.30zM103.10 482.8h1.30v5.74h-1.30zM114.10 482.8h1.30v5.74h-1.30zM96.50 488.2h1.30v5.74h-1.30zM115.20 493.7h1.30v5.74h-1.30zM122.90 493.7h1.30v5.74h-1.30zM107.50 499.1h1.30v5.74h-1.30zM120.70 504.6h1.30v5.74h-1.30zM124.00 504.6h1.30v5.74h-1.30z"/>
<path stroke="#00ffff" d="M193.5 92.6v2.94M142.1 119.8v2.94M196.0 119.8v2.94M163.4 125.2v2.94M175.3 130.6v2.94M151.2 136.1v2.94M181.8 136.1v2.94M140.7 174.1v2.94M134.0 185.0v2.94M196.0 185.0v2.94M198.5 185.0v2.94M136.6 217.6v2.94M145.0 233.9v2.94M131.5 239.4v2.94M132.7 239.4v2.94M198.5 239.4v2.94M132.7 244.8v2.94M139.3 244.8v2.94M131.5 255.7v2.94M196.0 261.1v2.94M131.5 277.4v2.94M198.5 277.4v2.94M131.5 282.9v2.94M132.7 282.9v2.94M136.6 282.9v2.94M198.5 288.3v2.94M196.0 304.6v2.94M198.5 304.6v2.94M198.5 348.1v2.94M140.7 353.6v2.94M148.1 353.6v2.94M152.9 353.6v2.94M196.0 353.6v2.94M134.0 369.9v2.94M198.5 397.1v2.94M198.5 402.5v2.94M196.0 407.9v2.94M196.0 424.2v2.94M196.0 456.9v2.94M132.7 473.2v2.94M146.5 473.2v2.94M148.1 473.2v2.94M179.6 478.6v2.94M196.0 484.1v2.94M158.0 489.5v2.94M198.5 489.5v2.94"/>
<path fill="#00ffff" stroke="none" d="M84.40 75.4h1.30v4.84h-1.30zM87.70 75.4h1.30v4.84h-1.30zM95.40 75.4h1.30v4.84h-1.30zM103.10 75.4h1.30v4.84h-1.30zM105.30 75.4h1.30v4.84h-1.30zM134.61 75.4h2.82v4.84h-2.82zM139.96 75.4h1.61v4.84h-1.61zM144.27 75.4h1.69v4.84h-1.69zM148.84 75.4h1.79v4.84h-1.79zM153.70 75.4h1.88v4.84h-1.88zM180.65 75.4h2.43v4.84h-2.43zM185.15 75.4h2.52v4.84h-2.52zM87.70 80.4h1.30v5.74h-1.30zM118.50 80.4h1.30v5.74h-1.30zM107.50 85.9h1.30v5.74h-1.30zM119.60 85.9h1.30v5.74h-1.30zM85.50 91.3h1.30v5.74h-1.30zM107.50 91.3h1.30v5.74h-1.30zM119.60 96.8h1.30v5.74h-1.30zM88.80 118.5h1.30v5.74h-1.30zM94.30 118.5h1.30v5.74h-1.30zM114.10 118.5h1.30v5.74h-1.30zM125.10 118.5h1.31v5.74h-1.31zM87.70 123.9h1.30v5.74h-1.30zM105.30 123.9h1.30v5.74h-1.30zM110.80 123.9h1.30v5.74h-1.30zM125.10 123.9h1.31v5.74h-1.31zM86.60 129.4h1.30v5.74h-1.30zM94.30 129.4h2.40v5.74h-2.40zM110.80 134.8h1.30v5.74h-1.30zM113.00 162.0h1.30v5.74h-1.30zM111.90 167.4h1.30v5.74h-1.30zM82.20 172.9h1.30v5.74h-1.30zM93.20 178.3h1.30v5.74h-1.30zM92.10 183.8h2.40v5.74h-2.40zM96.50 216.4h1.30v5.74h-1.30zM91.00 221.8h1.30v5.74h-1.30zM106.40 232.7h2.40v5.74h-2.40zM118.50 232.7h1.30v5.74h-1.30zM109.70 238.1h1.30v5.74h-1.30zM116.30 238.1h1.30v5.74h-1.30zM100.90 243.6h1.30v5.74h-1.30zM116.30 243.6h1.30v5.74h-1.30zM94.30 249.0h1.30v5.74h-1.30zM107.50 249.0h1.30v5.74h-1.30zM125.10 249.0h1.31v5.74h-1.31zM117.40 254.4h1.30v5.74h-1.30zM95.40 259.9h1.30v5.74h-1.30zM108.60 259.9h1.30v5.74h-1.30zM87.70 265.3h1.30v5.74h-1.30zM105.30 265.3h2.40v5.74h-2.40zM117.40 270.8h1.30v5.74h-1.30zM107.50 276.2h1.30v5.74h-1.30zM113.00 276.2h1.30v5.74h-1.30zM104.20 281.6h1.30v5.74h-1.30zM110.80 281.6h1.30v5.74h-1.30zM116.30 281.6h1.30v5.74h-1.30zM122.90 281.6h1.30v5.74h-1.30zM99.80 287.1h1.30v5.74h-1.30zM117.40 287.1h1.30v5.74h-1.30zM88.80 292.5h1.30v5.74h-1.30zM117.40 292.5h1.30v5.74h-1.30zM120.70 292.5h1.30v5.74h-1.30zM122.90 292.5h1.30v5.74h-1.30zM85.50 308.8h1.30v5.74h-1.30zM93.20 308.8h2.40v5.74h-2.40zM96.50 308.8h1.30v5.74h-1.30zM86.60 314.2h1.30v5.74h-1.30zM93.20 314.2h2.40v5.74h-2.40zM108.60 314.2h1.30v5.74h-1.30zM88.80 319.7h1.30v5.74h-1.30zM96.50 319.7h1.30v5.74h-1.30zM115.20 319.7h1.30v5.74h-1.30zM122.90 319.7h1.30v5.74h-1.30zM100.90 330.6h1.30v5.74h-1.30zM89.90 336.0h1.30v5.74h-1.30zM92.10 336.0h1.30v5.74h-1.30zM125.10 336.0h1.31v5.74h-1.31zM105.30 341.4h1.30v5.74h-1.30zM119.60 341.4h1.30v5.74h-1.30zM99.80 346.9h1.30v5.74h-1.30zM113.00 346.9h1.30v5.74h-1.30zM89.90 352.3h1.30v5.74h-1.30zM102.00 352.3h1.30v5.74h-1.30zM105.30 352.3h1.30v5.74h-1.30zM109.70 352.3h1.30v5.74h-1.30zM85.50 357.8h1.30v5.74h-1.30zM99.80 357.8h1.30v5.74h-1.30zM91.00 363.2h1.30v5.74h-1.30zM114.10 363.2h1.30v5.74h-1.30zM120.70 363.2h1.30v5.74h-1.30zM124.00 363.2h1.30v5.74h-1.30zM107.50 368.6h1.30v5.74h-1.30zM104.20 374.1h1.30v5.74h-1.30zM124.00 374.1h1.30v5.74h-1.30zM103.10 379.5h1.30v5.74h-1.30zM103.10 384.9h1.30v5.74h-1.30zM89.90 390.4h1.30v5.74h-1.30zM93.20 390.4h2.40v5.74h-2.40zM111.90 390.4h1.30v5.74h-1.30zM114.10 390.4h1.30v5.74h-1.30zM95.40 395.8h1.30v5.74h-1.30zM118.50 395.8h1.30v5.74h-1.30zM92.10 406.7h1.30v5.74h-1.30zM118.50 406.7h1.30v5.74h-1.30zM103.10 412.1h1.30v5.74h-1.30zM109.70 417.6h1.30v5.74h-1.30zM122.90 417.6h1.30v5.74h-1.30zM89.90 439.3h1.30v5.74h-1.30zM124.00 439.3h1.30v5.74h-1.30zM100.90 450.2h1.30v5.74h-1.30zM114.10 450.2h1.30v5.74h-1.30zM118.50 466.5h1.30v5.74h-1.30zM122.90 466.5h1.30v5.74h-1.30zM125.10 466.5h1.31v5.74h-1.31zM100.90 471.9h1.30v5.74h-1.30zM119.60 471.9h1.30v5.74h-1.30zM126.21 471.9h1.33v5.74h-1.33zM114.10 477.4h1.30v5.74h-1.30zM108.60 482.8h1.30v5.74h-1.30zM118.50 482.8h1.30v5.74h-1.30zM121.80 482.8h1.30v5.74h-1.30zM125.10 482.8h1.31v5.74h-1.31zM95.40 488.2h1.30v5.74h-1.30zM105.30 488.2h1.30v5.74h-1.30zM120.70 488.2h1.30v5.74h-1.30zM92.10 493.7h1.30v5.74h-1.30zM111.90 493.7h1.30v5.74h-1.30zM124.00 493.7h1.30v5.74h-1.30zM126.21 493.7h1.33v5.74h-1.33zM125.10 499.1h2.44v5.74h-2.44zM122.90 504.6h1.30v5.74h-1.30z"/>
<path stroke="#00ffea" d="M152.9 81.7v2.94M179.6 81.7v2.94M131.5 87.1v2.94M139.3 87.1v2.94M145.0 87.1v2.94M148.1 87.1v2.94M193.5 87.1v2.94M196.0 87.1v2.94M146.5 98.0v2.94M151.2 98.0v2.94M179.6 98.0v2.94M137.9 119.8v2.94M146.5 119.8v2.94M193.5 130.6v2.94M139.3 136.1v2.94M149.6 136.1v2.94M158.0 136.1v2.94M177.4 136.1v2.94M198.5 206.8v2.94M196.0 217.6v2.94M196.0 223.1v2.94M198.5 223.1v2.94M196.0 228.5v2.94M198.5 228.5v2.94M196.0 233.9v2.94M135.3 239.4v2.94M131.5 244.8v2.94M135.3 244.8v2.94M196.0 244.8v2.94M198.5 244.8v2.94M196.0 250.2v2.94M198.5 250.2v2.94M198.5 255.7v2.94M198.5 261.1v2.94M196.0 266.6v2.94M196.0 272.0v2.94M139.3 282.9v2.94M196.0 282.9v2.94M135.3 288.3v2.94M196.0 288.3v2.94M196.0 293.8v2.94M196.0 310.1v2.94M198.5 310.1v2.94M196.0 320.9v2.94M198.5 331.8v2.94M198.5 342.7v2.94M196.0 348.1v2.94M198.5 364.4v2.94M196.0 369.9v2.94M196.0 380.8v2.94M198.5 380.8v2.94M198.5 386.2v2.94M196.0 391.6v2.94M198.5 407.9v2.94M198.5 413.4v2.94M198.5 418.8v2.94M198.5 424.2v2.94M198.5 429.7v2.94M196.0 435.1v2.94M198.5 435.1v2.94M196.0 446.0v2.94M198.5 446.0v2.94M196.0 451.4v2.94M198.5 462.3v2.94M198.5 467.8v2.94M198.5 473.2v2.94M196.0 494.9v2.94M198.5 494.9v2.94"/>
<path fill="#00ffea" stroke="none" d="M80.00 75.4h1.30v4.84h-1.30zM89.90 75.4h1.30v4.84h-1.30zM100.90 75.4h1.30v4.84h-1.30zM104.20 75.4h1.30v4.84h-1.30zM126.21 75.4h1.33v4.84h-1.33zM142.81 75.4h1.66v4.84h-1.66zM176.32 75.4h2.34v4.84h-2.34zM86.60 80.4h1.30v5.74h-1.30zM92.10 85.9h1.30v5.74h-1.30zM96.50 85.9h1.30v5.74h-1.30zM104.20 91.3h1.30v5.74h-1.30zM126.21 91.3h1.33v5.74h-1.33zM100.90 96.8h1.30v5.74h-1.30zM92.10 118.5h1.30v5.74h-1.30zM94.30 123.9h1.30v5.74h-1.30zM85.50 129.4h1.30v5.74h-1.30zM92.10 129.4h1.30v5.74h-1.30zM110.80 129.4h1.30v5.74h-1.30zM125.10 129.4h1.31v5.74h-1.31zM91.00 140.2h1.30v5.74h-1.30zM83.30 167.4h1.30v5.74h-1.30zM93.20 167.4h1.30v5.74h-1.30zM122.90 167.4h1.30v5.74h-1.30zM83.30 172.9h1.30v5.74h-1.30zM88.80 172.9h1.30v5.74h-1.30zM111.90 172.9h1.30v5.74h-1.30zM87.70 205.5h1.30v5.74h-1.30zM103.10 210.9h1.30v5.74h-1.30zM109.70 210.9h1.30v5.74h-1.30zM122.90 210.9h1.30v5.74h-1.30zM93.20 216.4h1.30v5.74h-1.30zM104.20 216.4h1.30v5.74h-1.30zM84.40 221.8h1.30v5.74h-1.30zM86.60 221.8h1.30v5.74h-1.30zM108.60 221.8h1.30v5.74h-1.30zM122.90 221.8h1.30v5.74h-1.30zM117.40 227.2h1.30v5.74h-1.30zM124.00 227.2h1.30v5.74h-1.30zM106.40 238.1h1.30v5.74h-1.30zM108.60 238.1h1.30v5.74h-1.30zM111.90 238.1h1.30v5.74h-1.30zM115.20 238.1h1.30v5.74h-1.30zM105.30 243.6h1.30v5.74h-1.30zM108.60 243.6h1.30v5.74h-1.30zM113.00 243.6h1.30v5.74h-1.30zM124.00 243.6h1.30v5.74h-1.30zM126.21 243.6h1.33v5.74h-1.33zM84.40 249.0h1.30v5.74h-1.30zM95.40 254.4h1.30v5.74h-1.30zM84.40 259.9h1.30v5.74h-1.30zM92.10 259.9h1.30v5.74h-1.30zM117.40 259.9h1.30v5.74h-1.30zM109.70 265.3h1.30v5.74h-1.30zM117.40 265.3h1.30v5.74h-1.30zM103.10 270.8h1.30v5.74h-1.30zM109.70 270.8h1.30v5.74h-1.30zM103.10 281.6h1.30v5.74h-1.30zM105.30 287.1h1.30v5.74h-1.30zM116.30 287.1h1.30v5.74h-1.30zM122.90 287.1h1.30v5.74h-1.30zM102.00 292.5h1.30v5.74h-1.30zM91.00 297.9h3.50v5.74h-3.50zM104.20 297.9h1.30v5.74h-1.30zM111.90 297.9h1.30v5.74h-1.30zM120.70 297.9h1.30v5.74h-1.30zM121.80 303.4h1.30v5.74h-1.30zM91.00 308.8h1.30v5.74h-1.30zM95.40 308.8h1.30v5.74h-1.30zM103.10 308.8h1.30v5.74h-1.30zM110.80 308.8h1.30v5.74h-1.30zM103.10 314.2h1.30v5.74h-1.30zM110.80 314.2h1.30v5.74h-1.30zM115.20 314.2h1.30v5.74h-1.30zM92.10 319.7h1.30v5.74h-1.30zM103.10 319.7h1.30v5.74h-1.30zM109.70 319.7h1.30v5.74h-1.30zM119.60 325.1h1.30v5.74h-1.30zM121.80 325.1h1.30v5.74h-1.30zM110.80 330.6h1.30v5.74h-1.30zM116.30 330.6h1.30v5.74h-1.30zM121.80 330.6h1.30v5.74h-1.30zM125.10 330.6h1.31v5.74h-1.31zM122.90 336.0h1.30v5.74h-1.30zM108.60 341.4h1.30v5.74h-1.30zM122.90 341.4h3.51v5.74h-3.51zM95.40 346.9h1.30v5.74h-1.30zM124.00 346.9h1.30v5.74h-1.30zM84.40 357.8h1.30v5.74h-1.30zM91.00 357.8h1.30v5.74h-1.30zM96.50 357.8h1.30v5.74h-1.30zM102.00 357.8h1.30v5.74h-1.30zM124.00 357.8h2.41v5.74h-2.41zM119.60 363.2h1.30v5.74h-1.30zM99.80 368.6h1.30v5.74h-1.30zM125.10 368.6h2.44v5.74h-2.44zM106.40 374.1h1.30v5.74h-1.30zM110.80 374.1h1.30v5.74h-1.30zM102.00 379.5h1.30v5.74h-1.30zM89.90 384.9h1.30v5.74h-1.30zM104.20 384.9h1.30v5.74h-1.30zM125.10 384.9h1.31v5.74h-1.31zM107.50 390.4h1.30v5.74h-1.30zM104.20 395.8h1.30v5.74h-1.30zM111.90 395.8h1.30v5.74h-1.30zM126.21 395.8h1.33v5.74h-1.33zM118.50 417.6h1.30v5.74h-1.30zM102.00 423.0h1.30v5.74h-1.30zM109.70 423.0h1.30v5.74h-1.30zM96.50 428.4h1.30v5.74h-1.30zM116.30 428.4h1.30v5.74h-1.30zM96.50 433.9h1.30v5.74h-1.30zM106.40 433.9h1.30v5.74h-1.30zM110.80 433.9h1.30v5.74h-1.30zM91.00 439.3h1.30v5.74h-1.30zM95.40 439.3h1.30v5.74h-1.30zM106.40 439.3h1.30v5.74h-1.30zM95.40 444.8h2.40v5.74h-2.40zM114.10 444.8h1.30v5.74h-1.30zM108.60 450.2h1.30v5.74h-1.30zM100.90 455.6h1.30v5.74h-1.30zM126.21 455.6h1.33v5.74h-1.33zM104.20 466.5h1.30v5.74h-1.30zM109.70 466.5h1.30v5.74h-1.30zM120.70 466.5h1.30v5.74h-1.30zM118.50 471.9h1.30v5.74h-1.30zM91.00 477.4h1.30v5.74h-1.30zM93.20 477.4h1.30v5.74h-1.30zM91.00 482.8h1.30v5.74h-1.30zM105.30 482.8h1.30v5.74h-1.30zM89.90 488.2h1.30v5.74h-1.30zM119.60 499.1h1.30v5.74h-1.30zM114.10 504.6h1.30v5.74h-1.30z"/>
<path stroke="#00ffd4" d="M206.4 81.7v2.94M145.0 98.0v2.94M193.5 98.0v2.94M186.3 119.8v2.94M132.7 136.1v2.94M137.9 136.1v2.94M188.7 141.5v2.94M196.0 201.3v2.94M196.0 206.8v2.94M196.0 212.2v2.94M198.5 212.2v2.94M198.5 217.6v2.94M198.5 266.6v2.94M198.5 272.0v2.94M196.0 277.4v2.94M198.5 282.9v2.94M198.5 293.8v2.94M196.0 299.2v2.94M198.5 299.2v2.94M196.0 315.5v2.94M198.5 315.5v2.94M198.5 320.9v2.94M196.0 326.4v2.94M198.5 326.4v2.94M196.0 331.8v2.94M196.0 337.2v2.94M198.5 337.2v2.94M198.5 353.6v2.94M198.5 359.0v2.94M196.0 364.4v2.94M198.5 369.9v2.94M196.0 375.3v2.94M198.5 375.3v2.94M196.0 386.2v2.94M198.5 391.6v2.94M196.0 397.1v2.94M196.0 413.4v2.94M196.0 418.8v2.94M196.0 429.7v2.94M196.0 440.6v2.94M198.5 451.4v2.94M198.5 456.9v2.94M196.0 462.3v2.94M196.0 467.8v2.94M198.5 478.6v2.94M198.5 484.1v2.94M196.0 489.5v2.94M196.0 500.4v2.94M198.5 500.4v2.94M196.0 505.8v2.94M198.5 505.8v2.94"/>
<path fill="#00ffd4" stroke="none" d="M82.20 75.4h1.30v4.84h-1.30zM91.00 75.4h1.30v4.84h-1.30zM106.40 75.4h1.30v4.84h-1.30zM110.80 75.4h1.30v4.84h-1.30zM114.10 75.4h2.40v4.84h-2.40zM141.37 75.4h1.64v4.84h-1.64zM155.39 75.4h1.92v4.84h-1.92zM111.90 80.4h1.30v5.74h-1.30zM99.80 85.9h1.30v5.74h-1.30zM150.43 85.9h1.82v5.74h-1.82zM92.10 91.3h1.30v5.74h-1.30zM81.10 96.8h1.30v5.74h-1.30zM93.20 96.8h1.30v5.74h-1.30zM108.60 96.8h1.30v5.74h-1.30zM87.70 118.5h1.30v5.74h-1.30zM95.40 118.5h1.30v5.74h-1.30zM88.80 123.9h1.30v5.74h-1.30zM88.80 129.4h1.30v5.74h-1.30zM126.21 134.8h1.33v5.74h-1.33zM87.70 140.2h1.30v5.74h-1.30zM109.70 140.2h1.30v5.74h-1.30zM92.10 162.0h1.30v5.74h-1.30zM116.30 162.0h1.30v5.74h-1.30zM80.00 172.9h1.30v5.74h-1.30zM94.30 172.9h1.30v5.74h-1.30zM82.20 178.3h1.30v5.74h-1.30zM120.70 183.8h1.30v5.74h-1.30zM102.00 205.5h1.30v5.74h-1.30zM108.60 210.9h1.30v5.74h-1.30zM124.00 221.8h1.30v5.74h-1.30zM85.50 227.2h1.30v5.74h-1.30zM120.70 227.2h1.30v5.74h-1.30zM117.40 232.7h1.30v5.74h-1.30zM122.90 232.7h1.30v5.74h-1.30zM99.80 238.1h1.30v5.74h-1.30zM104.20 238.1h1.30v5.74h-1.30zM119.60 238.1h2.40v5.74h-2.40zM122.90 238.1h1.30v5.74h-1.30zM125.10 238.1h1.31v5.74h-1.31zM106.40 243.6h2.40v5.74h-2.40zM120.70 243.6h1.30v5.74h-1.30zM95.40 249.0h1.30v5.74h-1.30zM114.10 249.0h1.30v5.74h-1.30zM87.70 254.4h1.30v5.74h-1.30zM108.60 254.4h1.30v5.74h-1.30zM91.00 265.3h1.30v5.74h-1.30zM107.50 270.8h1.30v5.74h-1.30zM109.70 276.2h1.30v5.74h-1.30zM99.80 281.6h1.30v5.74h-1.30zM102.00 281.6h1.30v5.74h-1.30zM114.10 281.6h1.30v5.74h-1.30zM117.40 281.6h1.30v5.74h-1.30zM119.60 281.6h1.30v5.74h-1.30zM121.80 281.6h1.30v5.74h-1.30zM126.21 281.6h1.33v5.74h-1.33zM100.90 287.1h1.30v5.74h-1.30zM104.20 287.1h1.30v5.74h-1.30zM109.70 287.1h1.30v5.74h-1.30zM121.80 287.1h1.30v5.74h-1.30zM125.10 287.1h1.31v5.74h-1.31zM103.10 292.5h1.30v5.74h-1.30zM89.90 297.9h1.30v5.74h-1.30zM95.40 297.9h1.30v5.74h-1.30zM83.30 303.4h1.30v5.74h-1.30zM91.00 303.4h1.30v5.74h-1.30zM102.00 303.4h1.30v5.74h-1.30zM87.70 308.8h1.30v5.74h-1.30zM89.90 314.2h1.30v5.74h-1.30zM96.50 314.2h1.30v5.74h-1.30zM84.40 319.7h1.30v5.74h-1.30zM113.00 319.7h1.30v5.74h-1.30zM99.80 325.1h1.30v5.74h-1.30zM108.60 325.1h1.30v5.74h-1.30zM105.30 330.6h1.30v5.74h-1.30zM107.50 330.6h1.30v5.74h-1.30zM84.40 336.0h1.30v5.74h-1.30zM95.40 336.0h2.40v5.74h-2.40zM120.70 336.0h1.30v5.74h-1.30zM124.00 336.0h1.30v5.74h-1.30zM88.80 341.4h1.30v5.74h-1.30zM126.21 341.4h1.33v5.74h-1.33zM81.10 346.9h1.30v5.74h-1.30zM105.30 346.9h1.30v5.74h-1.30zM84.40 352.3h1.30v5.74h-1.30zM96.50 352.3h1.30v5.74h-1.30zM89.90 357.8h1.30v5.74h-1.30zM109.70 357.8h1.30v5.74h-1.30zM84.40 363.2h2.40v5.74h-2.40zM116.30 379.5h1.30v5.74h-1.30zM99.80 384.9h1.30v5.74h-1.30zM92.10 395.8h1.30v5.74h-1.30zM118.50 401.2h1.30v5.74h-1.30zM115.20 412.1h1.30v5.74h-1.30zM116.30 423.0h1.30v5.74h-1.30zM91.00 428.4h1.30v5.74h-1.30zM99.80 433.9h1.30v5.74h-1.30zM99.80 439.3h1.30v5.74h-1.30zM89.90 444.8h2.40v5.74h-2.40zM93.20 444.8h1.30v5.74h-1.30zM117.40 444.8h1.30v5.74h-1.30zM88.80 450.2h1.30v5.74h-1.30zM94.30 450.2h1.30v5.74h-1.30zM96.50 450.2h1.30v5.74h-1.30zM117.40 450.2h1.30v5.74h-1.30zM120.70 455.6h1.30v5.74h-1.30zM116.30 461.1h1.30v5.74h-1.30zM122.90 461.1h1.30v5.74h-1.30zM125.10 461.1h1.31v5.74h-1.31zM107.50 471.9h1.30v5.74h-1.30zM120.70 471.9h1.30v5.74h-1.30zM124.00 471.9h1.30v5.74h-1.30zM89.90 477.4h1.30v5.74h-1.30zM92.10 477.4h1.30v5.74h-1.30zM100.90 477.4h1.30v5.74h-1.30zM113.00 477.4h1.30v5.74h-1.30zM118.50 477.4h1.30v5.74h-1.30zM100.90 482.8h1.30v5.74h-1.30zM120.70 482.8h1.30v5.74h-1.30zM121.80 488.2h1.30v5.74h-1.30zM93.20 493.7h1.30v5.74h-1.30zM107.50 493.7h1.30v5.74h-1.30zM111.90 499.1h1.30v5.74h-1.30zM121.80 499.1h1.30v5.74h-1.30zM106.40 504.6h1.30v5.74h-1.30z"/>
<path fill="#00ffbf" stroke="none" d="M98.70 75.4h1.30v4.84h-1.30zM108.60 75.4h1.30v4.84h-1.30zM121.80 75.4h3.50v4.84h-3.50zM128.49 75.4h6.32v4.84h-6.32zM147.29 75.4h1.76v4.84h-1.76zM162.47 75.4h2.06v4.84h-2.06zM170.15 75.4h4.27v4.84h-4.27zM197.23 75.4h2.76v4.84h-2.76zM83.30 80.4h1.30v5.74h-1.30zM96.50 80.4h1.30v5.74h-1.30zM100.90 80.4h1.30v5.74h-1.30zM83.30 85.9h1.30v5.74h-1.30zM100.90 85.9h1.30v5.74h-1.30zM111.90 85.9h1.30v5.74h-1.30zM124.00 85.9h1.30v5.74h-1.30zM152.05 85.9h1.85v5.74h-1.85zM160.65 85.9h2.03v5.74h-2.03zM82.20 91.3h1.30v5.74h-1.30zM111.90 91.3h1.30v5.74h-1.30zM111.90 96.8h1.30v5.74h-1.30zM81.10 118.5h1.30v5.74h-1.30zM109.70 123.9h1.30v5.74h-1.30zM113.00 123.9h1.30v5.74h-1.30zM84.40 129.4h1.30v5.74h-1.30zM91.00 129.4h1.30v5.74h-1.30zM83.30 162.0h2.40v5.74h-2.40zM111.90 162.0h1.30v5.74h-1.30zM80.00 167.4h1.30v5.74h-1.30zM88.80 167.4h1.30v5.74h-1.30zM92.10 167.4h1.30v5.74h-1.30zM110.80 167.4h1.30v5.74h-1.30zM121.80 172.9h1.30v5.74h-1.30zM132.09 189.2h1.45v5.74h-1.45zM142.81 189.2h1.66v5.74h-1.66zM145.77 189.2h1.72v5.74h-1.72zM130.86 194.6h1.42v5.74h-1.42zM137.23 194.6h1.55v5.74h-1.55zM139.96 194.6h1.61v5.74h-1.61zM145.77 194.6h1.72v5.74h-1.72zM139.96 200.1h4.51v5.74h-4.51zM80.00 205.5h1.30v5.74h-1.30zM109.70 205.5h1.30v5.74h-1.30zM83.30 210.9h2.40v5.74h-2.40zM116.30 210.9h1.30v5.74h-1.30zM120.70 216.4h1.30v5.74h-1.30zM80.00 221.8h1.30v5.74h-1.30zM82.20 221.8h1.30v5.74h-1.30zM87.70 221.8h1.30v5.74h-1.30zM81.10 227.2h1.30v5.74h-1.30zM89.90 227.2h1.30v5.74h-1.30zM82.20 232.7h1.30v5.74h-1.30zM114.10 232.7h1.30v5.74h-1.30zM117.40 238.1h1.30v5.74h-1.30zM124.00 238.1h1.30v5.74h-1.30zM99.80 243.6h1.30v5.74h-1.30zM103.10 243.6h1.30v5.74h-1.30zM110.80 243.6h1.30v5.74h-1.30zM114.10 243.6h1.30v5.74h-1.30zM82.20 249.0h1.30v5.74h-1.30zM87.70 249.0h1.30v5.74h-1.30zM105.30 249.0h1.30v5.74h-1.30zM126.21 249.0h1.33v5.74h-1.33zM84.40 254.4h1.30v5.74h-1.30zM81.10 259.9h1.30v5.74h-1.30zM87.70 259.9h1.30v5.74h-1.30zM105.30 259.9h1.30v5.74h-1.30zM80.00 265.3h1.30v5.74h-1.30zM84.40 265.3h1.30v5.74h-1.30zM80.00 270.8h1.30v5.74h-1.30zM83.30 270.8h1.30v5.74h-1.30zM80.00 276.2h1.30v5.74h-1.30zM103.10 276.2h1.30v5.74h-1.30zM106.40 276.2h1.30v5.74h-1.30zM117.40 276.2h1.30v5.74h-1.30zM111.90 281.6h1.30v5.74h-1.30zM118.50 281.6h1.30v5.74h-1.30zM113.00 287.1h1.30v5.74h-1.30zM115.20 287.1h1.30v5.74h-1.30zM120.70 287.1h1.30v5.74h-1.30zM124.00 292.5h1.30v5.74h-1.30zM102.00 297.9h1.30v5.74h-1.30zM119.60 297.9h1.30v5.74h-1.30zM126.21 297.9h1.33v5.74h-1.33zM81.10 303.4h1.30v5.74h-1.30zM84.40 303.4h1.30v5.74h-1.30zM86.60 303.4h1.30v5.74h-1.30zM92.10 303.4h1.30v5.74h-1.30zM94.30 303.4h2.40v5.74h-2.40zM111.90 303.4h1.30v5.74h-1.30zM122.90 303.4h2.40v5.74h-2.40zM83.30 308.8h1.30v5.74h-1.30zM92.10 308.8h1.30v5.74h-1.30zM122.90 308.8h1.30v5.74h-1.30zM82.20 314.2h1.30v5.74h-1.30zM92.10 314.2h1.30v5.74h-1.30zM107.50 314.2h1.30v5.74h-1.30zM126.21 314.2h1.33v5.74h-1.33zM83.30 319.7h1.30v5.74h-1.30zM85.50 319.7h1.30v5.74h-1.30zM91.00 319.7h1.30v5.74h-1.30zM95.40 319.7h1.30v5.74h-1.30zM107.50 319.7h2.40v5.74h-2.40zM124.00 325.1h1.30v5.74h-1.30zM108.60 330.6h1.30v5.74h-1.30zM115.20 330.6h1.30v5.74h-1.30zM81.10 336.0h1.30v5.74h-1.30zM93.20 336.0h1.30v5.74h-1.30zM81.10 341.4h1.30v5.74h-1.30zM83.30 341.4h1.30v5.74h-1.30zM84.40 346.9h1.30v5.74h-1.30zM91.00 346.9h1.30v5.74h-1.30zM81.10 352.3h1.30v5.74h-1.30zM83.30 352.3h1.30v5.74h-1.30zM110.80 352.3h1.30v5.74h-1.30zM115.20 352.3h1.30v5.74h-1.30zM120.70 352.3h1.30v5.74h-1.30zM121.80 357.8h1.30v5.74h-1.30zM111.90 363.2h1.30v5.74h-1.30zM111.90 368.6h1.30v5.74h-1.30zM121.80 368.6h1.30v5.74h-1.30zM111.90 374.1h1.30v5.74h-1.30zM83.30 379.5h2.40v5.74h-2.40zM94.30 379.5h1.30v5.74h-1.30zM99.80 379.5h1.30v5.74h-1.30zM117.40 390.4h1.30v5.74h-1.30zM125.10 390.4h1.31v5.74h-1.31zM120.70 395.8h1.30v5.74h-1.30zM122.90 395.8h1.30v5.74h-1.30zM126.21 401.2h1.33v5.74h-1.33zM94.30 406.7h1.30v5.74h-1.30zM126.21 406.7h1.33v5.74h-1.33zM116.30 412.1h1.30v5.74h-1.30zM120.70 412.1h1.30v5.74h-1.30zM113.00 417.6h1.30v5.74h-1.30zM117.40 423.0h1.30v5.74h-1.30zM125.10 423.0h1.31v5.74h-1.31zM110.80 428.4h1.30v5.74h-1.30zM124.00 428.4h1.30v5.74h-1.30zM93.20 439.3h1.30v5.74h-1.30zM109.70 439.3h1.30v5.74h-1.30zM105.30 444.8h1.30v5.74h-1.30zM127.34 444.8h1.35v5.74h-1.35zM93.20 450.2h1.30v5.74h-1.30zM105.30 455.6h1.30v5.74h-1.30zM127.34 461.1h1.35v5.74h-1.35zM100.90 466.5h1.30v5.74h-1.30zM89.90 471.9h1.30v5.74h-1.30zM122.90 471.9h1.30v5.74h-1.30zM125.10 471.9h1.31v5.74h-1.31zM128.49 471.9h1.38v5.74h-1.38zM129.66 477.4h1.40v5.74h-1.40zM93.20 482.8h1.30v5.74h-1.30zM110.80 482.8h1.30v5.74h-1.30zM128.49 482.8h1.38v5.74h-1.38zM93.20 488.2h1.30v5.74h-1.30zM117.40 488.2h1.30v5.74h-1.30zM127.34 488.2h3.73v5.74h-3.73zM105.30 493.7h1.30v5.74h-1.30zM121.80 493.7h1.30v5.74h-1.30zM129.66 493.7h1.40v5.74h-1.40zM127.34 499.1h3.73v5.74h-3.73zM111.90 504.6h1.30v5.74h-1.30z"/>
<path fill="#00ffaa" stroke="none" d="M83.30 75.4h1.30v4.84h-1.30zM92.10 75.4h1.30v4.84h-1.30zM96.50 75.4h2.40v4.84h-2.40zM145.77 75.4h1.72v4.84h-1.72zM150.43 75.4h1.82v4.84h-1.82zM158.86 75.4h3.81v4.84h-3.81zM166.23 75.4h4.11v4.84h-4.11zM182.88 75.4h2.47v4.84h-2.47zM187.47 80.4h2.57v5.74h-2.57zM126.21 85.9h1.33v5.74h-1.33zM135.91 85.9h1.53v5.74h-1.53zM130.86 91.3h1.42v5.74h-1.42zM134.61 91.3h1.50v5.74h-1.50zM147.29 91.3h1.76v5.74h-1.76zM109.70 96.8h1.30v5.74h-1.30zM202.41 96.8h2.87v5.74h-2.87zM106.40 118.5h1.30v5.74h-1.30zM109.70 118.5h1.30v5.74h-1.30zM126.21 118.5h1.33v5.74h-1.33zM84.40 123.9h1.30v5.74h-1.30zM126.21 123.9h1.33v5.74h-1.33zM80.00 162.0h1.30v5.74h-1.30zM82.20 162.0h1.30v5.74h-1.30zM93.20 162.0h1.30v5.74h-1.30zM104.20 162.0h1.30v5.74h-1.30zM110.80 162.0h1.30v5.74h-1.30zM115.20 162.0h1.30v5.74h-1.30zM91.00 172.9h1.30v5.74h-1.30zM119.60 172.9h1.30v5.74h-1.30zM121.80 183.8h1.30v5.74h-1.30zM133.33 189.2h1.47v5.74h-1.47zM135.91 189.2h1.53v5.74h-1.53zM138.58 189.2h2.99v5.74h-2.99zM205.08 189.2h2.92v5.74h-2.92zM132.09 194.6h2.72v5.74h-2.72zM138.58 194.6h1.58v5.74h-1.58zM194.72 194.6h2.71v5.74h-2.71zM199.79 194.6h2.82v5.74h-2.82zM133.33 200.1h4.10v5.74h-4.10zM144.27 200.1h1.69v5.74h-1.69zM81.10 205.5h1.30v5.74h-1.30zM99.80 205.5h1.30v5.74h-1.30zM115.20 205.5h1.30v5.74h-1.30zM126.21 205.5h1.33v5.74h-1.33zM81.10 216.4h1.30v5.74h-1.30zM94.30 216.4h1.30v5.74h-1.30zM83.30 221.8h1.30v5.74h-1.30zM102.00 221.8h1.30v5.74h-1.30zM105.30 221.8h1.30v5.74h-1.30zM116.30 221.8h1.30v5.74h-1.30zM80.00 232.7h1.30v5.74h-1.30zM103.10 238.1h1.30v5.74h-1.30zM105.30 238.1h1.30v5.74h-1.30zM110.80 238.1h1.30v5.74h-1.30zM113.00 238.1h1.30v5.74h-1.30zM121.80 238.1h1.30v5.74h-1.30zM117.40 243.6h1.30v5.74h-1.30zM122.90 243.6h1.30v5.74h-1.30zM125.10 243.6h1.31v5.74h-1.31zM81.10 249.0h1.30v5.74h-1.30zM83.30 254.4h1.30v5.74h-1.30zM105.30 254.4h1.30v5.74h-1.30zM114.10 254.4h1.30v5.74h-1.30zM80.00 259.9h1.30v5.74h-1.30zM82.20 259.9h1.30v5.74h-1.30zM93.20 259.9h1.30v5.74h-1.30zM82.20 265.3h2.40v5.74h-2.40zM82.20 270.8h1.30v5.74h-1.30zM102.00 270.8h1.30v5.74h-1.30zM108.60 270.8h1.30v5.74h-1.30zM83.30 276.2h1.30v5.74h-1.30zM108.60 276.2h1.30v5.74h-1.30zM107.50 281.6h2.40v5.74h-2.40zM115.20 281.6h1.30v5.74h-1.30zM120.70 281.6h1.30v5.74h-1.30zM125.10 281.6h1.31v5.74h-1.31zM111.90 287.1h1.30v5.74h-1.30zM119.60 287.1h1.30v5.74h-1.30zM84.40 292.5h1.30v5.74h-1.30zM114.10 297.9h1.30v5.74h-1.30zM117.40 297.9h2.40v5.74h-2.40zM82.20 303.4h1.30v5.74h-1.30zM96.50 303.4h1.30v5.74h-1.30zM80.00 308.8h1.30v5.74h-1.30zM115.20 308.8h1.30v5.74h-1.30zM124.00 308.8h1.30v5.74h-1.30zM126.21 308.8h1.33v5.74h-1.33zM81.10 314.2h1.30v5.74h-1.30zM95.40 314.2h1.30v5.74h-1.30zM82.20 319.7h1.30v5.74h-1.30zM87.70 319.7h1.30v5.74h-1.30zM93.20 319.7h1.30v5.74h-1.30zM124.00 319.7h1.30v5.74h-1.30zM99.80 330.6h1.30v5.74h-1.30zM124.00 330.6h1.30v5.74h-1.30zM80.00 336.0h1.30v5.74h-1.30zM82.20 336.0h2.40v5.74h-2.40zM95.40 341.4h1.30v5.74h-1.30zM120.70 346.9h1.30v5.74h-1.30zM99.80 352.3h1.30v5.74h-1.30zM81.10 357.8h3.50v5.74h-3.50zM82.20 363.2h2.40v5.74h-2.40zM114.10 374.1h1.30v5.74h-1.30zM116.30 374.1h1.30v5.74h-1.30zM121.80 374.1h1.30v5.74h-1.30zM81.10 379.5h1.30v5.74h-1.30zM93.20 379.5h1.30v5.74h-1.30zM107.50 384.9h1.30v5.74h-1.30zM87.70 390.4h1.30v5.74h-1.30zM99.80 390.4h1.30v5.74h-1.30zM128.49 390.4h1.38v5.74h-1.38zM87.70 395.8h1.30v5.74h-1.30zM127.34 395.8h1.35v5.74h-1.35zM129.66 395.8h1.40v5.74h-1.40zM94.30 401.2h1.30v5.74h-1.30zM128.49 401.2h2.57v5.74h-2.57zM128.49 406.7h2.57v5.74h-2.57zM127.34 417.6h3.73v5.74h-3.73zM115.20 423.0h1.30v5.74h-1.30zM118.50 423.0h1.30v5.74h-1.30zM127.34 423.0h1.35v5.74h-1.35zM129.66 423.0h1.40v5.74h-1.40zM92.10 428.4h1.30v5.74h-1.30zM114.10 428.4h1.30v5.74h-1.30zM129.66 428.4h1.40v5.74h-1.40zM95.40 433.9h1.30v5.74h-1.30zM127.34 433.9h2.53v5.74h-2.53zM86.60 439.3h1.30v5.74h-1.30zM94.30 439.3h1.30v5.74h-1.30zM114.10 439.3h1.30v5.74h-1.30zM128.49 439.3h2.57v5.74h-2.57zM81.10 444.8h1.30v5.74h-1.30zM88.80 444.8h1.30v5.74h-1.30zM128.49 444.8h2.57v5.74h-2.57zM81.10 450.2h1.30v5.74h-1.30zM86.60 450.2h1.30v5.74h-1.30zM127.34 450.2h3.73v5.74h-3.73zM127.34 455.6h2.53v5.74h-2.53zM128.49 461.1h1.38v5.74h-1.38zM128.49 466.5h2.57v5.74h-2.57zM103.10 471.9h1.30v5.74h-1.30zM109.70 471.9h1.30v5.74h-1.30zM127.34 471.9h1.35v5.74h-1.35zM129.66 471.9h1.40v5.74h-1.40zM103.10 477.4h1.30v5.74h-1.30zM119.60 477.4h1.30v5.74h-1.30zM124.00 477.4h1.30v5.74h-1.30zM126.21 477.4h3.66v5.74h-3.66zM92.10 482.8h1.30v5.74h-1.30zM117.40 482.8h1.30v5.74h-1.30zM127.34 482.8h1.35v5.74h-1.35zM129.66 482.8h1.40v5.74h-1.40zM80.00 488.2h1.30v5.74h-1.30zM84.40 488.2h1.30v5.74h-1.30zM100.90 488.2h1.30v5.74h-1.30zM125.10 488.2h1.31v5.74h-1.31zM80.00 493.7h1.30v5.74h-1.30zM84.40 493.7h1.30v5.74h-1.30zM127.34 493.7h2.53v5.74h-2.53zM122.90 499.1h1.30v5.74h-1.30zM127.34 504.6h3.73v5.74h-3.73z"/>
<path fill="#00ff95" stroke="none" d="M107.50 75.4h1.30v4.84h-1.30zM113.00 75.4h1.30v4.84h-1.30zM117.40 75.4h1.30v4.84h-1.30zM137.23 75.4h2.93v4.84h-2.93zM157.10 75.4h1.95v4.84h-1.95zM187.47 75.4h4.98v4.84h-4.98zM199.79 75.4h2.82v4.84h-2.82zM205.08 75.4h2.92v4.84h-2.92zM160.65 80.4h2.03v5.74h-2.03zM197.23 80.4h2.76v5.74h-2.76zM202.41 80.4h2.87v5.74h-2.87zM119.60 91.3h1.30v5.74h-1.30zM121.80 91.3h1.30v5.74h-1.30zM170.15 91.3h2.22v5.74h-2.22zM178.46 91.3h2.38v5.74h-2.38zM138.58 96.8h1.58v5.74h-1.58zM109.70 102.2h1.30v5.74h-1.30zM133.33 102.2h1.47v5.74h-1.47zM137.23 102.2h1.55v5.74h-1.55zM139.96 102.2h1.61v5.74h-1.61zM145.77 102.2h3.28v5.74h-3.28zM185.15 102.2h2.52v5.74h-2.52zM197.23 102.2h2.76v5.74h-2.76zM92.10 107.6h2.40v5.74h-2.40zM99.80 107.6h1.30v5.74h-1.30zM103.10 107.6h1.30v5.74h-1.30zM108.60 107.6h1.30v5.74h-1.30zM118.50 107.6h1.30v5.74h-1.30zM126.21 107.6h1.33v5.74h-1.33zM141.37 107.6h1.64v5.74h-1.64zM144.27 107.6h1.69v5.74h-1.69zM160.65 107.6h2.03v5.74h-2.03zM178.46 107.6h2.38v5.74h-2.38zM189.84 107.6h2.61v5.74h-2.61zM110.80 113.1h1.30v5.74h-1.30zM130.86 113.1h1.42v5.74h-1.42zM141.37 113.1h1.64v5.74h-1.64zM152.05 113.1h1.85v5.74h-1.85zM205.08 113.1h2.92v5.74h-2.92zM91.00 123.9h2.40v5.74h-2.40zM96.50 123.9h1.30v5.74h-1.30zM126.21 129.4h1.33v5.74h-1.33zM95.40 145.7h2.40v5.74h-2.40zM105.30 145.7h1.30v5.74h-1.30zM111.90 145.7h1.30v5.74h-1.30zM118.50 145.7h1.30v5.74h-1.30zM121.80 145.7h1.30v5.74h-1.30zM130.86 145.7h2.67v5.74h-2.67zM150.43 145.7h8.63v5.74h-8.63zM160.65 145.7h7.72v5.74h-7.72zM105.30 151.1h2.40v5.74h-2.40zM111.90 151.1h1.30v5.74h-1.30zM116.30 151.1h3.50v5.74h-3.50zM121.80 151.1h1.30v5.74h-1.30zM126.21 151.1h1.33v5.74h-1.33zM135.91 151.1h1.53v5.74h-1.53zM139.96 151.1h1.61v5.74h-1.61zM99.80 156.6h1.30v5.74h-1.30zM103.10 156.6h1.30v5.74h-1.30zM105.30 156.6h1.30v5.74h-1.30zM109.70 156.6h1.30v5.74h-1.30zM124.00 156.6h1.30v5.74h-1.30zM138.58 156.6h1.58v5.74h-1.58zM124.00 162.0h1.30v5.74h-1.30zM82.20 167.4h1.30v5.74h-1.30zM109.70 167.4h1.30v5.74h-1.30zM92.10 172.9h2.40v5.74h-2.40zM99.80 172.9h1.30v5.74h-1.30zM118.50 172.9h1.30v5.74h-1.30zM120.70 172.9h1.30v5.74h-1.30zM99.80 178.3h1.30v5.74h-1.30zM121.80 178.3h1.30v5.74h-1.30zM108.60 183.8h1.30v5.74h-1.30zM126.21 183.8h1.33v5.74h-1.33zM102.00 189.2h1.30v5.74h-1.30zM104.20 189.2h1.30v5.74h-1.30zM119.60 189.2h2.40v5.74h-2.40zM126.21 189.2h1.33v5.74h-1.33zM134.61 189.2h1.50v5.74h-1.50zM141.37 189.2h1.64v5.74h-1.64zM144.27 189.2h1.69v5.74h-1.69zM199.79 189.2h2.82v5.74h-2.82zM100.90 194.6h1.30v5.74h-1.30zM125.10 194.6h1.31v5.74h-1.31zM142.81 194.6h1.66v5.74h-1.66zM202.41 194.6h2.87v5.74h-2.87zM94.30 200.1h1.30v5.74h-1.30zM96.50 200.1h1.30v5.74h-1.30zM99.80 200.1h1.30v5.74h-1.30zM116.30 200.1h1.30v5.74h-1.30zM137.23 200.1h1.55v5.74h-1.55zM80.00 210.9h3.50v5.74h-3.50zM102.00 210.9h1.30v5.74h-1.30zM115.20 210.9h1.30v5.74h-1.30zM80.00 216.4h1.30v5.74h-1.30zM82.20 216.4h3.50v5.74h-3.50zM87.70 216.4h1.30v5.74h-1.30zM91.00 216.4h1.30v5.74h-1.30zM102.00 216.4h1.30v5.74h-1.30zM117.40 216.4h1.30v5.74h-1.30zM96.50 221.8h1.30v5.74h-1.30zM87.70 227.2h1.30v5.74h-1.30zM96.50 227.2h1.30v5.74h-1.30zM116.30 227.2h1.30v5.74h-1.30zM83.30 232.7h1.30v5.74h-1.30zM86.60 232.7h2.40v5.74h-2.40zM96.50 232.7h1.30v5.74h-1.30zM107.50 238.1h1.30v5.74h-1.30zM102.00 243.6h1.30v5.74h-1.30zM115.20 243.6h1.30v5.74h-1.30zM83.30 249.0h1.30v5.74h-1.30zM80.00 254.4h1.30v5.74h-1.30zM89.90 254.4h1.30v5.74h-1.30zM83.30 259.9h1.30v5.74h-1.30zM102.00 265.3h1.30v5.74h-1.30zM81.10 270.8h1.30v5.74h-1.30zM106.40 270.8h1.30v5.74h-1.30zM111.90 270.8h1.30v5.74h-1.30zM82.20 276.2h1.30v5.74h-1.30zM111.90 276.2h1.30v5.74h-1.30zM109.70 281.6h1.30v5.74h-1.30zM113.00 281.6h1.30v5.74h-1.30zM102.00 287.1h1.30v5.74h-1.30zM106.40 287.1h1.30v5.74h-1.30zM81.10 292.5h1.30v5.74h-1.30zM83.30 292.5h1.30v5.74h-1.30zM121.80 292.5h1.30v5.74h-1.30zM80.00 297.9h1.30v5.74h-1.30zM82.20 297.9h1.30v5.74h-1.30zM84.40 297.9h1.30v5.74h-1.30zM94.30 297.9h1.30v5.74h-1.30zM96.50 297.9h1.30v5.74h-1.30zM103.10 297.9h1.30v5.74h-1.30zM106.40 297.9h1.30v5.74h-1.30zM80.00 303.4h1.30v5.74h-1.30zM89.90 303.4h1.30v5.74h-1.30zM81.10 308.8h2.40v5.74h-2.40zM86.60 308.8h1.30v5.74h-1.30zM89.90 308.8h1.30v5.74h-1.30zM111.90 308.8h1.30v5.74h-1.30zM83.30 314.2h1.30v5.74h-1.30zM85.50 314.2h1.30v5.74h-1.30zM124.00 314.2h1.30v5.74h-1.30zM80.00 319.7h2.40v5.74h-2.40zM91.00 336.0h1.30v5.74h-1.30zM105.30 336.0h1.30v5.74h-1.30zM80.00 341.4h1.30v5.74h-1.30zM82.20 341.4h1.30v5.74h-1.30zM93.20 341.4h1.30v5.74h-1.30zM83.30 346.9h1.30v5.74h-1.30zM89.90 346.9h1.30v5.74h-1.30zM82.20 352.3h1.30v5.74h-1.30zM124.00 352.3h1.30v5.74h-1.30zM80.00 357.8h1.30v5.74h-1.30zM127.34 363.2h1.35v5.74h-1.35zM127.34 374.1h3.73v5.74h-3.73zM80.00 379.5h1.30v5.74h-1.30zM82.20 379.5h1.30v5.74h-1.30zM87.70 379.5h1.30v5.74h-1.30zM111.90 379.5h1.30v5.74h-1.30zM114.10 379.5h1.30v5.74h-1.30zM125.10 379.5h1.31v5.74h-1.31zM127.34 379.5h1.35v5.74h-1.35zM80.00 384.9h1.30v5.74h-1.30zM93.20 384.9h1.30v5.74h-1.30zM114.10 384.9h1.30v5.74h-1.30zM127.34 384.9h1.35v5.74h-1.35zM129.66 384.9h1.40v5.74h-1.40zM129.66 390.4h1.40v5.74h-1.40zM100.90 395.8h1.30v5.74h-1.30zM128.49 395.8h1.38v5.74h-1.38zM87.70 401.2h1.30v5.74h-1.30zM92.10 401.2h1.30v5.74h-1.30zM100.90 401.2h1.30v5.74h-1.30zM127.34 401.2h1.35v5.74h-1.35zM82.20 406.7h1.30v5.74h-1.30zM104.20 406.7h1.30v5.74h-1.30zM127.34 406.7h1.35v5.74h-1.35zM126.21 412.1h4.86v5.74h-4.86zM128.49 423.0h1.38v5.74h-1.38zM83.30 428.4h1.30v5.74h-1.30zM87.70 428.4h1.30v5.74h-1.30zM125.10 428.4h1.31v5.74h-1.31zM127.34 428.4h2.53v5.74h-2.53zM91.00 433.9h1.30v5.74h-1.30zM129.66 433.9h1.40v5.74h-1.40zM82.20 439.3h1.30v5.74h-1.30zM85.50 439.3h1.30v5.74h-1.30zM88.80 439.3h1.30v5.74h-1.30zM127.34 439.3h1.35v5.74h-1.35zM85.50 444.8h2.40v5.74h-2.40zM116.30 450.2h1.30v5.74h-1.30zM121.80 450.2h1.30v5.74h-1.30zM125.10 455.6h1.31v5.74h-1.31zM129.66 455.6h1.40v5.74h-1.40zM129.66 461.1h1.40v5.74h-1.40zM127.34 466.5h1.35v5.74h-1.35zM81.10 477.4h1.30v5.74h-1.30zM88.80 477.4h1.30v5.74h-1.30zM80.00 482.8h1.30v5.74h-1.30zM85.50 482.8h1.30v5.74h-1.30zM89.90 482.8h1.30v5.74h-1.30zM83.30 488.2h1.30v5.74h-1.30zM85.50 493.7h1.30v5.74h-1.30zM89.90 493.7h1.30v5.74h-1.30zM99.80 499.1h1.30v5.74h-1.30zM99.80 504.6h1.30v5.74h-1.30z"/>
<path fill="#00ff80" stroke="none" d="M81.10 75.4h1.30v4.84h-1.30zM94.30 75.4h1.30v4.84h-1.30zM99.80 75.4h1.30v4.84h-1.30zM102.00 75.4h1.30v4.84h-1.30zM109.70 75.4h1.30v4.84h-1.30zM111.90 75.4h1.30v4.84h-1.30zM119.60 75.4h2.40v4.84h-2.40zM152.05 75.4h1.85v4.84h-1.85zM138.58 80.4h4.42v5.74h-4.42zM168.17 85.9h4.19v5.74h-4.19zM139.96 91.3h1.61v5.74h-1.61zM197.23 91.3h2.76v5.74h-2.76zM121.80 96.8h1.30v5.74h-1.30zM141.37 96.8h1.64v5.74h-1.64zM168.17 96.8h4.19v5.74h-4.19zM197.23 96.8h2.76v5.74h-2.76zM93.20 102.2h1.30v5.74h-1.30zM95.40 102.2h1.30v5.74h-1.30zM104.20 102.2h1.30v5.74h-1.30zM106.40 102.2h2.40v5.74h-2.40zM114.10 102.2h1.30v5.74h-1.30zM120.70 102.2h1.30v5.74h-1.30zM134.61 102.2h1.50v5.74h-1.50zM141.37 102.2h1.64v5.74h-1.64zM164.33 102.2h2.10v5.74h-2.10zM168.17 102.2h2.18v5.74h-2.18zM178.46 102.2h2.38v5.74h-2.38zM189.84 102.2h2.61v5.74h-2.61zM194.72 102.2h2.71v5.74h-2.71zM202.41 102.2h2.87v5.74h-2.87zM94.30 107.6h1.30v5.74h-1.30zM96.50 107.6h1.30v5.74h-1.30zM100.90 107.6h1.30v5.74h-1.30zM105.30 107.6h3.50v5.74h-3.50zM111.90 107.6h1.30v5.74h-1.30zM114.10 107.6h2.40v5.74h-2.40zM117.40 107.6h1.30v5.74h-1.30zM119.60 107.6h1.30v5.74h-1.30zM121.80 107.6h1.30v5.74h-1.30zM138.58 107.6h1.58v5.74h-1.58zM148.84 107.6h3.41v5.74h-3.41zM157.10 107.6h1.95v5.74h-1.95zM166.23 107.6h2.14v5.74h-2.14zM94.30 113.1h1.30v5.74h-1.30zM96.50 113.1h1.30v5.74h-1.30zM106.40 113.1h2.40v5.74h-2.40zM109.70 113.1h1.30v5.74h-1.30zM113.00 113.1h1.30v5.74h-1.30zM116.30 113.1h1.30v5.74h-1.30zM135.91 113.1h1.53v5.74h-1.53zM138.58 113.1h2.99v5.74h-2.99zM142.81 113.1h1.66v5.74h-1.66zM147.29 113.1h3.34v5.74h-3.34zM172.17 113.1h13.19v5.74h-13.19zM202.41 113.1h2.87v5.74h-2.87zM81.10 123.9h1.30v5.74h-1.30zM92.10 145.7h1.30v5.74h-1.30zM99.80 145.7h1.30v5.74h-1.30zM104.20 145.7h1.30v5.74h-1.30zM108.60 145.7h1.30v5.74h-1.30zM115.20 145.7h1.30v5.74h-1.30zM117.40 145.7h1.30v5.74h-1.30zM120.70 145.7h1.30v5.74h-1.30zM122.90 145.7h1.30v5.74h-1.30zM125.10 145.7h1.31v5.74h-1.31zM135.91 145.7h1.53v5.74h-1.53zM138.58 145.7h1.58v5.74h-1.58zM141.37 145.7h1.64v5.74h-1.64zM147.29 145.7h1.76v5.74h-1.76zM158.86 145.7h1.99v5.74h-1.99zM168.17 145.7h2.18v5.74h-2.18zM172.17 145.7h6.50v5.74h-6.50zM180.65 145.7h2.43v5.74h-2.43zM92.10 151.1h1.30v5.74h-1.30zM94.30 151.1h1.30v5.74h-1.30zM100.90 151.1h1.30v5.74h-1.30zM104.20 151.1h1.30v5.74h-1.30zM107.50 151.1h2.40v5.74h-2.40zM113.00 151.1h2.40v5.74h-2.40zM132.09 151.1h1.45v5.74h-1.45zM134.61 151.1h1.50v5.74h-1.50zM93.20 156.6h1.30v5.74h-1.30zM95.40 156.6h2.40v5.74h-2.40zM104.20 156.6h1.30v5.74h-1.30zM106.40 156.6h2.40v5.74h-2.40zM114.10 156.6h1.30v5.74h-1.30zM118.50 156.6h1.30v5.74h-1.30zM125.10 156.6h2.44v5.74h-2.44zM130.86 156.6h1.42v5.74h-1.42zM139.96 156.6h3.04v5.74h-3.04zM142.81 172.9h1.66v5.74h-1.66zM148.84 172.9h1.79v5.74h-1.79zM118.50 178.3h1.30v5.74h-1.30zM95.40 189.2h1.30v5.74h-1.30zM99.80 189.2h1.30v5.74h-1.30zM105.30 189.2h1.30v5.74h-1.30zM108.60 189.2h1.30v5.74h-1.30zM110.80 189.2h1.30v5.74h-1.30zM114.10 189.2h1.30v5.74h-1.30zM121.80 189.2h1.30v5.74h-1.30zM124.00 189.2h2.41v5.74h-2.41zM130.86 189.2h1.42v5.74h-1.42zM137.23 189.2h1.55v5.74h-1.55zM194.72 189.2h2.71v5.74h-2.71zM202.41 189.2h2.87v5.74h-2.87zM93.20 194.6h1.30v5.74h-1.30zM95.40 194.6h1.30v5.74h-1.30zM104.20 194.6h1.30v5.74h-1.30zM111.90 194.6h1.30v5.74h-1.30zM117.40 194.6h1.30v5.74h-1.30zM122.90 194.6h1.30v5.74h-1.30zM134.61 194.6h2.82v5.74h-2.82zM141.37 194.6h1.64v5.74h-1.64zM144.27 194.6h1.69v5.74h-1.69zM205.08 194.6h2.92v5.74h-2.92zM108.60 200.1h1.30v5.74h-1.30zM111.90 200.1h1.30v5.74h-1.30zM130.86 200.1h2.67v5.74h-2.67zM138.58 200.1h1.58v5.74h-1.58zM145.77 200.1h1.72v5.74h-1.72zM82.20 205.5h1.30v5.74h-1.30zM106.40 205.5h1.30v5.74h-1.30zM91.00 210.9h1.30v5.74h-1.30zM93.20 210.9h2.40v5.74h-2.40zM89.90 216.4h1.30v5.74h-1.30zM81.10 221.8h1.30v5.74h-1.30zM117.40 221.8h1.30v5.74h-1.30zM80.00 227.2h1.30v5.74h-1.30zM82.20 227.2h1.30v5.74h-1.30zM105.30 227.2h1.30v5.74h-1.30zM114.10 227.2h1.30v5.74h-1.30zM80.00 249.0h1.30v5.74h-1.30zM93.20 249.0h1.30v5.74h-1.30zM96.50 254.4h1.30v5.74h-1.30zM96.50 259.9h1.30v5.74h-1.30zM102.00 259.9h1.30v5.74h-1.30zM81.10 265.3h1.30v5.74h-1.30zM93.20 265.3h1.30v5.74h-1.30zM108.60 265.3h1.30v5.74h-1.30zM124.00 276.2h1.30v5.74h-1.30zM124.00 281.6h1.30v5.74h-1.30zM107.50 287.1h1.30v5.74h-1.30zM114.10 287.1h1.30v5.74h-1.30zM124.00 287.1h1.30v5.74h-1.30zM80.00 292.5h1.30v5.74h-1.30zM95.40 292.5h1.30v5.74h-1.30zM104.20 292.5h1.30v5.74h-1.30zM118.50 292.5h1.30v5.74h-1.30zM81.10 297.9h1.30v5.74h-1.30zM83.30 297.9h1.30v5.74h-1.30zM105.30 308.8h1.30v5.74h-1.30zM80.00 314.2h1.30v5.74h-1.30zM89.90 319.7h1.30v5.74h-1.30zM99.80 319.7h1.30v5.74h-1.30zM107.50 325.1h1.30v5.74h-1.30zM128.49 325.1h1.38v5.74h-1.38zM128.49 330.6h2.57v5.74h-2.57zM107.50 336.0h1.30v5.74h-1.30zM121.80 336.0h1.30v5.74h-1.30zM129.66 336.0h1.40v5.74h-1.40zM91.00 341.4h1.30v5.74h-1.30zM120.70 341.4h1.30v5.74h-1.30zM128.49 341.4h1.38v5.74h-1.38zM80.00 346.9h1.30v5.74h-1.30zM82.20 346.9h1.30v5.74h-1.30zM93.20 346.9h1.30v5.74h-1.30zM96.50 346.9h1.30v5.74h-1.30zM127.34 346.9h1.35v5.74h-1.35zM80.00 352.3h1.30v5.74h-1.30zM129.66 352.3h1.40v5.74h-1.40zM110.80 357.8h1.30v5.74h-1.30zM127.34 357.8h3.73v5.74h-3.73zM80.00 363.2h2.40v5.74h-2.40zM128.49 363.2h2.57v5.74h-2.57zM127.34 368.6h3.73v5.74h-3.73zM126.21 379.5h1.33v5.74h-1.33zM128.49 379.5h2.57v5.74h-2.57zM85.50 384.9h1.30v5.74h-1.30zM87.70 384.9h1.30v5.74h-1.30zM128.49 384.9h1.38v5.74h-1.38zM80.00 390.4h1.30v5.74h-1.30zM83.30 390.4h1.30v5.74h-1.30zM100.90 390.4h1.30v5.74h-1.30zM103.10 390.4h1.30v5.74h-1.30zM127.34 390.4h1.35v5.74h-1.35zM85.50 395.8h1.30v5.74h-1.30zM80.00 401.2h1.30v5.74h-1.30zM82.20 401.2h1.30v5.74h-1.30zM85.50 401.2h1.30v5.74h-1.30zM122.90 401.2h1.30v5.74h-1.30zM87.70 406.7h1.30v5.74h-1.30zM92.10 412.1h1.30v5.74h-1.30zM116.30 417.6h1.30v5.74h-1.30zM99.80 428.4h1.30v5.74h-1.30zM83.30 433.9h1.30v5.74h-1.30zM85.50 433.9h1.30v5.74h-1.30zM124.00 433.9h1.30v5.74h-1.30zM83.30 439.3h1.30v5.74h-1.30zM87.70 439.3h1.30v5.74h-1.30zM110.80 439.3h1.30v5.74h-1.30zM87.70 444.8h1.30v5.74h-1.30zM82.20 450.2h1.30v5.74h-1.30zM88.80 455.6h1.30v5.74h-1.30zM102.00 461.1h1.30v5.74h-1.30zM121.80 461.1h1.30v5.74h-1.30zM93.20 466.5h1.30v5.74h-1.30zM82.20 471.9h1.30v5.74h-1.30zM83.30 477.4h1.30v5.74h-1.30zM117.40 477.4h1.30v5.74h-1.30zM125.10 477.4h1.31v5.74h-1.31zM83.30 482.8h2.40v5.74h-2.40zM85.50 488.2h2.40v5.74h-2.40zM83.30 493.7h1.30v5.74h-1.30zM86.60 493.7h1.30v5.74h-1.30zM80.00 504.6h1.30v5.74h-1.30zM84.40 504.6h1.30v5.74h-1.30zM121.80 504.6h1.30v5.74h-1.30z"/>
<path fill="#00ff6a" stroke="none" d="M85.50 75.4h2.40v4.84h-2.40zM88.80 75.4h1.30v4.84h-1.30zM93.20 75.4h1.30v4.84h-1.30zM118.50 75.4h1.30v4.84h-1.30zM127.34 75.4h1.35v4.84h-1.35zM164.33 75.4h2.10v4.84h-2.10zM174.22 75.4h2.30v4.84h-2.30zM178.46 75.4h2.38v4.84h-2.38zM192.25 75.4h5.18v4.84h-5.18zM202.41 75.4h2.87v4.84h-2.87zM168.17 80.4h4.19v5.74h-4.19zM139.96 85.9h3.04v5.74h-3.04zM197.23 85.9h2.76v5.74h-2.76zM141.37 91.3h1.64v5.74h-1.64zM168.17 91.3h2.18v5.74h-2.18zM139.96 96.8h1.61v5.74h-1.61zM92.10 102.2h1.30v5.74h-1.30zM94.30 102.2h1.30v5.74h-1.30zM99.80 102.2h3.50v5.74h-3.50zM113.00 102.2h1.30v5.74h-1.30zM119.60 102.2h1.30v5.74h-1.30zM121.80 102.2h2.40v5.74h-2.40zM148.84 102.2h3.41v5.74h-3.41zM166.23 102.2h2.14v5.74h-2.14zM170.15 102.2h2.22v5.74h-2.22zM104.20 107.6h1.30v5.74h-1.30zM110.80 107.6h1.30v5.74h-1.30zM113.00 107.6h1.30v5.74h-1.30zM124.00 107.6h2.41v5.74h-2.41zM135.91 107.6h1.53v5.74h-1.53zM172.17 107.6h4.36v5.74h-4.36zM180.65 107.6h2.43v5.74h-2.43zM187.47 107.6h2.57v5.74h-2.57zM192.25 107.6h2.66v5.74h-2.66zM92.10 113.1h2.40v5.74h-2.40zM99.80 113.1h1.30v5.74h-1.30zM102.00 113.1h2.40v5.74h-2.40zM108.60 113.1h1.30v5.74h-1.30zM114.10 113.1h2.40v5.74h-2.40zM118.50 113.1h1.30v5.74h-1.30zM121.80 113.1h1.30v5.74h-1.30zM126.21 113.1h1.33v5.74h-1.33zM132.09 113.1h1.45v5.74h-1.45zM150.43 113.1h1.82v5.74h-1.82zM185.15 113.1h2.52v5.74h-2.52zM189.84 113.1h5.08v5.74h-5.08zM197.23 113.1h5.38v5.74h-5.38zM103.10 145.7h1.30v5.74h-1.30zM113.00 145.7h1.30v5.74h-1.30zM133.33 145.7h1.47v5.74h-1.47zM137.23 145.7h1.55v5.74h-1.55zM145.77 145.7h1.72v5.74h-1.72zM170.15 145.7h2.22v5.74h-2.22zM178.46 145.7h2.38v5.74h-2.38zM95.40 151.1h2.40v5.74h-2.40zM99.80 151.1h1.30v5.74h-1.30zM109.70 151.1h1.30v5.74h-1.30zM115.20 151.1h1.30v5.74h-1.30zM119.60 151.1h1.30v5.74h-1.30zM130.86 151.1h1.42v5.74h-1.42zM138.58 151.1h1.58v5.74h-1.58zM92.10 156.6h1.30v5.74h-1.30zM100.90 156.6h1.30v5.74h-1.30zM110.80 156.6h2.40v5.74h-2.40zM116.30 156.6h2.40v5.74h-2.40zM119.60 156.6h1.30v5.74h-1.30zM122.90 156.6h1.30v5.74h-1.30zM134.61 156.6h1.50v5.74h-1.50zM137.23 156.6h1.55v5.74h-1.55zM144.27 172.9h4.77v5.74h-4.77zM150.43 172.9h12.24v5.74h-12.24zM164.33 172.9h4.04v5.74h-4.04zM100.90 189.2h1.30v5.74h-1.30zM106.40 189.2h2.40v5.74h-2.40zM113.00 189.2h1.30v5.74h-1.30zM118.50 189.2h1.30v5.74h-1.30zM197.23 189.2h2.76v5.74h-2.76zM102.00 194.6h1.30v5.74h-1.30zM105.30 194.6h1.30v5.74h-1.30zM107.50 194.6h2.40v5.74h-2.40zM115.20 194.6h1.30v5.74h-1.30zM118.50 194.6h1.30v5.74h-1.30zM197.23 194.6h2.76v5.74h-2.76zM104.20 200.1h3.50v5.74h-3.50zM110.80 200.1h1.30v5.74h-1.30zM119.60 200.1h2.40v5.74h-2.40zM122.90 200.1h2.40v5.74h-2.40zM126.21 200.1h1.33v5.74h-1.33zM83.30 205.5h1.30v5.74h-1.30zM87.70 210.9h1.30v5.74h-1.30zM116.30 216.4h1.30v5.74h-1.30zM83.30 227.2h1.30v5.74h-1.30zM81.10 232.7h1.30v5.74h-1.30zM116.30 232.7h1.30v5.74h-1.30zM85.50 238.1h2.40v5.74h-2.40zM95.40 238.1h1.30v5.74h-1.30zM118.50 238.1h1.30v5.74h-1.30zM126.21 238.1h1.33v5.74h-1.33zM85.50 243.6h1.30v5.74h-1.30zM81.10 254.4h2.40v5.74h-2.40zM93.20 254.4h1.30v5.74h-1.30zM91.00 259.9h1.30v5.74h-1.30zM81.10 276.2h1.30v5.74h-1.30zM88.80 281.6h1.30v5.74h-1.30zM82.20 287.1h2.40v5.74h-2.40zM126.21 287.1h1.33v5.74h-1.33zM106.40 292.5h1.30v5.74h-1.30zM121.80 297.9h1.30v5.74h-1.30zM124.00 297.9h1.30v5.74h-1.30zM126.21 303.4h1.33v5.74h-1.33zM129.66 308.8h1.40v5.74h-1.40zM87.70 314.2h1.30v5.74h-1.30zM127.34 314.2h1.35v5.74h-1.35zM129.66 314.2h1.40v5.74h-1.40zM126.21 319.7h3.66v5.74h-3.66zM93.20 325.1h1.30v5.74h-1.30zM122.90 325.1h1.30v5.74h-1.30zM127.34 325.1h1.35v5.74h-1.35zM129.66 325.1h1.40v5.74h-1.40zM88.80 330.6h1.30v5.74h-1.30zM127.34 330.6h1.35v5.74h-1.35zM88.80 336.0h1.30v5.74h-1.30zM127.34 336.0h2.53v5.74h-2.53zM96.50 341.4h1.30v5.74h-1.30zM127.34 341.4h1.35v5.74h-1.35zM129.66 341.4h1.40v5.74h-1.40zM128.49 346.9h2.57v5.74h-2.57zM127.34 352.3h2.53v5.74h-2.53zM119.60 357.8h1.30v5.74h-1.30zM83.30 368.6h1.30v5.74h-1.30zM124.00 368.6h1.30v5.74h-1.30zM83.30 384.9h1.30v5.74h-1.30zM81.10 390.4h1.30v5.74h-1.30zM85.50 390.4h1.30v5.74h-1.30zM80.00 395.8h1.30v5.74h-1.30zM83.30 395.8h1.30v5.74h-1.30zM81.10 401.2h1.30v5.74h-1.30zM83.30 406.7h1.30v5.74h-1.30zM87.70 412.1h1.30v5.74h-1.30zM91.00 412.1h1.30v5.74h-1.30zM93.20 412.1h1.30v5.74h-1.30zM113.00 412.1h1.30v5.74h-1.30zM80.00 417.6h1.30v5.74h-1.30zM88.80 417.6h1.30v5.74h-1.30zM84.40 423.0h1.30v5.74h-1.30zM82.20 433.9h1.30v5.74h-1.30zM87.70 433.9h1.30v5.74h-1.30zM81.10 439.3h1.30v5.74h-1.30zM80.00 444.8h1.30v5.74h-1.30zM82.20 444.8h1.30v5.74h-1.30zM84.40 444.8h1.30v5.74h-1.30zM125.10 444.8h1.31v5.74h-1.31zM80.00 450.2h1.30v5.74h-1.30zM83.30 450.2h1.30v5.74h-1.30zM87.70 450.2h1.30v5.74h-1.30zM105.30 450.2h1.30v5.74h-1.30zM86.60 455.6h1.30v5.74h-1.30zM116.30 455.6h1.30v5.74h-1.30zM81.10 461.1h1.30v5.74h-1.30zM86.60 461.1h1.30v5.74h-1.30zM89.90 461.1h1.30v5.74h-1.30zM82.20 466.5h1.30v5.74h-1.30zM89.90 466.5h2.40v5.74h-2.40zM126.21 466.5h1.33v5.74h-1.33zM81.10 471.9h1.30v5.74h-1.30zM83.30 471.9h2.40v5.74h-2.40zM86.60 471.9h1.30v5.74h-1.30zM92.10 471.9h1.30v5.74h-1.30zM80.00 477.4h1.30v5.74h-1.30zM84.40 477.4h1.30v5.74h-1.30zM86.60 477.4h1.30v5.74h-1.30zM120.70 477.4h1.30v5.74h-1.30zM86.60 482.8h1.30v5.74h-1.30zM81.10 493.7h2.40v5.74h-2.40zM80.00 499.1h1.30v5.74h-1.30zM89.90 499.1h1.30v5.74h-1.30zM92.10 504.6h1.30v5.74h-1.30zM96.50 504.6h1.30v5.74h-1.30z"/>
<path fill="#00ff55" stroke="none" d="M116.30 75.4h1.30v4.84h-1.30zM125.10 75.4h1.31v4.84h-1.31zM132.09 91.3h1.45v5.74h-1.45zM137.23 96.8h1.55v5.74h-1.55zM103.10 102.2h1.30v5.74h-1.30zM105.30 102.2h1.30v5.74h-1.30zM108.60 102.2h1.30v5.74h-1.30zM111.90 102.2h1.30v5.74h-1.30zM115.20 102.2h4.60v5.74h-4.60zM124.00 102.2h1.30v5.74h-1.30zM126.21 102.2h1.33v5.74h-1.33zM135.91 102.2h1.53v5.74h-1.53zM138.58 102.2h1.58v5.74h-1.58zM142.81 102.2h1.66v5.74h-1.66zM157.10 102.2h7.43v5.74h-7.43zM174.22 102.2h2.30v5.74h-2.30zM187.47 102.2h2.57v5.74h-2.57zM102.00 107.6h1.30v5.74h-1.30zM116.30 107.6h1.30v5.74h-1.30zM120.70 107.6h1.30v5.74h-1.30zM122.90 107.6h1.30v5.74h-1.30zM132.09 107.6h1.45v5.74h-1.45zM137.23 107.6h1.55v5.74h-1.55zM145.77 107.6h3.28v5.74h-3.28zM152.05 107.6h1.85v5.74h-1.85zM158.86 107.6h1.99v5.74h-1.99zM164.33 107.6h2.10v5.74h-2.10zM168.17 107.6h4.19v5.74h-4.19zM176.32 107.6h2.34v5.74h-2.34zM182.88 107.6h2.47v5.74h-2.47zM194.72 107.6h10.56v5.74h-10.56zM105.30 113.1h1.30v5.74h-1.30zM111.90 113.1h1.30v5.74h-1.30zM122.90 113.1h2.40v5.74h-2.40zM133.33 113.1h2.77v5.74h-2.77zM137.23 113.1h1.55v5.74h-1.55zM144.27 113.1h1.69v5.74h-1.69zM160.65 113.1h9.70v5.74h-9.70zM94.30 145.7h1.30v5.74h-1.30zM114.10 145.7h1.30v5.74h-1.30zM116.30 145.7h1.30v5.74h-1.30zM134.61 145.7h1.50v5.74h-1.50zM144.27 145.7h1.69v5.74h-1.69zM148.84 145.7h1.79v5.74h-1.79zM103.10 151.1h1.30v5.74h-1.30zM120.70 151.1h1.30v5.74h-1.30zM122.90 151.1h3.51v5.74h-3.51zM137.23 151.1h1.55v5.74h-1.55zM141.37 151.1h1.64v5.74h-1.64zM144.27 151.1h1.69v5.74h-1.69zM148.84 151.1h3.41v5.74h-3.41zM160.65 151.1h2.03v5.74h-2.03zM94.30 156.6h1.30v5.74h-1.30zM108.60 156.6h1.30v5.74h-1.30zM115.20 156.6h1.30v5.74h-1.30zM121.80 156.6h1.30v5.74h-1.30zM132.09 156.6h1.45v5.74h-1.45zM135.91 156.6h1.53v5.74h-1.53zM91.00 162.0h1.30v5.74h-1.30zM91.00 167.4h1.30v5.74h-1.30zM94.30 167.4h1.30v5.74h-1.30zM162.47 172.9h2.06v5.74h-2.06zM172.17 172.9h2.26v5.74h-2.26zM120.70 178.3h1.30v5.74h-1.30zM109.70 189.2h1.30v5.74h-1.30zM111.90 189.2h1.30v5.74h-1.30zM116.30 189.2h2.40v5.74h-2.40zM122.90 189.2h1.30v5.74h-1.30zM92.10 194.6h1.30v5.74h-1.30zM94.30 194.6h1.30v5.74h-1.30zM99.80 194.6h1.30v5.74h-1.30zM103.10 194.6h1.30v5.74h-1.30zM106.40 194.6h1.30v5.74h-1.30zM109.70 194.6h1.30v5.74h-1.30zM114.10 194.6h1.30v5.74h-1.30zM116.30 194.6h1.30v5.74h-1.30zM119.60 194.6h1.30v5.74h-1.30zM124.00 194.6h1.30v5.74h-1.30zM126.21 194.6h1.33v5.74h-1.33zM92.10 200.1h1.30v5.74h-1.30zM95.40 200.1h1.30v5.74h-1.30zM100.90 200.1h3.50v5.74h-3.50zM109.70 200.1h1.30v5.74h-1.30zM113.00 200.1h1.30v5.74h-1.30zM115.20 200.1h1.30v5.74h-1.30zM125.10 200.1h1.31v5.74h-1.31zM85.50 221.8h1.30v5.74h-1.30zM81.10 238.1h1.30v5.74h-1.30zM83.30 238.1h2.40v5.74h-2.40zM88.80 238.1h1.30v5.74h-1.30zM93.20 238.1h1.30v5.74h-1.30zM82.20 243.6h2.40v5.74h-2.40zM87.70 243.6h2.40v5.74h-2.40zM92.10 243.6h1.30v5.74h-1.30zM95.40 243.6h2.40v5.74h-2.40zM89.90 249.0h1.30v5.74h-1.30zM82.20 281.6h1.30v5.74h-1.30zM87.70 281.6h1.30v5.74h-1.30zM89.90 287.1h1.30v5.74h-1.30zM93.20 287.1h1.30v5.74h-1.30zM82.20 292.5h1.30v5.74h-1.30zM94.30 292.5h1.30v5.74h-1.30zM114.10 292.5h1.30v5.74h-1.30zM128.49 292.5h1.38v5.74h-1.38zM128.49 297.9h2.57v5.74h-2.57zM128.49 303.4h1.38v5.74h-1.38zM127.34 308.8h2.53v5.74h-2.53zM128.49 314.2h1.38v5.74h-1.38zM129.66 319.7h1.40v5.74h-1.40zM84.40 325.1h2.40v5.74h-2.40zM88.80 325.1h1.30v5.74h-1.30zM91.00 325.1h1.30v5.74h-1.30zM96.50 325.1h1.30v5.74h-1.30zM84.40 330.6h2.40v5.74h-2.40zM89.90 330.6h1.30v5.74h-1.30zM92.10 330.6h3.50v5.74h-3.50zM125.10 346.9h1.31v5.74h-1.31zM125.10 352.3h1.31v5.74h-1.31zM82.20 368.6h1.30v5.74h-1.30zM84.40 368.6h1.30v5.74h-1.30zM87.70 368.6h3.50v5.74h-3.50zM93.20 368.6h3.50v5.74h-3.50zM80.00 374.1h1.30v5.74h-1.30zM88.80 374.1h2.40v5.74h-2.40zM93.20 374.1h1.30v5.74h-1.30zM95.40 374.1h1.30v5.74h-1.30zM120.70 390.4h1.30v5.74h-1.30zM82.20 395.8h1.30v5.74h-1.30zM86.60 395.8h1.30v5.74h-1.30zM84.40 401.2h1.30v5.74h-1.30zM86.60 401.2h1.30v5.74h-1.30zM80.00 406.7h2.40v5.74h-2.40zM84.40 406.7h2.40v5.74h-2.40zM82.20 412.1h2.40v5.74h-2.40zM85.50 412.1h1.30v5.74h-1.30zM122.90 412.1h1.30v5.74h-1.30zM84.40 417.6h1.30v5.74h-1.30zM86.60 417.6h1.30v5.74h-1.30zM92.10 417.6h1.30v5.74h-1.30zM95.40 417.6h1.30v5.74h-1.30zM87.70 423.0h1.30v5.74h-1.30zM92.10 423.0h1.30v5.74h-1.30zM96.50 423.0h1.30v5.74h-1.30zM80.00 428.4h1.30v5.74h-1.30zM82.20 428.4h1.30v5.74h-1.30zM85.50 428.4h1.30v5.74h-1.30zM118.50 428.4h1.30v5.74h-1.30zM81.10 433.9h1.30v5.74h-1.30zM86.60 433.9h1.30v5.74h-1.30zM83.30 444.8h1.30v5.74h-1.30zM85.50 450.2h1.30v5.74h-1.30zM83.30 455.6h1.30v5.74h-1.30zM92.10 455.6h1.30v5.74h-1.30zM94.30 455.6h1.30v5.74h-1.30zM96.50 455.6h1.30v5.74h-1.30zM82.20 461.1h1.30v5.74h-1.30zM85.50 461.1h1.30v5.74h-1.30zM88.80 461.1h1.30v5.74h-1.30zM92.10 461.1h1.30v5.74h-1.30zM95.40 461.1h2.40v5.74h-2.40zM81.10 466.5h1.30v5.74h-1.30zM86.60 466.5h1.30v5.74h-1.30zM92.10 466.5h1.30v5.74h-1.30zM95.40 466.5h1.30v5.74h-1.30zM80.00 471.9h1.30v5.74h-1.30zM82.20 477.4h1.30v5.74h-1.30zM81.10 482.8h1.30v5.74h-1.30zM81.10 488.2h2.40v5.74h-2.40zM124.00 488.2h1.30v5.74h-1.30zM87.70 493.7h1.30v5.74h-1.30zM119.60 493.7h1.30v5.74h-1.30zM81.10 499.1h1.30v5.74h-1.30zM91.00 499.1h5.70v5.74h-5.70zM85.50 504.6h2.40v5.74h-2.40zM88.80 504.6h1.30v5.74h-1.30zM91.00 504.6h1.30v5.74h-1.30zM126.21 504.6h1.33v5.74h-1.33z"/>
<path fill="#00ff40" stroke="none" d="M202.41 85.9h2.87v5.74h-2.87zM133.33 96.8h1.47v5.74h-1.47zM96.50 102.2h1.30v5.74h-1.30zM110.80 102.2h1.30v5.74h-1.30zM125.10 102.2h1.31v5.74h-1.31zM130.86 102.2h2.67v5.74h-2.67zM144.27 102.2h1.69v5.74h-1.69zM152.05 102.2h1.85v5.74h-1.85zM172.17 102.2h2.26v5.74h-2.26zM176.32 102.2h2.34v5.74h-2.34zM192.25 102.2h2.66v5.74h-2.66zM199.79 102.2h2.82v5.74h-2.82zM205.08 102.2h2.92v5.74h-2.92zM95.40 107.6h1.30v5.74h-1.30zM109.70 107.6h1.30v5.74h-1.30zM130.86 107.6h1.42v5.74h-1.42zM133.33 107.6h2.77v5.74h-2.77zM139.96 107.6h1.61v5.74h-1.61zM142.81 107.6h1.66v5.74h-1.66zM162.47 107.6h2.06v5.74h-2.06zM185.15 107.6h2.52v5.74h-2.52zM205.08 107.6h2.92v5.74h-2.92zM95.40 113.1h1.30v5.74h-1.30zM100.90 113.1h1.30v5.74h-1.30zM104.20 113.1h1.30v5.74h-1.30zM117.40 113.1h1.30v5.74h-1.30zM119.60 113.1h2.40v5.74h-2.40zM125.10 113.1h1.31v5.74h-1.31zM145.77 113.1h1.72v5.74h-1.72zM157.10 113.1h3.74v5.74h-3.74zM170.15 113.1h2.22v5.74h-2.22zM187.47 113.1h2.57v5.74h-2.57zM194.72 113.1h2.71v5.74h-2.71zM93.20 145.7h1.30v5.74h-1.30zM100.90 145.7h2.40v5.74h-2.40zM106.40 145.7h2.40v5.74h-2.40zM110.80 145.7h1.30v5.74h-1.30zM119.60 145.7h1.30v5.74h-1.30zM124.00 145.7h1.30v5.74h-1.30zM126.21 145.7h1.33v5.74h-1.33zM139.96 145.7h1.61v5.74h-1.61zM142.81 145.7h1.66v5.74h-1.66zM93.20 151.1h1.30v5.74h-1.30zM102.00 151.1h1.30v5.74h-1.30zM110.80 151.1h1.30v5.74h-1.30zM133.33 151.1h1.47v5.74h-1.47zM142.81 151.1h1.66v5.74h-1.66zM145.77 151.1h3.28v5.74h-3.28zM152.05 151.1h7.01v5.74h-7.01zM162.47 151.1h3.96v5.74h-3.96zM168.17 151.1h2.18v5.74h-2.18zM102.00 156.6h1.30v5.74h-1.30zM113.00 156.6h1.30v5.74h-1.30zM120.70 156.6h1.30v5.74h-1.30zM133.33 156.6h1.47v5.74h-1.47zM168.17 172.9h4.19v5.74h-4.19zM174.22 172.9h4.44v5.74h-4.44zM182.88 172.9h2.47v5.74h-2.47zM197.23 172.9h2.76v5.74h-2.76zM205.08 172.9h2.92v5.74h-2.92zM92.10 189.2h3.50v5.74h-3.50zM103.10 189.2h1.30v5.74h-1.30zM115.20 189.2h1.30v5.74h-1.30zM110.80 194.6h1.30v5.74h-1.30zM113.00 194.6h1.30v5.74h-1.30zM120.70 194.6h2.40v5.74h-2.40zM107.50 200.1h1.30v5.74h-1.30zM114.10 200.1h1.30v5.74h-1.30zM117.40 200.1h1.30v5.74h-1.30zM121.80 200.1h1.30v5.74h-1.30zM89.90 238.1h2.40v5.74h-2.40zM81.10 243.6h1.30v5.74h-1.30zM89.90 243.6h1.30v5.74h-1.30zM93.20 243.6h1.30v5.74h-1.30zM92.10 254.4h1.30v5.74h-1.30zM96.50 265.3h1.30v5.74h-1.30zM127.34 270.8h1.35v5.74h-1.35zM129.66 270.8h1.40v5.74h-1.40zM127.34 276.2h1.35v5.74h-1.35zM129.66 276.2h1.40v5.74h-1.40zM80.00 281.6h2.40v5.74h-2.40zM84.40 281.6h1.30v5.74h-1.30zM86.60 281.6h1.30v5.74h-1.30zM92.10 281.6h1.30v5.74h-1.30zM94.30 281.6h2.40v5.74h-2.40zM106.40 281.6h1.30v5.74h-1.30zM128.49 281.6h2.57v5.74h-2.57zM80.00 287.1h1.30v5.74h-1.30zM85.50 287.1h1.30v5.74h-1.30zM87.70 287.1h1.30v5.74h-1.30zM91.00 287.1h2.40v5.74h-2.40zM127.34 287.1h3.73v5.74h-3.73zM126.21 292.5h2.48v5.74h-2.48zM129.66 292.5h1.40v5.74h-1.40zM127.34 297.9h1.35v5.74h-1.35zM127.34 303.4h1.35v5.74h-1.35zM129.66 303.4h1.40v5.74h-1.40zM83.30 325.1h1.30v5.74h-1.30zM92.10 325.1h1.30v5.74h-1.30zM94.30 325.1h1.30v5.74h-1.30zM83.30 330.6h1.30v5.74h-1.30zM87.70 330.6h1.30v5.74h-1.30zM91.00 330.6h1.30v5.74h-1.30zM96.50 330.6h1.30v5.74h-1.30zM119.60 330.6h1.30v5.74h-1.30zM122.90 330.6h1.30v5.74h-1.30zM119.60 336.0h1.30v5.74h-1.30zM121.80 363.2h1.30v5.74h-1.30zM80.00 368.6h2.40v5.74h-2.40zM85.50 368.6h1.30v5.74h-1.30zM91.00 368.6h1.30v5.74h-1.30zM82.20 374.1h1.30v5.74h-1.30zM87.70 374.1h1.30v5.74h-1.30zM92.10 374.1h1.30v5.74h-1.30zM96.50 374.1h1.30v5.74h-1.30zM81.10 384.9h1.30v5.74h-1.30zM84.40 384.9h1.30v5.74h-1.30zM86.60 384.9h1.30v5.74h-1.30zM82.20 390.4h1.30v5.74h-1.30zM86.60 390.4h1.30v5.74h-1.30zM126.21 390.4h1.33v5.74h-1.33zM81.10 395.8h1.30v5.74h-1.30zM84.40 395.8h1.30v5.74h-1.30zM83.30 401.2h1.30v5.74h-1.30zM86.60 406.7h1.30v5.74h-1.30zM122.90 406.7h1.30v5.74h-1.30zM80.00 412.1h1.30v5.74h-1.30zM89.90 412.1h1.30v5.74h-1.30zM94.30 412.1h3.50v5.74h-3.50zM81.10 417.6h3.50v5.74h-3.50zM87.70 417.6h1.30v5.74h-1.30zM89.90 417.6h2.40v5.74h-2.40zM93.20 417.6h2.40v5.74h-2.40zM96.50 417.6h1.30v5.74h-1.30zM82.20 423.0h2.40v5.74h-2.40zM85.50 423.0h2.40v5.74h-2.40zM88.80 423.0h1.30v5.74h-1.30zM91.00 423.0h1.30v5.74h-1.30zM94.30 423.0h2.40v5.74h-2.40zM84.40 428.4h1.30v5.74h-1.30zM86.60 428.4h1.30v5.74h-1.30zM84.40 433.9h1.30v5.74h-1.30zM84.40 439.3h1.30v5.74h-1.30zM80.00 455.6h3.50v5.74h-3.50zM84.40 455.6h1.30v5.74h-1.30zM91.00 455.6h1.30v5.74h-1.30zM93.20 455.6h1.30v5.74h-1.30zM95.40 455.6h1.30v5.74h-1.30zM121.80 455.6h1.30v5.74h-1.30zM80.00 461.1h1.30v5.74h-1.30zM84.40 461.1h1.30v5.74h-1.30zM87.70 461.1h1.30v5.74h-1.30zM91.00 461.1h1.30v5.74h-1.30zM93.20 461.1h1.30v5.74h-1.30zM83.30 466.5h1.30v5.74h-1.30zM85.50 466.5h1.30v5.74h-1.30zM88.80 466.5h1.30v5.74h-1.30zM96.50 466.5h1.30v5.74h-1.30zM87.70 477.4h1.30v5.74h-1.30zM82.20 482.8h1.30v5.74h-1.30zM87.70 482.8h1.30v5.74h-1.30zM124.00 482.8h1.30v5.74h-1.30zM87.70 488.2h1.30v5.74h-1.30zM82.20 499.1h1.30v5.74h-1.30zM88.80 499.1h1.30v5.74h-1.30zM82.20 504.6h1.30v5.74h-1.30zM87.70 504.6h1.30v5.74h-1.30zM94.30 504.6h1.30v5.74h-1.30z"/>
<path fill="#00ff2b" stroke="none" d="M109.70 145.7h1.30v5.74h-1.30zM158.86 151.1h1.99v5.74h-1.99zM166.23 151.1h2.14v5.74h-2.14zM170.15 151.1h6.37v5.74h-6.37zM185.15 151.1h2.52v5.74h-2.52zM189.84 151.1h2.61v5.74h-2.61zM194.72 151.1h5.28v5.74h-5.28zM205.08 151.1h2.92v5.74h-2.92zM142.81 167.4h6.24v5.74h-6.24zM150.43 167.4h5.15v5.74h-5.15zM158.86 167.4h1.99v5.74h-1.99zM166.23 167.4h2.14v5.74h-2.14zM178.46 172.9h4.61v5.74h-4.61zM185.15 172.9h12.28v5.74h-12.28zM199.79 172.9h5.48v5.74h-5.48zM87.70 189.2h1.30v5.74h-1.30zM96.50 189.2h1.30v5.74h-1.30zM80.00 194.6h2.40v5.74h-2.40zM96.50 194.6h1.30v5.74h-1.30zM80.00 200.1h1.30v5.74h-1.30zM84.40 200.1h2.40v5.74h-2.40zM87.70 200.1h1.30v5.74h-1.30zM91.00 200.1h1.30v5.74h-1.30zM93.20 200.1h1.30v5.74h-1.30zM118.50 200.1h1.30v5.74h-1.30zM82.20 238.1h1.30v5.74h-1.30zM87.70 238.1h1.30v5.74h-1.30zM94.30 238.1h1.30v5.74h-1.30zM96.50 238.1h1.30v5.74h-1.30zM129.66 238.1h1.40v5.74h-1.40zM80.00 243.6h1.30v5.74h-1.30zM84.40 243.6h1.30v5.74h-1.30zM127.34 243.6h1.35v5.74h-1.35zM127.34 249.0h1.35v5.74h-1.35zM128.49 254.4h1.38v5.74h-1.38zM127.34 259.9h1.35v5.74h-1.35zM129.66 259.9h1.40v5.74h-1.40zM127.34 265.3h3.73v5.74h-3.73zM128.49 270.8h1.38v5.74h-1.38zM128.49 276.2h1.38v5.74h-1.38zM83.30 281.6h1.30v5.74h-1.30zM89.90 281.6h1.30v5.74h-1.30zM93.20 281.6h1.30v5.74h-1.30zM96.50 281.6h1.30v5.74h-1.30zM127.34 281.6h1.35v5.74h-1.35zM84.40 287.1h1.30v5.74h-1.30zM86.60 287.1h1.30v5.74h-1.30zM88.80 287.1h1.30v5.74h-1.30zM94.30 287.1h1.30v5.74h-1.30zM96.50 287.1h1.30v5.74h-1.30zM122.90 297.9h1.30v5.74h-1.30zM80.00 325.1h3.50v5.74h-3.50zM87.70 325.1h1.30v5.74h-1.30zM82.20 330.6h1.30v5.74h-1.30zM86.60 330.6h1.30v5.74h-1.30zM95.40 330.6h1.30v5.74h-1.30zM92.10 368.6h1.30v5.74h-1.30zM96.50 368.6h1.30v5.74h-1.30zM81.10 374.1h1.30v5.74h-1.30zM83.30 374.1h1.30v5.74h-1.30zM85.50 374.1h1.30v5.74h-1.30zM91.00 374.1h1.30v5.74h-1.30zM82.20 384.9h1.30v5.74h-1.30zM84.40 390.4h1.30v5.74h-1.30zM81.10 412.1h1.30v5.74h-1.30zM84.40 412.1h1.30v5.74h-1.30zM86.60 412.1h1.30v5.74h-1.30zM88.80 412.1h1.30v5.74h-1.30zM85.50 417.6h1.30v5.74h-1.30zM80.00 423.0h2.40v5.74h-2.40zM89.90 423.0h1.30v5.74h-1.30zM93.20 423.0h1.30v5.74h-1.30zM81.10 428.4h1.30v5.74h-1.30zM80.00 433.9h1.30v5.74h-1.30zM80.00 439.3h1.30v5.74h-1.30zM84.40 450.2h1.30v5.74h-1.30zM125.10 450.2h1.31v5.74h-1.31zM85.50 455.6h1.30v5.74h-1.30zM87.70 455.6h1.30v5.74h-1.30zM89.90 455.6h1.30v5.74h-1.30zM83.30 461.1h1.30v5.74h-1.30zM94.30 461.1h1.30v5.74h-1.30zM80.00 466.5h1.30v5.74h-1.30zM84.40 466.5h1.30v5.74h-1.30zM87.70 466.5h1.30v5.74h-1.30zM94.30 466.5h1.30v5.74h-1.30zM85.50 471.9h1.30v5.74h-1.30zM87.70 471.9h1.30v5.74h-1.30zM85.50 477.4h1.30v5.74h-1.30zM83.30 499.1h5.70v5.74h-5.70zM96.50 499.1h1.30v5.74h-1.30zM81.10 504.6h1.30v5.74h-1.30zM83.30 504.6h1.30v5.74h-1.30zM89.90 504.6h1.30v5.74h-1.30zM93.20 504.6h1.30v5.74h-1.30zM95.40 504.6h1.30v5.74h-1.30zM119.60 504.6h1.30v5.74h-1.30z"/>
<path fill="#00ff15" stroke="none" d="M155.39 85.9h1.92v5.74h-1.92zM153.70 118.5h1.88v5.74h-1.88zM153.70 123.9h3.60v5.74h-3.60zM153.70 129.4h1.88v5.74h-1.88zM176.32 151.1h9.03v5.74h-9.03zM187.47 151.1h2.57v5.74h-2.57zM192.25 151.1h2.66v5.74h-2.66zM199.79 151.1h5.48v5.74h-5.48zM127.34 156.6h1.35v5.74h-1.35zM129.66 156.6h1.40v5.74h-1.40zM142.81 156.6h1.66v5.74h-1.66zM145.77 156.6h6.48v5.74h-6.48zM158.86 156.6h1.99v5.74h-1.99zM127.34 162.0h1.35v5.74h-1.35zM129.66 162.0h1.40v5.74h-1.40zM148.84 167.4h1.79v5.74h-1.79zM155.39 167.4h3.67v5.74h-3.67zM160.65 167.4h5.79v5.74h-5.79zM168.17 167.4h4.19v5.74h-4.19zM89.90 189.2h1.30v5.74h-1.30zM129.66 189.2h1.40v5.74h-1.40zM84.40 194.6h1.30v5.74h-1.30zM87.70 194.6h1.30v5.74h-1.30zM127.34 200.1h2.53v5.74h-2.53zM127.34 205.5h3.73v5.74h-3.73zM128.49 210.9h2.57v5.74h-2.57zM127.34 216.4h3.73v5.74h-3.73zM127.34 221.8h3.73v5.74h-3.73zM127.34 227.2h1.35v5.74h-1.35zM129.66 227.2h1.40v5.74h-1.40zM129.66 232.7h1.40v5.74h-1.40zM80.00 238.1h1.30v5.74h-1.30zM92.10 238.1h1.30v5.74h-1.30zM127.34 238.1h1.35v5.74h-1.35zM86.60 243.6h1.30v5.74h-1.30zM91.00 243.6h1.30v5.74h-1.30zM94.30 243.6h1.30v5.74h-1.30zM129.66 243.6h1.40v5.74h-1.40zM128.49 249.0h1.38v5.74h-1.38zM127.34 254.4h1.35v5.74h-1.35zM129.66 254.4h1.40v5.74h-1.40zM128.49 259.9h1.38v5.74h-1.38zM85.50 281.6h1.30v5.74h-1.30zM91.00 281.6h1.30v5.74h-1.30zM81.10 287.1h1.30v5.74h-1.30zM95.40 287.1h1.30v5.74h-1.30zM86.60 325.1h1.30v5.74h-1.30zM89.90 325.1h1.30v5.74h-1.30zM95.40 325.1h1.30v5.74h-1.30zM80.00 330.6h2.40v5.74h-2.40zM86.60 368.6h1.30v5.74h-1.30zM84.40 374.1h1.30v5.74h-1.30zM86.60 374.1h1.30v5.74h-1.30zM94.30 374.1h1.30v5.74h-1.30zM119.60 482.8h1.30v5.74h-1.30zM119.60 488.2h1.30v5.74h-1.30z"/>
<path fill="#00ff00" stroke="none" d="M153.70 80.4h3.60v5.74h-3.60zM127.34 91.3h1.35v5.74h-1.35zM153.70 91.3h3.60v5.74h-3.60zM153.70 96.8h1.88v5.74h-1.88zM80.00 102.2h2.40v5.74h-2.40zM83.30 102.2h1.30v5.74h-1.30zM127.34 102.2h1.35v5.74h-1.35zM155.39 102.2h1.92v5.74h-1.92zM85.50 107.6h1.30v5.74h-1.30zM128.49 107.6h1.38v5.74h-1.38zM153.70 107.6h3.60v5.74h-3.60zM84.40 113.1h1.30v5.74h-1.30zM127.34 113.1h1.35v5.74h-1.35zM155.39 113.1h1.92v5.74h-1.92zM128.49 118.5h2.57v5.74h-2.57zM155.39 118.5h1.92v5.74h-1.92zM129.66 123.9h1.40v5.74h-1.40zM127.34 129.4h3.73v5.74h-3.73zM155.39 129.4h1.92v5.74h-1.92zM128.49 134.8h2.57v5.74h-2.57zM155.39 134.8h1.92v5.74h-1.92zM127.34 140.2h2.53v5.74h-2.53zM87.70 145.7h1.30v5.74h-1.30zM91.00 145.7h1.30v5.74h-1.30zM127.34 145.7h1.35v5.74h-1.35zM129.66 145.7h1.40v5.74h-1.40zM83.30 151.1h1.30v5.74h-1.30zM127.34 151.1h3.73v5.74h-3.73zM128.49 156.6h1.38v5.74h-1.38zM144.27 156.6h1.69v5.74h-1.69zM152.05 156.6h7.01v5.74h-7.01zM160.65 156.6h9.70v5.74h-9.70zM128.49 162.0h1.38v5.74h-1.38zM142.81 162.0h12.78v5.74h-12.78zM158.86 162.0h3.81v5.74h-3.81zM164.33 162.0h4.04v5.74h-4.04zM127.34 167.4h3.73v5.74h-3.73zM176.32 167.4h11.35v5.74h-11.35zM189.84 167.4h2.61v5.74h-2.61zM197.23 167.4h2.76v5.74h-2.76zM127.34 172.9h3.73v5.74h-3.73zM127.34 178.3h3.73v5.74h-3.73zM127.34 183.8h3.73v5.74h-3.73zM81.10 189.2h2.40v5.74h-2.40zM85.50 189.2h1.30v5.74h-1.30zM88.80 189.2h1.30v5.74h-1.30zM127.34 189.2h2.53v5.74h-2.53zM82.20 194.6h1.30v5.74h-1.30zM88.80 194.6h2.40v5.74h-2.40zM127.34 194.6h3.73v5.74h-3.73zM83.30 200.1h1.30v5.74h-1.30zM86.60 200.1h1.30v5.74h-1.30zM88.80 200.1h1.30v5.74h-1.30zM129.66 200.1h1.40v5.74h-1.40zM127.34 210.9h1.35v5.74h-1.35zM128.49 227.2h1.38v5.74h-1.38zM127.34 232.7h2.53v5.74h-2.53zM128.49 238.1h1.38v5.74h-1.38zM128.49 243.6h1.38v5.74h-1.38zM129.66 249.0h1.40v5.74h-1.40z"/>
<path fill="#2bff00" stroke="none" d="M128.49 80.4h2.57v5.74h-2.57zM127.34 85.9h3.73v5.74h-3.73zM153.70 85.9h1.88v5.74h-1.88zM128.49 91.3h2.57v5.74h-2.57zM127.34 96.8h3.73v5.74h-3.73zM155.39 96.8h1.92v5.74h-1.92zM128.49 102.2h2.57v5.74h-2.57zM153.70 102.2h1.88v5.74h-1.88zM80.00 107.6h1.30v5.74h-1.30zM83.30 107.6h1.30v5.74h-1.30zM127.34 107.6h1.35v5.74h-1.35zM129.66 107.6h1.40v5.74h-1.40zM82.20 113.1h2.40v5.74h-2.40zM86.60 113.1h1.30v5.74h-1.30zM88.80 113.1h1.30v5.74h-1.30zM91.00 113.1h1.30v5.74h-1.30zM128.49 113.1h2.57v5.74h-2.57zM153.70 113.1h1.88v5.74h-1.88zM127.34 118.5h1.35v5.74h-1.35zM127.34 123.9h2.53v5.74h-2.53zM127.34 134.8h1.35v5.74h-1.35zM153.70 134.8h1.88v5.74h-1.88zM129.66 140.2h1.40v5.74h-1.40zM83.30 145.7h1.30v5.74h-1.30zM89.90 145.7h1.30v5.74h-1.30zM128.49 145.7h1.38v5.74h-1.38zM85.50 151.1h1.30v5.74h-1.30zM87.70 151.1h1.30v5.74h-1.30zM81.10 156.6h1.30v5.74h-1.30zM170.15 156.6h8.52v5.74h-8.52zM182.88 156.6h4.79v5.74h-4.79zM194.72 156.6h2.71v5.74h-2.71zM199.79 156.6h8.21v5.74h-8.21zM155.39 162.0h3.67v5.74h-3.67zM162.47 162.0h2.06v5.74h-2.06zM172.17 167.4h4.36v5.74h-4.36zM187.47 167.4h2.57v5.74h-2.57zM192.25 167.4h5.18v5.74h-5.18zM199.79 167.4h2.82v5.74h-2.82zM80.00 189.2h1.30v5.74h-1.30zM83.30 189.2h2.40v5.74h-2.40zM91.00 189.2h1.30v5.74h-1.30zM86.60 194.6h1.30v5.74h-1.30zM82.20 200.1h1.30v5.74h-1.30z"/>
<path fill="#55ff00" stroke="none" d="M127.34 80.4h1.35v5.74h-1.35zM86.60 102.2h1.30v5.74h-1.30zM81.10 107.6h2.40v5.74h-2.40zM86.60 107.6h2.40v5.74h-2.40zM89.90 107.6h2.40v5.74h-2.40zM81.10 113.1h1.30v5.74h-1.30zM87.70 113.1h1.30v5.74h-1.30zM80.00 145.7h2.40v5.74h-2.40zM85.50 145.7h2.40v5.74h-2.40zM88.80 145.7h1.30v5.74h-1.30zM82.20 151.1h1.30v5.74h-1.30zM88.80 151.1h1.30v5.74h-1.30zM80.00 156.6h1.30v5.74h-1.30zM82.20 156.6h2.40v5.74h-2.40zM86.60 156.6h4.60v5.74h-4.60zM178.46 156.6h4.61v5.74h-4.61zM187.47 156.6h7.45v5.74h-7.45zM197.23 156.6h2.76v5.74h-2.76zM168.17 162.0h4.19v5.74h-4.19zM178.46 162.0h2.38v5.74h-2.38zM182.88 162.0h4.79v5.74h-4.79zM192.25 162.0h5.18v5.74h-5.18zM199.79 162.0h2.82v5.74h-2.82zM86.60 189.2h1.30v5.74h-1.30zM83.30 194.6h1.30v5.74h-1.30zM85.50 194.6h1.30v5.74h-1.30zM91.00 194.6h1.30v5.74h-1.30zM81.10 200.1h1.30v5.74h-1.30zM89.90 200.1h1.30v5.74h-1.30z"/>
<path fill="#80ff00" stroke="none" d="M180.65 80.4h2.43v5.74h-2.43zM82.20 102.2h1.30v5.74h-1.30zM84.40 102.2h1.30v5.74h-1.30zM87.70 102.2h2.40v5.74h-2.40zM91.00 102.2h1.30v5.74h-1.30zM182.88 102.2h2.47v5.74h-2.47zM84.40 107.6h1.30v5.74h-1.30zM88.80 107.6h1.30v5.74h-1.30zM80.00 113.1h1.30v5.74h-1.30zM85.50 113.1h1.30v5.74h-1.30zM89.90 113.1h1.30v5.74h-1.30zM82.20 145.7h1.30v5.74h-1.30zM84.40 151.1h1.30v5.74h-1.30zM86.60 151.1h1.30v5.74h-1.30zM89.90 151.1h1.30v5.74h-1.30zM84.40 156.6h1.30v5.74h-1.30zM172.17 162.0h6.50v5.74h-6.50zM180.65 162.0h2.43v5.74h-2.43zM187.47 162.0h4.98v5.74h-4.98zM197.23 162.0h2.76v5.74h-2.76z"/>
<path fill="#aaff00" stroke="none" d="M182.88 80.4h2.47v5.74h-2.47zM180.65 85.9h2.43v5.74h-2.43zM182.88 91.3h2.47v5.74h-2.47zM180.65 96.8h4.70v5.74h-4.70zM85.50 102.2h1.30v5.74h-1.30zM89.90 102.2h1.30v5.74h-1.30zM180.65 102.2h2.43v5.74h-2.43zM84.40 145.7h1.30v5.74h-1.30zM80.00 151.1h2.40v5.74h-2.40zM91.00 151.1h1.30v5.74h-1.30zM85.50 156.6h1.30v5.74h-1.30zM91.00 156.6h1.30v5.74h-1.30z"/>
<path fill="#d4ff00" stroke="none" d="M97.60 80.4h2.40v5.74h-2.40zM97.60 85.9h2.40v5.74h-2.40zM182.88 85.9h2.47v5.74h-2.47zM97.60 91.3h2.40v5.74h-2.40zM180.65 91.3h2.43v5.74h-2.43zM97.60 96.8h2.40v5.74h-2.40zM97.60 102.2h2.40v5.74h-2.40zM97.60 107.6h2.40v5.74h-2.40zM97.60 113.1h2.40v5.74h-2.40zM97.60 118.5h2.40v5.74h-2.40zM97.60 123.9h2.40v5.74h-2.40zM97.60 129.4h2.40v5.74h-2.40zM97.60 134.8h2.40v5.74h-2.40zM97.60 140.2h2.40v5.74h-2.40zM97.60 145.7h2.40v5.74h-2.40zM97.60 151.1h2.40v5.74h-2.40zM97.60 156.6h2.40v5.74h-2.40zM97.60 162.0h2.40v5.74h-2.40zM202.41 162.0h5.59v5.74h-5.59zM97.60 167.4h2.40v5.74h-2.40zM202.41 167.4h2.87v5.74h-2.87zM97.60 172.9h2.40v5.74h-2.40zM97.60 178.3h2.40v5.74h-2.40zM97.60 183.8h2.40v5.74h-2.40zM97.60 189.2h2.40v5.74h-2.40zM97.60 194.6h2.40v5.74h-2.40zM97.60 200.1h2.40v5.74h-2.40zM97.60 205.5h2.40v5.74h-2.40zM97.60 210.9h2.40v5.74h-2.40zM97.60 216.4h2.40v5.74h-2.40zM97.60 221.8h2.40v5.74h-2.40zM97.60 227.2h2.40v5.74h-2.40zM97.60 232.7h2.40v5.74h-2.40zM97.60 238.1h2.40v5.74h-2.40zM97.60 243.6h2.40v5.74h-2.40zM97.60 249.0h2.40v5.74h-2.40zM97.60 254.4h2.40v5.74h-2.40zM97.60 259.9h2.40v5.74h-2.40zM97.60 265.3h2.40v5.74h-2.40zM97.60 270.8h2.40v5.74h-2.40zM97.60 276.2h2.40v5.74h-2.40zM97.60 281.6h2.40v5.74h-2.40zM97.60 287.1h2.40v5.74h-2.40zM97.60 292.5h2.40v5.74h-2.40zM97.60 297.9h2.40v5.74h-2.40zM97.60 303.4h2.40v5.74h-2.40zM97.60 308.8h2.40v5.74h-2.40zM97.60 314.2h2.40v5.74h-2.40zM97.60 319.7h2.40v5.74h-2.40zM97.60 325.1h2.40v5.74h-2.40zM97.60 330.6h2.40v5.74h-2.40zM97.60 336.0h2.40v5.74h-2.40zM97.60 341.4h2.40v5.74h-2.40zM97.60 346.9h2.40v5.74h-2.40zM97.60 352.3h2.40v5.74h-2.40zM97.60 357.8h2.40v5.74h-2.40zM97.60 363.2h2.40v5.74h-2.40zM97.60 368.6h2.40v5.74h-2.40zM97.60 374.1h2.40v5.74h-2.40zM97.60 379.5h2.40v5.74h-2.40zM97.60 384.9h2.40v5.74h-2.40zM97.60 390.4h2.40v5.74h-2.40zM97.60 395.8h2.40v5.74h-2.40zM97.60 401.2h2.40v5.74h-2.40zM97.60 406.7h2.40v5.74h-2.40zM97.60 412.1h2.40v5.74h-2.40zM97.60 417.6h2.40v5.74h-2.40zM97.60 423.0h2.40v5.74h-2.40zM97.60 428.4h2.40v5.74h-2.40zM97.60 433.9h2.40v5.74h-2.40zM97.60 439.3h2.40v5.74h-2.40zM97.60 444.8h2.40v5.74h-2.40zM97.60 450.2h2.40v5.74h-2.40zM97.60 455.6h2.40v5.74h-2.40zM97.60 461.1h2.40v5.74h-2.40zM97.60 466.5h2.40v5.74h-2.40zM97.60 471.9h2.40v5.74h-2.40zM97.60 477.4h2.40v5.74h-2.40zM97.60 482.8h2.40v5.74h-2.40zM97.60 488.2h2.40v5.74h-2.40zM97.60 493.7h2.40v5.74h-2.40zM97.60 499.1h2.40v5.74h-2.40zM97.60 504.6h2.40v5.74h-2.40z"/>
<path fill="#ffff00" stroke="none" d="M205.08 167.4h2.92v5.74h-2.92z"/>
</g></g></g>
<g clip-path="url(#pc)"><rect x="98" y="75" width="1.9" height="435" fill="#f4ff00"/><rect x="127.3" y="75" width="2.6" height="225" fill="#40ff00" opacity="0.55"/><rect x="194.6" y="186" width="4.2" height="324" fill="#00ffff" opacity="0.5"/></g>
<path d="M70 60.50h9.5M75 66.50h4.5M75 72.50h4.5M75 78.50h4.5M75 84.50h4.5M75 90.50h4.5M75 96.50h4.5M75 102.50h4.5M75 108.50h4.5M75 114.50h4.5M70 120.50h9.5M75 126.50h4.5M75 132.50h4.5M75 138.50h4.5M75 144.50h4.5M75 150.50h4.5M75 156.50h4.5M75 162.50h4.5M75 168.50h4.5M75 174.50h4.5M70 180.50h9.5M75 186.50h4.5M75 192.50h4.5M75 198.50h4.5M75 204.50h4.5M75 210.50h4.5M75 216.50h4.5M75 222.50h4.5M75 228.50h4.5M75 234.50h4.5M70 240.50h9.5M75 246.50h4.5M75 252.50h4.5M75 258.50h4.5M75 264.50h4.5M75 270.50h4.5M75 277.50h4.5M75 283.50h4.5M75 289.50h4.5M75 295.50h4.5M70 301.50h9.5M75 307.50h4.5M75 313.50h4.5M75 319.50h4.5M75 325.50h4.5M75 331.50h4.5M75 337.50h4.5M75 343.50h4.5M75 349.50h4.5M75 355.50h4.5M70 361.50h9.5M75 367.50h4.5M75 373.50h4.5M75 379.50h4.5M75 385.50h4.5M75 391.50h4.5M75 397.50h4.5M75 403.50h4.5M75 409.50h4.5M75 415.50h4.5M70 421.50h9.5M75 427.50h4.5M75 433.50h4.5M75 439.50h4.5M75 445.50h4.5M75 451.50h4.5M75 457.50h4.5M75 463.50h4.5M75 469.50h4.5M75 475.50h4.5M70 481.50h9.5M75 487.50h4.5M75 493.50h4.5M75 499.50h4.5M75 505.50h4.5M80.50 510.4v4.5M90.50 510.4v4.5M99.50 510.4v4.5M109.50 510.4v4.5M118.50 510.4v4.5M128.50 510.4v4.5M138.50 510.4v4.5M147.50 510.4v4.5M157.50 510.4v4.5M167.50 510.4v9.5M176.50 510.4v4.5M186.50 510.4v4.5M195.50 510.4v4.5M205.50 510.4v4.5M215.50 510.4v4.5M224.50 510.4v4.5M234.50 510.4v4.5M244.50 510.4v4.5M253.50 510.4v4.5M263.50 510.4v9.5M273.50 510.4v4.5M282.50 510.4v4.5M292.50 510.4v4.5M301.50 510.4v4.5M311.50 510.4v4.5M321.50 510.4v4.5M330.50 510.4v4.5M340.50 510.4v4.5M350.50 510.4v4.5M359.50 510.4v9.5M369.50 510.4v4.5M378.50 510.4v4.5M388.50 510.4v4.5M398.50 510.4v4.5M407.50 510.4v4.5M417.50 510.4v4.5M427.50 510.4v4.5M436.50 510.4v4.5M446.50 510.4v4.5M455.50 510.4v9.5M465.50 510.4v4.5M475.50 510.4v4.5M484.50 510.4v4.5M494.50 510.4v4.5M504.50 510.4v4.5M513.50 510.4v4.5M523.50 510.4v4.5M533.50 510.4v4.5M542.50 510.4v4.5M552.50 510.4v9.5M561.50 510.4v4.5M571.50 510.4v4.5M581.50 510.4v4.5M590.50 510.4v4.5M600.50 510.4v4.5M600.6 60.50h9.3M600.6 100.50h4.3M600.6 140.50h9.3M600.6 180.50h4.3M600.6 220.50h9.3M600.6 260.50h4.3M600.6 301.50h9.3M600.6 341.50h4.3M600.6 381.50h9.3M600.6 421.50h4.3M600.6 461.50h9.3M600.6 501.50h4.3" stroke="#2b2624" stroke-width="1" fill="none"/>
<path d="M79.75 59V510.3H600.8" stroke="#2b2420" stroke-width="1" fill="none"/>
<rect x="599" y="505" width="1" height="5" fill="#fff"/>
<text x="68" y="65.10" text-anchor="end">0.</text>
<text x="68" y="125.24" text-anchor="end">1.</text>
<text x="68" y="185.38" text-anchor="end">2.</text>
<text x="68" y="245.52" text-anchor="end">3.</text>
<text x="68" y="305.66" text-anchor="end">4.</text>
<text x="68" y="365.80" text-anchor="end">5.</text>
<text x="68" y="425.94" text-anchor="end">6.</text>
<text x="68" y="486.08" text-anchor="end">7.</text>
<text x="167.6" y="537.3" text-anchor="middle">1.</text>
<text x="263.9" y="537.3" text-anchor="middle">2.</text>
<text x="360.2" y="537.3" text-anchor="middle">3.</text>
<text x="456.5" y="537.3" text-anchor="middle">4.</text>
<text x="552.8" y="537.3" text-anchor="middle">5.</text>
<text x="613.3" y="64.90">0.</text>
<text x="613.3" y="145.08">200.</text>
<text x="613.3" y="225.26">400.</text>
<text x="613.3" y="305.44">600.</text>
<text x="613.3" y="385.62">800.</text>
<text x="613.3" y="465.80">1000.</text>
<text x="348.4" y="558.2" text-anchor="middle">Frequency (MHz)</text>
<text transform="translate(39 279) rotate(-90)" text-anchor="middle">Time Delay (ms)</text>
<text transform="translate(653 284.7) rotate(90)" text-anchor="middle">Apparent Range (km)</text>
<defs><linearGradient id="cb" x1="0" y1="0" x2="0" y2="1"><stop offset="0" stop-color="#ff0000"/><stop offset="0.375" stop-color="#ffff00"/><stop offset="0.5" stop-color="#00ff00"/><stop offset="0.75" stop-color="#00ffff"/><stop offset="0.875" stop-color="#0000ff"/><stop offset="1" stop-color="#000080"/></linearGradient></defs>
<rect x="739.5" y="60.5" width="21" height="450" fill="url(#cb)"/>
<path d="M730.3 60.50h9.2M760.5 60.50h9.5M735.1 99.50h4.4M760.5 99.50h4.5M735.1 89.50h4.4M760.5 89.50h4.5M735.1 82.50h4.4M760.5 82.50h4.5M735.1 77.50h4.4M760.5 77.50h4.5M735.1 72.50h4.4M760.5 72.50h4.5M735.1 69.50h4.4M760.5 69.50h4.5M735.1 65.50h4.4M760.5 65.50h4.5M735.1 62.50h4.4M760.5 62.50h4.5M730.3 116.50h9.2M760.5 116.50h9.5M735.1 155.50h4.4M760.5 155.50h4.5M735.1 145.50h4.4M760.5 145.50h4.5M735.1 138.50h4.4M760.5 138.50h4.5M735.1 133.50h4.4M760.5 133.50h4.5M735.1 129.50h4.4M760.5 129.50h4.5M735.1 125.50h4.4M760.5 125.50h4.5M735.1 122.50h4.4M760.5 122.50h4.5M735.1 119.50h4.4M760.5 119.50h4.5M730.3 172.50h9.2M760.5 172.50h9.5M735.1 212.50h4.4M760.5 212.50h4.5M735.1 202.50h4.4M760.5 202.50h4.5M735.1 195.50h4.4M760.5 195.50h4.5M735.1 189.50h4.4M760.5 189.50h4.5M735.1 185.50h4.4M760.5 185.50h4.5M735.1 181.50h4.4M760.5 181.50h4.5M735.1 178.50h4.4M760.5 178.50h4.5M735.1 175.50h4.4M760.5 175.50h4.5M730.3 229.50h9.2M760.5 229.50h9.5M735.1 268.50h4.4M760.5 268.50h4.5M735.1 258.50h4.4M760.5 258.50h4.5M735.1 251.50h4.4M760.5 251.50h4.5M735.1 246.50h4.4M760.5 246.50h4.5M735.1 241.50h4.4M760.5 241.50h4.5M735.1 237.50h4.4M760.5 237.50h4.5M735.1 234.50h4.4M760.5 234.50h4.5M735.1 231.50h4.4M760.5 231.50h4.5M730.3 285.50h9.2M760.5 285.50h9.5M735.1 324.50h4.4M760.5 324.50h4.5M735.1 314.50h4.4M760.5 314.50h4.5M735.1 307.50h4.4M760.5 307.50h4.5M735.1 302.50h4.4M760.5 302.50h4.5M735.1 297.50h4.4M760.5 297.50h4.5M735.1 294.50h4.4M760.5 294.50h4.5M735.1 290.50h4.4M760.5 290.50h4.5M735.1 287.50h4.4M760.5 287.50h4.5M730.3 341.50h9.2M760.5 341.50h9.5M735.1 380.50h4.4M760.5 380.50h4.5M735.1 371.50h4.4M760.5 371.50h4.5M735.1 364.50h4.4M760.5 364.50h4.5M735.1 358.50h4.4M760.5 358.50h4.5M735.1 354.50h4.4M760.5 354.50h4.5M735.1 350.50h4.4M760.5 350.50h4.5M735.1 347.50h4.4M760.5 347.50h4.5M735.1 344.50h4.4M760.5 344.50h4.5M730.3 397.50h9.2M760.5 397.50h9.5M735.1 437.50h4.4M760.5 437.50h4.5M735.1 427.50h4.4M760.5 427.50h4.5M735.1 420.50h4.4M760.5 420.50h4.5M735.1 414.50h4.4M760.5 414.50h4.5M735.1 410.50h4.4M760.5 410.50h4.5M735.1 406.50h4.4M760.5 406.50h4.5M735.1 403.50h4.4M760.5 403.50h4.5M735.1 400.50h4.4M760.5 400.50h4.5M730.3 454.50h9.2M760.5 454.50h9.5M735.1 493.50h4.4M760.5 493.50h4.5M735.1 483.50h4.4M760.5 483.50h4.5M735.1 476.50h4.4M760.5 476.50h4.5M735.1 471.50h4.4M760.5 471.50h4.5M735.1 466.50h4.4M760.5 466.50h4.5M735.1 462.50h4.4M760.5 462.50h4.5M735.1 459.50h4.4M760.5 459.50h4.5M735.1 456.50h4.4M760.5 456.50h4.5M730.3 510.50h9.2M760.5 510.50h9.5" stroke="#2b2624" stroke-width="1" fill="none"/>
<path d="M739.5 60V510.8M760.5 60V510.8" stroke="#2b2624" stroke-width="1" fill="none"/>
<text x="730.2" y="67.90" text-anchor="end" style="font-size:13.6px">10<tspan dy="-7">-9</tspan></text>
<text x="730.2" y="124.17" text-anchor="end" style="font-size:13.6px">10<tspan dy="-7">-10</tspan></text>
<text x="730.2" y="180.44" text-anchor="end" style="font-size:13.6px">10<tspan dy="-7">-11</tspan></text>
<text x="730.2" y="236.71" text-anchor="end" style="font-size:13.6px">10<tspan dy="-7">-12</tspan></text>
<text x="730.2" y="292.98" text-anchor="end" style="font-size:13.6px">10<tspan dy="-7">-13</tspan></text>
<text x="730.2" y="349.25" text-anchor="end" style="font-size:13.6px">10<tspan dy="-7">-14</tspan></text>
<text x="730.2" y="405.52" text-anchor="end" style="font-size:13.6px">10<tspan dy="-7">-15</tspan></text>
<text x="730.2" y="461.79" text-anchor="end" style="font-size:13.6px">10<tspan dy="-7">-16</tspan></text>
<text x="730.2" y="518.06" text-anchor="end" style="font-size:13.6px">10<tspan dy="-7">-17</tspan></text>
<text x="712.2" y="551.9" textLength="8.6" lengthAdjust="spacingAndGlyphs">V</text><text class="s" x="724.3" y="547.6">2</text><text x="732.7" y="551.9" textLength="11" lengthAdjust="spacingAndGlyphs">m</text><text class="s" x="746.7" y="547.6" textLength="7.6" lengthAdjust="spacingAndGlyphs">-2</text><text x="758" y="551.9" textLength="15.1" lengthAdjust="spacingAndGlyphs">Hz</text><text class="s" x="775.8" y="547.6" textLength="7.2" lengthAdjust="spacingAndGlyphs">-1</text>
<text class="t" x="723.8" y="581.6">UIOWA 20121009</text>
</svg>
</body></html>
